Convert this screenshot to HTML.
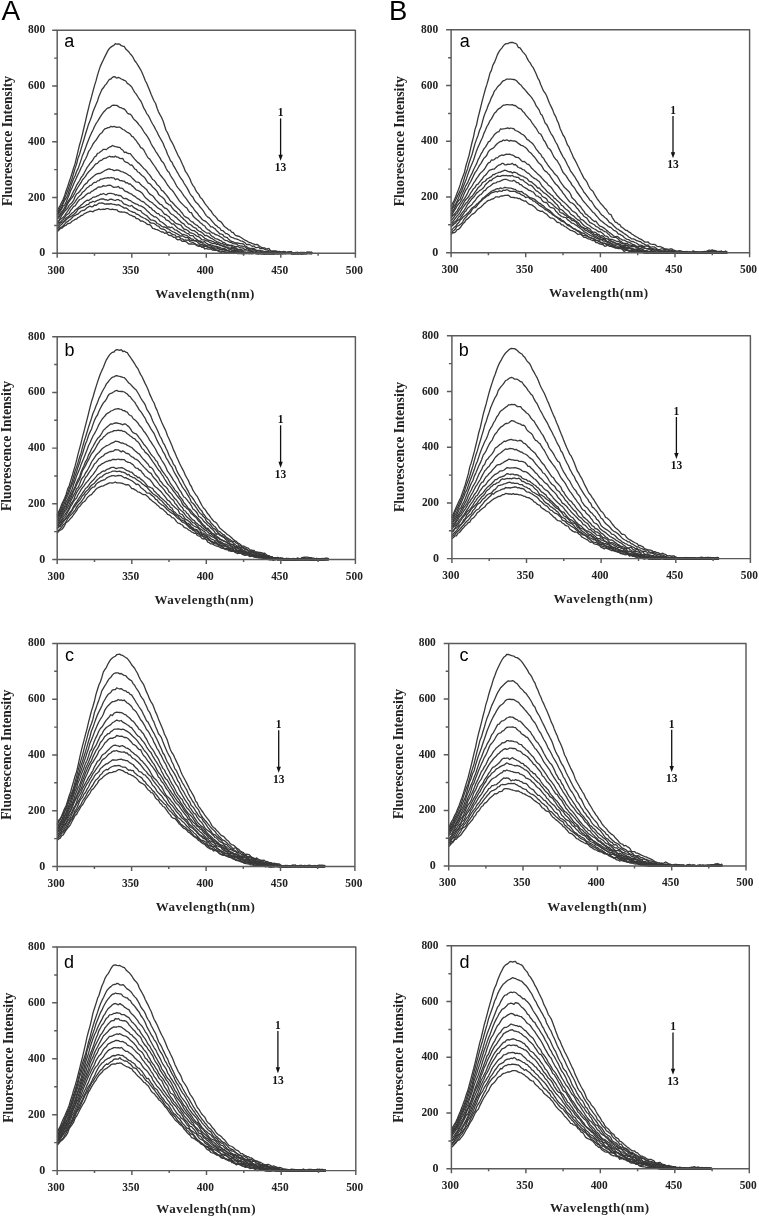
<!DOCTYPE html>
<html><head><meta charset="utf-8"><style>
html,body{margin:0;padding:0;background:#fff;}
body{width:759px;height:1217px;overflow:hidden;font-family:"Liberation Sans",sans-serif;}
svg{display:block;will-change:transform;}
</style></head><body>
<svg width="759" height="1217" viewBox="0 0 759 1217">
<g fill="none" stroke="#383838" stroke-width="1.3" stroke-linejoin="round">
<path d="M57.2,211.3 58.7,208.1 60.2,205.3 61.7,202.2 63.2,199.2 64.7,195.4 66.1,190.8 67.6,186.7 69.1,182 70.6,177.7 72.1,173 73.6,168 75.1,163.6 76.6,157.1 78.1,150.9 79.6,144.7 81.1,139.6 82.5,133.9 84,127.5 85.5,121.1 87,114.5 88.5,108.4 90,102.2 91.5,96.9 93,91.1 94.5,85.6 96,80.9 97.5,75.1 98.9,70.6 100.4,66.1 101.9,62.9 103.4,59.8 104.9,56.6 106.4,53.6 107.9,50.6 109.4,48.5 110.9,47.1 112.4,46.1 113.9,45.2 115.3,43.7 116.8,44.1 118.3,44 119.8,44.2 121.3,45.7 122.8,46.2 124.3,46.5 125.8,49.1 127.3,50.4 128.8,51.8 130.3,54 131.8,55.5 133.2,57.7 134.7,60.8 136.2,62.5 137.7,64.8 139.2,67.3 140.7,69.8 142.2,73.1 143.7,76.5 145.2,80.5 146.7,83.2 148.2,86.9 149.6,90.3 151.1,94.2 152.6,97.7 154.1,101 155.6,103.5 157.1,108.2 158.6,112.1 160.1,114.9 161.6,117.5 163.1,121 164.6,125.8 166,130.2 167.5,132.8 169,136.3 170.5,139.9 172,142.4 173.5,145.2 175,148.8 176.5,152.1 178,155.3 179.5,157.8 181,161.1 182.4,164.3 183.9,167.4 185.4,171.4 186.9,173.4 188.4,176 189.9,178.8 191.4,182.8 192.9,185.4 194.4,187.3 195.9,190.7 197.4,192.8 198.8,194.4 200.3,197.5 201.8,198.7 203.3,200.9 204.8,203.4 206.3,205.4 207.8,207.2 209.3,209.3 210.8,210.7 212.3,213.2 213.8,215.2 215.2,216.3 216.7,218.1 218.2,220.3 219.7,221.1 221.2,222 222.7,224.1 224.2,226.3 225.7,227.4 227.2,228.6 228.7,229.9 230.2,230.2 231.6,232.1 233.1,232.5 234.6,234.4 236.1,235.7 237.6,236 239.1,236.4 240.6,237.2 242.1,238.2 243.6,239.3 245.1,240.2 246.6,240.8 248,241.8 249.5,242.4 251,242.9 252.5,243.7 254,244.1 255.5,244.6 257,244.4 258.5,245.4 260,246.6 261.5,247.4 263,247.8 264.4,247.8 265.9,248.6 267.4,248.8 268.9,248.4 270.4,250.6 271.9,251.1 273.4,250.9 274.9,250.8 276.4,251 277.9,251.6 279.4,251.5 280.8,251.8 282.3,252.4 283.8,251.4 285.3,252 286.8,252.9 288.3,253.2 289.8,253.4 291.3,253.4 292.8,253.7 294.3,253.7 295.8,253.3 297.3,253.7 298.7,253.6 300.2,253 301.7,252.7 303.2,252.3 304.7,253.6 306.2,253.6 307.7,253.6 309.2,253.2 310.7,252.7 312.2,253.7"/>
<path d="M57.2,212.4 58.7,210.7 60.2,207.4 61.7,205.2 63.2,201.7 64.7,197.7 66.1,194.5 67.6,190.8 69.1,186.6 70.6,182.7 72.1,178.6 73.6,173.3 75.1,168.4 76.6,164.1 78.1,157.9 79.6,154.2 81.1,148.8 82.5,144.1 84,139.2 85.5,134 87,129.2 88.5,124.4 90,120.8 91.5,116.8 93,111.7 94.5,108 96,104.4 97.5,101 98.9,96.4 100.4,92.9 101.9,89.5 103.4,87.8 104.9,85.4 106.4,83.9 107.9,81.5 109.4,79.3 110.9,79 112.4,77.4 113.9,76.7 115.3,77 116.8,78.2 118.3,77.3 119.8,78 121.3,79 122.8,79.6 124.3,80.4 125.8,81 127.3,83.4 128.8,84.3 130.3,85.5 131.8,87.1 133.2,89.7 134.7,92.4 136.2,94.1 137.7,96.5 139.2,99 140.7,100.9 142.2,104 143.7,107.9 145.2,110.3 146.7,113.6 148.2,115.4 149.6,118 151.1,121.2 152.6,124 154.1,126.4 155.6,129.5 157.1,132 158.6,135.4 160.1,138 161.6,140.6 163.1,143.3 164.6,147.3 166,150 167.5,154.2 169,157.3 170.5,160.7 172,162.3 173.5,165.7 175,168.1 176.5,170.8 178,173.3 179.5,176.2 181,178.5 182.4,180.1 183.9,183 185.4,185.4 186.9,187.6 188.4,190.4 189.9,193.5 191.4,195.7 192.9,197.1 194.4,200.2 195.9,202.3 197.4,203.5 198.8,205.1 200.3,207.3 201.8,208.9 203.3,210.8 204.8,213.4 206.3,215.6 207.8,217.1 209.3,217.9 210.8,219.7 212.3,221.5 213.8,223.1 215.2,224.9 216.7,225.8 218.2,227.4 219.7,228 221.2,230.3 222.7,230.6 224.2,231.9 225.7,233.6 227.2,233.7 228.7,234.7 230.2,236.7 231.6,237.4 233.1,237.7 234.6,238.6 236.1,238.8 237.6,239.3 239.1,240 240.6,240.9 242.1,241.1 243.6,241.9 245.1,242.8 246.6,244.7 248,244.5 249.5,244.5 251,245.5 252.5,246.4 254,245.9 255.5,247.7 257,247.7 258.5,247 260,248.5 261.5,248.6 263,248.3 264.4,249.3 265.9,249.6 267.4,249.8 268.9,250.9 270.4,251.2 271.9,251.3 273.4,251.3 274.9,251.8 276.4,252.2 277.9,253 279.4,253.2 280.8,252.7 282.3,253 283.8,253.6 285.3,253.7 286.8,252.3 288.3,252.2 289.8,252.4 291.3,253.7 292.8,253.4 294.3,253.1 295.8,252.4 297.3,252.6 298.7,253 300.2,252.9 301.7,253.7 303.2,253.2 304.7,253.1 306.2,253.5 307.7,252.8 309.2,252.1 310.7,253.4 312.2,253.7"/>
<path d="M57.2,214.5 58.7,212.1 60.2,209.8 61.7,207.6 63.2,203.4 64.7,200.3 66.1,198.2 67.6,195.5 69.1,190.8 70.6,186.9 72.1,182.6 73.6,178.8 75.1,175.7 76.6,171.5 78.1,168.6 79.6,164.4 81.1,159.9 82.5,155.4 84,151.9 85.5,147.9 87,143.8 88.5,139.9 90,136.2 91.5,132.9 93,130 94.5,126.5 96,123.7 97.5,121.5 98.9,119.1 100.4,116.6 101.9,114.4 103.4,112.3 104.9,110.7 106.4,109.1 107.9,108 109.4,107.7 110.9,106.4 112.4,105.3 113.9,105.1 115.3,105.4 116.8,105.4 118.3,106.4 119.8,107.6 121.3,107.7 122.8,108.7 124.3,109 125.8,110.6 127.3,112.9 128.8,114 130.3,114.1 131.8,115.9 133.2,118.3 134.7,120.1 136.2,121.3 137.7,123 139.2,125.1 140.7,126.6 142.2,128.8 143.7,131.5 145.2,133.7 146.7,135.5 148.2,137.9 149.6,140.3 151.1,143.8 152.6,146.4 154.1,148.5 155.6,151.3 157.1,153.3 158.6,155.8 160.1,158.1 161.6,161.1 163.1,162.4 164.6,165 166,168.3 167.5,170.9 169,172.2 170.5,175.5 172,177.8 173.5,180 175,182.7 176.5,185.8 178,187.8 179.5,189.7 181,191.4 182.4,193.5 183.9,195.9 185.4,197.7 186.9,199.7 188.4,201.8 189.9,203.9 191.4,206 192.9,207.5 194.4,209.9 195.9,211.8 197.4,213.2 198.8,215.5 200.3,216.9 201.8,219.1 203.3,220.3 204.8,220.9 206.3,221.9 207.8,223.4 209.3,224.9 210.8,226.8 212.3,226.8 213.8,228 215.2,228.9 216.7,230.8 218.2,232 219.7,233.9 221.2,234 222.7,234.5 224.2,236.6 225.7,237.2 227.2,237.5 228.7,239.3 230.2,240.6 231.6,241.3 233.1,241.7 234.6,242.7 236.1,242.8 237.6,243 239.1,243.3 240.6,243.7 242.1,243.7 243.6,244.2 245.1,246 246.6,246.7 248,247.5 249.5,248.2 251,248.3 252.5,248.5 254,248.5 255.5,249.8 257,250.4 258.5,250.3 260,250.5 261.5,250.8 263,251 264.4,251.6 265.9,251.3 267.4,251.5 268.9,251.9 270.4,252.5 271.9,252.7 273.4,253.7 274.9,253.7 276.4,253.7 277.9,253.7 279.4,253.7 280.8,253.4 282.3,253.7 283.8,253.7 285.3,253.7 286.8,253.3 288.3,253 289.8,253.2 291.3,253.7 292.8,253.6 294.3,253.5 295.8,253 297.3,253 298.7,253.5 300.2,253.7 301.7,253.7 303.2,253.7 304.7,253.7 306.2,253.7 307.7,253.7 309.2,253.5 310.7,253.1 312.2,253.4"/>
<path d="M57.2,215.2 58.7,213.7 60.2,211.1 61.7,208.9 63.2,206 64.7,204.9 66.1,202 67.6,198.5 69.1,195 70.6,190.6 72.1,187.7 73.6,184.1 75.1,180.8 76.6,177.4 78.1,174.2 79.6,171.3 81.1,167.8 82.5,165.3 84,161.4 85.5,159 87,155.7 88.5,151.7 90,149.5 91.5,147 93,144 94.5,141.9 96,140.2 97.5,137.9 98.9,135.7 100.4,133.7 101.9,132.8 103.4,130.4 104.9,128.8 106.4,128.4 107.9,127.7 109.4,127.5 110.9,126.3 112.4,126.8 113.9,126.4 115.3,126.8 116.8,127.4 118.3,127.2 119.8,127.2 121.3,128.2 122.8,129.5 124.3,130 125.8,131.2 127.3,132.3 128.8,132.9 130.3,134.1 131.8,136.3 133.2,136.8 134.7,139 136.2,140.6 137.7,143 139.2,144.9 140.7,147.6 142.2,148.2 143.7,149.7 145.2,152.8 146.7,155.5 148.2,158 149.6,158.9 151.1,161.2 152.6,163.3 154.1,165.5 155.6,167.6 157.1,170.2 158.6,172.1 160.1,174.8 161.6,176.5 163.1,178.3 164.6,180.2 166,182.5 167.5,185 169,186.8 170.5,189 172,190.1 173.5,192 175,194.4 176.5,196.7 178,198.9 179.5,201.1 181,202.7 182.4,204.1 183.9,205.6 185.4,207.1 186.9,208 188.4,210.6 189.9,212.4 191.4,212.6 192.9,215.8 194.4,217.5 195.9,218.7 197.4,219.9 198.8,221.1 200.3,222.7 201.8,223.8 203.3,225.2 204.8,226 206.3,228.4 207.8,229.6 209.3,230.4 210.8,231.8 212.3,233 213.8,233.2 215.2,234.5 216.7,234.9 218.2,235.5 219.7,236.4 221.2,237.2 222.7,238.3 224.2,239.9 225.7,240.4 227.2,240.7 228.7,241.7 230.2,242.3 231.6,242.5 233.1,243.7 234.6,243.9 236.1,243.6 237.6,245 239.1,245.5 240.6,246.2 242.1,246 243.6,246.7 245.1,246.9 246.6,248.1 248,248.5 249.5,248.9 251,250.2 252.5,249.4 254,249.4 255.5,251 257,250.6 258.5,251 260,251.1 261.5,251.3 263,252.5 264.4,252.5 265.9,251.8 267.4,252.6 268.9,253.4 270.4,253.7 271.9,253.7 273.4,253.7 274.9,252.6 276.4,252.8 277.9,252.9 279.4,251.9 280.8,252.8 282.3,253.2 283.8,252.7 285.3,252.1 286.8,252.4 288.3,252.5 289.8,251.9 291.3,251.7 292.8,252.7 294.3,252.9 295.8,253.3 297.3,253.1 298.7,253.3 300.2,253.3 301.7,253.5 303.2,252.9 304.7,252.4 306.2,253 307.7,252.7 309.2,253.4 310.7,253.3 312.2,252.9"/>
<path d="M57.2,217.3 58.7,215.9 60.2,213.9 61.7,211.7 63.2,210.2 64.7,207.4 66.1,205 67.6,201.9 69.1,199.8 70.6,197.7 72.1,194.3 73.6,191.1 75.1,188.6 76.6,185.2 78.1,182.8 79.6,180.5 81.1,177.5 82.5,175.8 84,173.3 85.5,170.5 87,167.6 88.5,165.6 90,163.4 91.5,161.8 93,159.6 94.5,157 96,156.1 97.5,153.4 98.9,153 100.4,151.8 101.9,150.7 103.4,149.3 104.9,149.4 106.4,149.6 107.9,148.1 109.4,147.2 110.9,146.7 112.4,145.5 113.9,146.2 115.3,146.7 116.8,146.8 118.3,147.4 119.8,147.3 121.3,149.2 122.8,150 124.3,152.5 125.8,152.1 127.3,153.1 128.8,153.5 130.3,153.7 131.8,155.6 133.2,157.3 134.7,159.1 136.2,160.8 137.7,162.4 139.2,163.4 140.7,165 142.2,166.6 143.7,168.4 145.2,169.6 146.7,171.3 148.2,173.4 149.6,174.9 151.1,177 152.6,179.5 154.1,180.3 155.6,182.1 157.1,184.7 158.6,185.8 160.1,187.7 161.6,190.4 163.1,191.1 164.6,193 166,194.6 167.5,196.5 169,198.6 170.5,201.1 172,202 173.5,203.7 175,205.5 176.5,206.9 178,208.5 179.5,209.8 181,211.7 182.4,213.2 183.9,215.8 185.4,216.9 186.9,217.6 188.4,218.3 189.9,220.1 191.4,221.6 192.9,222 194.4,223.8 195.9,224.8 197.4,225.4 198.8,227.1 200.3,227.8 201.8,229.7 203.3,230.7 204.8,231.8 206.3,232.8 207.8,233.2 209.3,233.2 210.8,235.2 212.3,236.6 213.8,237.1 215.2,238.6 216.7,238.9 218.2,239.4 219.7,240.4 221.2,240.8 222.7,242.4 224.2,242.4 225.7,243.8 227.2,244.4 228.7,244.9 230.2,245.3 231.6,245.2 233.1,245.8 234.6,246.5 236.1,246.7 237.6,246.4 239.1,247.3 240.6,247.8 242.1,247.8 243.6,248.4 245.1,249.7 246.6,248.7 248,248.4 249.5,250.6 251,250.8 252.5,250.9 254,250.8 255.5,251 257,251.7 258.5,252.6 260,252.5 261.5,252.2 263,253.2 264.4,253.7 265.9,253.6 267.4,253.7 268.9,253.7 270.4,253.7 271.9,253.4 273.4,253.7 274.9,253.7 276.4,253.7 277.9,253.6 279.4,253.7 280.8,253.5 282.3,253 283.8,252.6 285.3,252.1 286.8,253.1 288.3,253.4 289.8,253.7 291.3,253 292.8,253.5 294.3,253.4 295.8,253.1 297.3,253.7 298.7,253.4 300.2,253.3 301.7,253.7 303.2,253.6 304.7,252.9 306.2,253.7 307.7,253.3 309.2,253.2 310.7,253 312.2,252.9"/>
<path d="M57.2,219.1 58.7,217.7 60.2,215.4 61.7,213.8 63.2,211.3 64.7,209.6 66.1,207.2 67.6,203.8 69.1,201.5 70.6,199.4 72.1,197.6 73.6,195.3 75.1,192.5 76.6,189.4 78.1,187 79.6,184.6 81.1,182.5 82.5,179.7 84,178.1 85.5,176.4 87,173.8 88.5,172 90,170.4 91.5,169 93,167.3 94.5,165.3 96,163.8 97.5,163.3 98.9,161.6 100.4,160.5 101.9,160.1 103.4,158.7 104.9,158.3 106.4,157.9 107.9,157 109.4,156.2 110.9,156.8 112.4,156.6 113.9,157.2 115.3,156.1 116.8,157.2 118.3,157.2 119.8,158.4 121.3,158.7 122.8,158.5 124.3,161.3 125.8,162.1 127.3,162.5 128.8,163.6 130.3,165.1 131.8,165 133.2,166.7 134.7,169 136.2,169.7 137.7,172 139.2,172.5 140.7,174.3 142.2,175.7 143.7,176.6 145.2,178.4 146.7,180.9 148.2,183.1 149.6,183.6 151.1,184.9 152.6,187.1 154.1,188.2 155.6,189.8 157.1,191.4 158.6,194.4 160.1,195.8 161.6,196.7 163.1,198 164.6,199.4 166,202.6 167.5,203.6 169,204.8 170.5,205.1 172,207.7 173.5,209.5 175,210.9 176.5,211.9 178,213.8 179.5,214.6 181,216.7 182.4,217.8 183.9,219.5 185.4,220.6 186.9,222.2 188.4,224 189.9,224.2 191.4,225.2 192.9,226.7 194.4,227.7 195.9,228.2 197.4,230 198.8,231 200.3,231.6 201.8,232.4 203.3,233.7 204.8,235.7 206.3,235.4 207.8,236.1 209.3,237.1 210.8,238.1 212.3,238.7 213.8,239.7 215.2,240.8 216.7,241.6 218.2,242.2 219.7,242.9 221.2,243.8 222.7,243.6 224.2,244.8 225.7,244.7 227.2,245.7 228.7,245.8 230.2,245.5 231.6,246.2 233.1,247.3 234.6,247.6 236.1,248 237.6,249.3 239.1,249.5 240.6,249.5 242.1,249.9 243.6,250.1 245.1,250 246.6,250 248,250.2 249.5,250.5 251,251.3 252.5,251.6 254,252.1 255.5,252.4 257,252.7 258.5,253.7 260,253.6 261.5,253.5 263,253.7 264.4,253.6 265.9,253.2 267.4,253.3 268.9,252.3 270.4,253.7 271.9,253.7 273.4,253.7 274.9,253.4 276.4,252 277.9,253.7 279.4,253.5 280.8,253.2 282.3,253.4 283.8,253.1 285.3,253.7 286.8,253.4 288.3,253.2 289.8,253.2 291.3,253.6 292.8,253.1 294.3,253.4 295.8,253.3 297.3,253.5 298.7,253.7 300.2,253.7 301.7,253.5 303.2,253 304.7,253.6 306.2,253.5 307.7,253.1 309.2,253.1 310.7,252.6 312.2,251.9"/>
<path d="M57.2,222 58.7,221 60.2,218.1 61.7,215.4 63.2,213.3 64.7,211.2 66.1,209.8 67.6,208.1 69.1,205.4 70.6,203.9 72.1,202.5 73.6,200.4 75.1,196.6 76.6,194 78.1,193 79.6,191.5 81.1,189.4 82.5,188 84,185.3 85.5,183.9 87,182.9 88.5,180.4 90,179.5 91.5,177.9 93,176.7 94.5,175.6 96,174.3 97.5,173.7 98.9,173.5 100.4,173.3 101.9,172.4 103.4,171.5 104.9,170.5 106.4,169.8 107.9,169.1 109.4,169 110.9,169.4 112.4,169.7 113.9,170.6 115.3,170.3 116.8,170 118.3,170.2 119.8,170.9 121.3,171.6 122.8,171.8 124.3,172.7 125.8,173.3 127.3,174.2 128.8,175.3 130.3,175.8 131.8,177.6 133.2,179 134.7,180.5 136.2,181.9 137.7,182.1 139.2,182.7 140.7,184.6 142.2,185.9 143.7,187 145.2,188.4 146.7,189.6 148.2,192.2 149.6,193.9 151.1,194.9 152.6,195.7 154.1,197.5 155.6,199.6 157.1,201.1 158.6,202.7 160.1,204.3 161.6,204.7 163.1,206.6 164.6,208 166,208.3 167.5,209.6 169,211.3 170.5,213.4 172,214.5 173.5,215.1 175,216.6 176.5,217.6 178,219.3 179.5,220.5 181,222.1 182.4,223.1 183.9,223.8 185.4,226 186.9,227 188.4,227.8 189.9,229.1 191.4,230.2 192.9,230.6 194.4,230.7 195.9,231.9 197.4,233.1 198.8,235 200.3,234.7 201.8,235.8 203.3,236.9 204.8,238.3 206.3,238.9 207.8,240 209.3,240.3 210.8,240.6 212.3,241.3 213.8,241.9 215.2,243 216.7,242.7 218.2,243.9 219.7,245.3 221.2,245.5 222.7,246.1 224.2,246.8 225.7,247 227.2,247.1 228.7,248 230.2,248.2 231.6,247.7 233.1,248 234.6,248.7 236.1,249.2 237.6,249.7 239.1,250 240.6,250 242.1,250.5 243.6,252.1 245.1,251.8 246.6,252.3 248,251.8 249.5,252.4 251,252.4 252.5,251.5 254,252.8 255.5,253.5 257,253.7 258.5,253.7 260,253.7 261.5,253.7 263,253.7 264.4,253.7 265.9,253.7 267.4,253.7 268.9,253.7 270.4,253.7 271.9,253.4 273.4,252.7 274.9,252 276.4,252.1 277.9,252.6 279.4,252.9 280.8,252.2 282.3,252 283.8,252.8 285.3,252.8 286.8,252.9 288.3,253.1 289.8,253.4 291.3,253.7 292.8,253.7 294.3,253.7 295.8,253.2 297.3,253 298.7,253.7 300.2,252.8 301.7,252.6 303.2,253.7 304.7,252.7 306.2,252.6 307.7,251.9 309.2,253.2 310.7,253 312.2,252.9"/>
<path d="M57.2,223.1 58.7,221.5 60.2,219.3 61.7,218.6 63.2,217.2 64.7,215.6 66.1,213.4 67.6,211.4 69.1,209 70.6,206.9 72.1,205.1 73.6,203.6 75.1,201.8 76.6,199.4 78.1,197.4 79.6,195.9 81.1,194.6 82.5,192.2 84,191.3 85.5,189.6 87,187.8 88.5,187 90,185.4 91.5,185.1 93,183.3 94.5,182.4 96,182.4 97.5,180.9 98.9,180.7 100.4,179.2 101.9,179.2 103.4,178.7 104.9,178.2 106.4,178.1 107.9,177.7 109.4,178 110.9,177.5 112.4,177.8 113.9,177.9 115.3,179.7 116.8,178.8 118.3,179.2 119.8,180.6 121.3,180.7 122.8,181 124.3,181.2 125.8,182.8 127.3,182.7 128.8,184 130.3,183.9 131.8,185.6 133.2,186.6 134.7,188.2 136.2,189.9 137.7,190.3 139.2,191.2 140.7,191.9 142.2,193.2 143.7,195.3 145.2,197.5 146.7,198.7 148.2,200 149.6,201.4 151.1,202 152.6,203.1 154.1,204.6 155.6,205.8 157.1,207.2 158.6,208.4 160.1,209.3 161.6,210.3 163.1,212.3 164.6,214.3 166,214.5 167.5,215.8 169,216.6 170.5,218.9 172,220 173.5,221 175,222.8 176.5,223.7 178,224.1 179.5,224.7 181,225.2 182.4,227.3 183.9,229 185.4,229.4 186.9,229.9 188.4,231 189.9,232.7 191.4,233 192.9,233.5 194.4,234.3 195.9,235.6 197.4,236.3 198.8,236.8 200.3,238 201.8,239.7 203.3,239.8 204.8,240 206.3,240.8 207.8,241 209.3,242.1 210.8,242.8 212.3,243.5 213.8,243.7 215.2,243.5 216.7,244.6 218.2,244.2 219.7,244.6 221.2,245.3 222.7,246 224.2,246 225.7,247.2 227.2,247.9 228.7,249 230.2,248.9 231.6,248.6 233.1,249 234.6,249.5 236.1,250.1 237.6,250.4 239.1,251.5 240.6,251 242.1,251.6 243.6,252.3 245.1,252.7 246.6,253 248,252.4 249.5,252.1 251,253.3 252.5,252.8 254,252.7 255.5,253.3 257,253.7 258.5,253.7 260,253.7 261.5,253.5 263,253.6 264.4,253.7 265.9,253.7 267.4,253.7 268.9,253.3 270.4,253.7 271.9,253.7 273.4,253.7 274.9,253.7 276.4,253 277.9,252.7 279.4,252.7 280.8,252.8 282.3,253.6 283.8,253.4 285.3,253 286.8,252.9 288.3,251.9 289.8,252.1 291.3,252.3 292.8,252.9 294.3,253.7 295.8,253.3 297.3,252.6 298.7,252.9 300.2,253.6 301.7,253.7 303.2,253.7 304.7,253 306.2,253 307.7,252.7 309.2,252.3 310.7,252.2 312.2,253"/>
<path d="M57.2,224.4 58.7,222.8 60.2,222.3 61.7,220.7 63.2,219.6 64.7,217.5 66.1,215.3 67.6,214.2 69.1,213.3 70.6,210.4 72.1,208.6 73.6,206.4 75.1,205.9 76.6,203.7 78.1,201.4 79.6,199.5 81.1,199 82.5,197.9 84,196.9 85.5,195.3 87,193.9 88.5,193.1 90,193 91.5,191.4 93,190.8 94.5,189.6 96,188.9 97.5,187.5 98.9,186.8 100.4,187.1 101.9,186.6 103.4,185.6 104.9,186.1 106.4,185.9 107.9,185.3 109.4,185.1 110.9,185.4 112.4,186.6 113.9,187.3 115.3,187.1 116.8,187.2 118.3,186.4 119.8,188 121.3,188.1 122.8,188.7 124.3,190.6 125.8,191.5 127.3,191.9 128.8,192.9 130.3,193.6 131.8,194.2 133.2,195.6 134.7,196.2 136.2,197.5 137.7,198.7 139.2,199.3 140.7,200.7 142.2,201.5 143.7,201.9 145.2,203.4 146.7,204.8 148.2,205.7 149.6,207.3 151.1,207.9 152.6,210 154.1,210.7 155.6,212.2 157.1,213.6 158.6,213.7 160.1,215.6 161.6,215.8 163.1,217 164.6,217.7 166,219.9 167.5,220.4 169,221.1 170.5,222.7 172,224.1 173.5,223.9 175,225.5 176.5,227.1 178,228.5 179.5,229.1 181,229.9 182.4,230.8 183.9,231 185.4,232.5 186.9,233.3 188.4,233.6 189.9,235.4 191.4,235.6 192.9,235.7 194.4,237.7 195.9,238.9 197.4,239.9 198.8,241.1 200.3,240.8 201.8,242.2 203.3,242 204.8,241.7 206.3,243.4 207.8,243.9 209.3,245.2 210.8,244.7 212.3,245.5 213.8,245.9 215.2,246.2 216.7,246.3 218.2,247 219.7,247.4 221.2,248.1 222.7,248.3 224.2,249.2 225.7,249.2 227.2,250.4 228.7,250.5 230.2,249.4 231.6,250 233.1,251.1 234.6,251 236.1,251.7 237.6,252.6 239.1,252.6 240.6,252.1 242.1,252.1 243.6,252.4 245.1,253.1 246.6,253.7 248,252.8 249.5,253 251,253.6 252.5,253.7 254,253.7 255.5,252.7 257,253.6 258.5,253.5 260,253.3 261.5,253.4 263,253.5 264.4,253.7 265.9,253.7 267.4,252.9 268.9,253.5 270.4,253 271.9,253.7 273.4,253.7 274.9,253.4 276.4,252.8 277.9,253.6 279.4,253.2 280.8,253 282.3,253.5 283.8,253.2 285.3,253.7 286.8,253.7 288.3,253.6 289.8,253.7 291.3,253.7 292.8,253.7 294.3,253.7 295.8,253.7 297.3,253.3 298.7,253.5 300.2,252.8 301.7,253.6 303.2,253.7 304.7,252.9 306.2,252.9 307.7,252.6 309.2,253.4 310.7,252.9 312.2,253"/>
<path d="M57.2,226.3 58.7,225.1 60.2,223.2 61.7,222.4 63.2,221.5 64.7,220.5 66.1,218 67.6,217 69.1,215.9 70.6,214.6 72.1,213 73.6,212 75.1,210.3 76.6,209 78.1,207.7 79.6,206.6 81.1,205 82.5,203.9 84,202.6 85.5,201.3 87,200.2 88.5,200.5 90,199.4 91.5,198.6 93,197.1 94.5,197.2 96,196.6 97.5,195.8 98.9,195.3 100.4,194.2 101.9,194.3 103.4,193.5 104.9,194.3 106.4,194.8 107.9,193.6 109.4,193.4 110.9,193.4 112.4,193.7 113.9,193.9 115.3,195 116.8,194.7 118.3,195.5 119.8,195.4 121.3,196.1 122.8,197.9 124.3,198.7 125.8,198.3 127.3,199.1 128.8,200.1 130.3,200.6 131.8,201.7 133.2,202.7 134.7,203.4 136.2,204.2 137.7,204.4 139.2,205.7 140.7,205.9 142.2,206.6 143.7,207.5 145.2,208.8 146.7,210.4 148.2,211.8 149.6,213.1 151.1,214.6 152.6,215.5 154.1,216.8 155.6,216.8 157.1,217.9 158.6,219.4 160.1,221.4 161.6,222 163.1,223 164.6,224.3 166,225.5 167.5,227.1 169,226.9 170.5,227.7 172,227.1 173.5,228.6 175,229.9 176.5,230.1 178,231.4 179.5,232.4 181,233.5 182.4,234.6 183.9,234.5 185.4,235.1 186.9,235.4 188.4,236.9 189.9,237.8 191.4,239.1 192.9,239.1 194.4,240.6 195.9,240.7 197.4,240.8 198.8,241 200.3,242.5 201.8,242.5 203.3,243.7 204.8,244.6 206.3,245.6 207.8,245.1 209.3,244.8 210.8,246 212.3,246.9 213.8,247.4 215.2,246.4 216.7,246.8 218.2,248 219.7,249.4 221.2,249.7 222.7,249.1 224.2,248.6 225.7,249.6 227.2,250.5 228.7,251 230.2,252 231.6,251.3 233.1,252.1 234.6,251.5 236.1,252.7 237.6,253.2 239.1,252.8 240.6,253.2 242.1,252.8 243.6,253 245.1,253.7 246.6,253.3 248,252.9 249.5,253.7 251,252.8 252.5,252.8 254,252.7 255.5,253.7 257,253.7 258.5,253.7 260,253 261.5,253.7 263,253.7 264.4,253.7 265.9,253.7 267.4,253.5 268.9,253.7 270.4,253.7 271.9,253.4 273.4,252.6 274.9,252.6 276.4,253.1 277.9,253.7 279.4,253.7 280.8,253.7 282.3,253.6 283.8,253.5 285.3,252.5 286.8,252.8 288.3,253.6 289.8,252.7 291.3,252.5 292.8,252.9 294.3,253.4 295.8,253.7 297.3,253.7 298.7,253.4 300.2,253.7 301.7,253.7 303.2,253.6 304.7,253.3 306.2,253 307.7,252.8 309.2,252.4 310.7,253.3 312.2,252.8"/>
<path d="M57.2,228.9 58.7,227 60.2,225.6 61.7,224.3 63.2,222.6 64.7,221.5 66.1,219.8 67.6,218.4 69.1,217.4 70.6,216.6 72.1,215.7 73.6,214.5 75.1,213.2 76.6,211.8 78.1,209.1 79.6,208.4 81.1,207.5 82.5,207.3 84,206.7 85.5,205.8 87,204.6 88.5,204.3 90,202.5 91.5,202.3 93,201.2 94.5,202 96,201.1 97.5,200.3 98.9,199.8 100.4,199.2 101.9,199 103.4,198.9 104.9,199.8 106.4,199.7 107.9,200.5 109.4,199.5 110.9,199.2 112.4,199.5 113.9,200.1 115.3,200.5 116.8,199.7 118.3,199.6 119.8,200.7 121.3,200.9 122.8,202.7 124.3,204.2 125.8,204.5 127.3,205.2 128.8,205.8 130.3,206.1 131.8,205.3 133.2,207.1 134.7,208.1 136.2,208.9 137.7,209.9 139.2,210.4 140.7,210.7 142.2,212.8 143.7,213.7 145.2,214.8 146.7,215.5 148.2,217.3 149.6,218.7 151.1,220.2 152.6,220.1 154.1,220.6 155.6,221.4 157.1,223.5 158.6,224 160.1,224.9 161.6,226.2 163.1,227 164.6,227 166,227.6 167.5,228.6 169,229.2 170.5,230.5 172,231.3 173.5,232 175,232.6 176.5,233.5 178,234.4 179.5,235.3 181,236.3 182.4,235.7 183.9,236.6 185.4,237.5 186.9,237.3 188.4,238 189.9,240.1 191.4,240.3 192.9,240.7 194.4,240.6 195.9,241.2 197.4,242 198.8,243.6 200.3,244.5 201.8,244.7 203.3,244.9 204.8,246 206.3,246.4 207.8,246.9 209.3,247.1 210.8,247.2 212.3,247.8 213.8,248.8 215.2,248.2 216.7,247.9 218.2,248.8 219.7,248.8 221.2,249.3 222.7,249.6 224.2,249.9 225.7,250.9 227.2,250.8 228.7,250.7 230.2,251.7 231.6,250.9 233.1,250.6 234.6,250.6 236.1,250.7 237.6,251.5 239.1,252.5 240.6,253.2 242.1,253.7 243.6,253.5 245.1,253.4 246.6,253 248,253.7 249.5,252.6 251,251.8 252.5,252.6 254,252.6 255.5,252.7 257,252.9 258.5,253.2 260,253.3 261.5,253.7 263,253.4 264.4,253.4 265.9,253.2 267.4,253.7 268.9,253.5 270.4,253.4 271.9,253 273.4,253.7 274.9,253.3 276.4,252.8 277.9,252.8 279.4,253.2 280.8,253.5 282.3,253.5 283.8,253 285.3,252.4 286.8,252.9 288.3,253.4 289.8,253.2 291.3,253.1 292.8,253.7 294.3,253.7 295.8,253.6 297.3,253.1 298.7,253.7 300.2,253.7 301.7,253.4 303.2,253.7 304.7,253.6 306.2,253.3 307.7,253.3 309.2,253.7 310.7,253.6 312.2,253.6"/>
<path d="M57.2,229.9 58.7,229.2 60.2,227.3 61.7,227.1 63.2,225.7 64.7,224.2 66.1,222.4 67.6,221.7 69.1,220.2 70.6,219.4 72.1,217.8 73.6,215.9 75.1,215.5 76.6,214.4 78.1,214 79.6,212.4 81.1,211 82.5,210.5 84,210.4 85.5,209.2 87,207.8 88.5,206.9 90,206.2 91.5,206.9 93,206.5 94.5,205 96,205.4 97.5,204.2 98.9,203.2 100.4,203.1 101.9,202.8 103.4,203.4 104.9,204.1 106.4,203.9 107.9,204 109.4,204 110.9,203.7 112.4,204.2 113.9,204.4 115.3,204.6 116.8,205.1 118.3,204.7 119.8,205.4 121.3,206.3 122.8,207.1 124.3,208.1 125.8,207.9 127.3,208.8 128.8,210.2 130.3,211 131.8,211.6 133.2,212.4 134.7,212.4 136.2,214 137.7,214.4 139.2,215.2 140.7,216.6 142.2,217.2 143.7,218 145.2,218.5 146.7,219.7 148.2,220.3 149.6,222.1 151.1,223.1 152.6,223.1 154.1,223.4 155.6,224.6 157.1,225.8 158.6,226.1 160.1,228.2 161.6,229 163.1,229.1 164.6,229.6 166,231 167.5,232.6 169,232.1 170.5,232.9 172,234.2 173.5,234.7 175,234.9 176.5,237.1 178,236.7 179.5,237 181,238.9 182.4,238.8 183.9,240.3 185.4,239.9 186.9,240.3 188.4,239.9 189.9,241.5 191.4,242.2 192.9,242.3 194.4,243.4 195.9,244.3 197.4,244.8 198.8,245.2 200.3,246.1 201.8,246 203.3,246.1 204.8,246.6 206.3,246.2 207.8,247.3 209.3,247.2 210.8,248.2 212.3,248.3 213.8,249.8 215.2,249.7 216.7,249.9 218.2,250.4 219.7,250.8 221.2,251.1 222.7,251.5 224.2,252.6 225.7,252.5 227.2,252.5 228.7,252.6 230.2,253 231.6,252.9 233.1,252.5 234.6,252.9 236.1,253.3 237.6,252.7 239.1,252.5 240.6,252.5 242.1,252.3 243.6,253 245.1,253.2 246.6,252.7 248,253.3 249.5,253.3 251,253.1 252.5,253 254,253.3 255.5,252.8 257,253.1 258.5,252.9 260,252.5 261.5,252.6 263,252.6 264.4,253.5 265.9,253.7 267.4,253.7 268.9,253.4 270.4,252.6 271.9,253.6 273.4,253.3 274.9,253.7 276.4,253.7 277.9,253.7 279.4,253.2 280.8,253.1 282.3,252.6 283.8,253.5 285.3,252.9 286.8,252.6 288.3,252.9 289.8,252.9 291.3,253.4 292.8,253.7 294.3,253.7 295.8,253.7 297.3,252.1 298.7,253 300.2,252.3 301.7,252.7 303.2,252.8 304.7,252.7 306.2,253.4 307.7,252.9 309.2,252.9 310.7,253.7 312.2,253.3"/>
<path d="M57.2,231.5 58.7,230.4 60.2,228.6 61.7,228.2 63.2,227 64.7,225.7 66.1,225.3 67.6,223.6 69.1,223.5 70.6,222.8 72.1,221.1 73.6,220.5 75.1,219.3 76.6,219 78.1,217.5 79.6,216.9 81.1,215.5 82.5,215.4 84,213.9 85.5,213.2 87,212.4 88.5,211.8 90,211.1 91.5,211.3 93,211.8 94.5,210.5 96,210.2 97.5,209.7 98.9,208.9 100.4,209.7 101.9,209.4 103.4,209.2 104.9,209.3 106.4,208.7 107.9,208.7 109.4,209.2 110.9,209.6 112.4,209.1 113.9,209.7 115.3,209.6 116.8,209.8 118.3,211.3 119.8,211.9 121.3,212 122.8,212.1 124.3,212.2 125.8,212.6 127.3,213 128.8,214.2 130.3,215.1 131.8,215.4 133.2,216.5 134.7,216.7 136.2,218.5 137.7,218.6 139.2,219.5 140.7,221.2 142.2,221 143.7,221.7 145.2,222.5 146.7,223.9 148.2,224.7 149.6,224.5 151.1,225.9 152.6,228.4 154.1,228.7 155.6,229.4 157.1,229.6 158.6,230.3 160.1,231.2 161.6,232 163.1,231.9 164.6,233.4 166,232.8 167.5,234.1 169,235.4 170.5,235.5 172,235.9 173.5,237.3 175,237.4 176.5,239.1 178,239.8 179.5,239.4 181,240.2 182.4,241.4 183.9,241.4 185.4,241.4 186.9,242.2 188.4,243.8 189.9,244 191.4,244 192.9,244.1 194.4,243.8 195.9,245 197.4,245.9 198.8,246.3 200.3,246.1 201.8,247.3 203.3,247 204.8,249 206.3,248.4 207.8,249.1 209.3,249 210.8,249 212.3,250.1 213.8,250.2 215.2,250.3 216.7,250.3 218.2,251.2 219.7,251.8 221.2,252.7 222.7,251 224.2,251.7 225.7,252.1 227.2,253.1 228.7,252.5 230.2,253 231.6,252.4 233.1,252.4 234.6,252.9 236.1,252.7 237.6,253.6 239.1,253.6 240.6,253.7 242.1,253.7 243.6,253.7 245.1,253.6 246.6,252.7 248,253.7 249.5,253.7 251,253.7 252.5,253.7 254,253.4 255.5,253.2 257,253.2 258.5,253.5 260,253.2 261.5,253 263,253.7 264.4,253.7 265.9,253.7 267.4,253.7 268.9,253.7 270.4,253.5 271.9,253.3 273.4,253.7 274.9,253.6 276.4,253.7 277.9,253.4 279.4,253 280.8,252.3 282.3,252.2 283.8,253.1 285.3,253.4 286.8,253.7 288.3,253.4 289.8,252.4 291.3,252.5 292.8,253.7 294.3,253.7 295.8,253.7 297.3,253.6 298.7,253.5 300.2,253.2 301.7,252.4 303.2,253.2 304.7,253.7 306.2,252.5 307.7,252.7 309.2,253.4 310.7,253.7 312.2,253.7"/>
</g>
<g fill="none" stroke="#5a5a5a" stroke-width="1.45" stroke-linejoin="round">
<path d="M57.2,30.2H355.4V253.3H57.2Z"/>
<path d="M57.2,253.3h-5M57.2,225.4h-3M57.2,197.5h-5M57.2,169.6h-3M57.2,141.8h-5M57.2,113.9h-3M57.2,86h-5M57.2,58.1h-3M57.2,30.2h-5M57.2,253.3v4.5M94.5,253.3v2.5M131.8,253.3v4.5M169,253.3v2.5M206.3,253.3v4.5M243.6,253.3v2.5M280.8,253.3v4.5M318.1,253.3v2.5M355.4,253.3v4.5"/>
</g>
<g font-family="Liberation Serif" font-weight="bold" font-size="12" fill="#222">
<text x="45.2" y="256.3" text-anchor="end">0</text>
<text x="45.2" y="200.5" text-anchor="end" textLength="17.1" lengthAdjust="spacingAndGlyphs">200</text>
<text x="45.2" y="144.8" text-anchor="end" textLength="17.1" lengthAdjust="spacingAndGlyphs">400</text>
<text x="45.2" y="89" text-anchor="end" textLength="17.1" lengthAdjust="spacingAndGlyphs">600</text>
<text x="45.2" y="33.2" text-anchor="end" textLength="17.1" lengthAdjust="spacingAndGlyphs">800</text>
<text x="56.1" y="273.6" text-anchor="middle" textLength="17.1" lengthAdjust="spacingAndGlyphs">300</text>
<text x="130.7" y="273.6" text-anchor="middle" textLength="17.1" lengthAdjust="spacingAndGlyphs">350</text>
<text x="205.2" y="273.6" text-anchor="middle" textLength="17.1" lengthAdjust="spacingAndGlyphs">400</text>
<text x="279.7" y="273.6" text-anchor="middle" textLength="17.1" lengthAdjust="spacingAndGlyphs">450</text>
<text x="354.3" y="273.6" text-anchor="middle" textLength="17.1" lengthAdjust="spacingAndGlyphs">500</text>
<text x="205.1" y="297.9" text-anchor="middle" font-size="13" letter-spacing="0.52">Wavelength(nm)</text>
<text transform="translate(11.9,141) rotate(-90)" text-anchor="middle" font-size="13.6">Fluorescence Intensity</text>
</g>
<text x="64.2" y="47.4" font-family="Liberation Sans" font-size="18" fill="#000">a</text>
<g font-family="Liberation Serif" font-weight="bold" font-size="11.5" fill="#111" text-anchor="middle">
<text x="280.6" y="116.4">1</text>
<text x="280.6" y="171.3">13</text>
</g>
<path d="M280.6,118.4V156.8" stroke="#111" stroke-width="1.3"/>
<path d="M278.4,154.8h4.4l-2.2,6z" fill="#111"/>
<g fill="none" stroke="#383838" stroke-width="1.3" stroke-linejoin="round">
<path d="M57.2,515.3 58.7,511.8 60.2,508.3 61.7,504.4 63.2,501.2 64.7,498 66.1,494.4 67.6,489.1 69.1,486 70.6,481.1 72.1,476.3 73.6,470.9 75.1,465.9 76.6,460.1 78.1,453.9 79.6,448.4 81.1,442.8 82.5,436.9 84,431.4 85.5,425.4 87,419.6 88.5,413.6 90,407.3 91.5,401.6 93,397 94.5,391.7 96,386.9 97.5,382.1 98.9,378 100.4,373.8 101.9,370.4 103.4,367.2 104.9,363.3 106.4,359.8 107.9,357.3 109.4,355.2 110.9,353.4 112.4,352.3 113.9,352 115.3,350.3 116.8,349.6 118.3,349.8 119.8,350.3 121.3,349.7 122.8,351.5 124.3,351.1 125.8,352.2 127.3,352.6 128.8,355.2 130.3,357.2 131.8,359.5 133.2,361.4 134.7,363.8 136.2,366.5 137.7,368.3 139.2,371.6 140.7,374.6 142.2,377 143.7,380.4 145.2,383.6 146.7,386.5 148.2,390 149.6,393.9 151.1,397.1 152.6,400.5 154.1,403 155.6,407.4 157.1,410.4 158.6,414.6 160.1,418.3 161.6,421.9 163.1,425.2 164.6,428.4 166,431.3 167.5,435.8 169,438.8 170.5,442.2 172,445.7 173.5,449.9 175,452.9 176.5,456.6 178,459.8 179.5,463.3 181,466.2 182.4,468.9 183.9,471.8 185.4,475.4 186.9,478 188.4,480.6 189.9,484.4 191.4,486.5 192.9,490.2 194.4,492.5 195.9,494.8 197.4,496.7 198.8,499.5 200.3,502.4 201.8,505.2 203.3,507.8 204.8,509.2 206.3,511.4 207.8,513.8 209.3,515.3 210.8,517.6 212.3,519.5 213.8,521.4 215.2,522 216.7,523.3 218.2,525.5 219.7,528.1 221.2,529.2 222.7,530.5 224.2,531.7 225.7,532.9 227.2,534.5 228.7,535.3 230.2,536.4 231.6,537.7 233.1,539.3 234.6,540.6 236.1,541.2 237.6,542.8 239.1,543.6 240.6,544.8 242.1,546.1 243.6,546.1 245.1,546.9 246.6,547.6 248,547.9 249.5,549.5 251,550 252.5,550.3 254,550.5 255.5,551.9 257,551.9 258.5,552.4 260,552.4 261.5,552.7 263,553.4 264.4,553.1 265.9,554.3 267.4,555.3 268.9,555.9 270.4,556.7 271.9,556.8 273.4,558 274.9,557.8 276.4,557.6 277.9,557.4 279.4,558.1 280.8,557.7 282.3,558.6 283.8,559 285.3,559.9 286.8,559.9 288.3,559.9 289.8,559.2 291.3,559.1 292.8,559.8 294.3,559.4 295.8,559.2 297.3,559.5 298.7,559.5 300.2,559.6 301.7,559.8 303.2,559.9 304.7,559.9 306.2,559.2 307.7,558.6 309.2,559.2 310.7,559.7 312.2,559.7 313.7,559.2 315.1,559.2 316.6,559.6 318.1,559.4 319.6,559.5 321.1,559.3 322.6,559.6 324.1,559.9 325.6,559.9 327.1,559.3 328.6,559.9"/>
<path d="M57.2,515.7 58.7,512.6 60.2,510.1 61.7,507.4 63.2,503.1 64.7,499.8 66.1,496.2 67.6,493.4 69.1,488.7 70.6,485.8 72.1,481.5 73.6,476.4 75.1,471 76.6,466.9 78.1,462.2 79.6,457 81.1,452.9 82.5,447.1 84,441.8 85.5,437.3 87,432.2 88.5,427.2 90,422.7 91.5,418.2 93,413.3 94.5,409.9 96,406 97.5,402.6 98.9,398.5 100.4,395.6 101.9,392.3 103.4,389.5 104.9,387 106.4,383.9 107.9,382.3 109.4,380.1 110.9,378.6 112.4,377.2 113.9,376.9 115.3,376 116.8,375.6 118.3,376.2 119.8,376.3 121.3,376.8 122.8,377.4 124.3,377.6 125.8,379.2 127.3,381.2 128.8,383 130.3,384.1 131.8,385.7 133.2,387.2 134.7,388.7 136.2,390 137.7,392.5 139.2,395 140.7,398 142.2,400.3 143.7,402.4 145.2,404.8 146.7,409.1 148.2,411.3 149.6,413.6 151.1,416.6 152.6,420.8 154.1,423.8 155.6,426.5 157.1,429.5 158.6,433.1 160.1,436.5 161.6,438.9 163.1,442.8 164.6,444.9 166,448.3 167.5,451.3 169,455.2 170.5,458.2 172,460.7 173.5,464.4 175,466 176.5,469.9 178,473.2 179.5,475.6 181,478 182.4,480.4 183.9,483.5 185.4,486.2 186.9,488.9 188.4,491.6 189.9,495.1 191.4,496.4 192.9,498.5 194.4,500.7 195.9,503.3 197.4,505.2 198.8,507.4 200.3,509.5 201.8,510.9 203.3,514 204.8,515.5 206.3,517.8 207.8,519.4 209.3,520.2 210.8,522.7 212.3,524.2 213.8,526 215.2,526.9 216.7,528.9 218.2,531 219.7,531.6 221.2,533 222.7,534.3 224.2,534.9 225.7,536.7 227.2,537.9 228.7,538.8 230.2,539.6 231.6,541 233.1,541.4 234.6,541.4 236.1,543.2 237.6,543.4 239.1,545.8 240.6,545.7 242.1,546.9 243.6,547.6 245.1,548.5 246.6,549.5 248,550.6 249.5,551 251,550.7 252.5,550.9 254,551.9 255.5,552.8 257,553.6 258.5,554.4 260,553.7 261.5,554 263,554.7 264.4,555.5 265.9,556.3 267.4,555.8 268.9,556 270.4,557 271.9,556.8 273.4,557.8 274.9,557.7 276.4,558.5 277.9,558.7 279.4,558.6 280.8,558.6 282.3,558.5 283.8,559.4 285.3,558.8 286.8,558.5 288.3,559 289.8,559 291.3,559.6 292.8,559.6 294.3,559.9 295.8,559.8 297.3,559.6 298.7,558.9 300.2,558.7 301.7,558.7 303.2,559.3 304.7,559.5 306.2,559.7 307.7,559.5 309.2,559.9 310.7,559.6 312.2,559.9 313.7,559.9 315.1,559.8 316.6,559.9 318.1,558.9 319.6,559.2 321.1,558.6 322.6,558.5 324.1,559.2 325.6,559.2 327.1,558.7 328.6,559.3"/>
<path d="M57.2,517.2 58.7,514.9 60.2,512.1 61.7,509.4 63.2,506.2 64.7,502.6 66.1,498.8 67.6,495.7 69.1,492.2 70.6,488.1 72.1,484.5 73.6,480.9 75.1,475.7 76.6,471.8 78.1,466.7 79.6,462.8 81.1,457.3 82.5,453.7 84,448.7 85.5,443.8 87,440.4 88.5,435.5 90,432.1 91.5,429 93,424.4 94.5,420.3 96,417.1 97.5,415 98.9,411.3 100.4,408.2 101.9,405.4 103.4,402.9 104.9,401.3 106.4,399.1 107.9,396 109.4,394 110.9,393.4 112.4,392.8 113.9,391.8 115.3,390.8 116.8,390.4 118.3,391.3 119.8,391.3 121.3,391.5 122.8,391.5 124.3,392 125.8,393.1 127.3,394 128.8,395.9 130.3,396.8 131.8,399 133.2,400.6 134.7,402.1 136.2,404.8 137.7,407.1 139.2,409.9 140.7,411.5 142.2,413.7 143.7,416.1 145.2,418.3 146.7,421.9 148.2,424 149.6,426.4 151.1,429.2 152.6,431.4 154.1,433.5 155.6,437 157.1,440.4 158.6,443.4 160.1,446 161.6,448.5 163.1,451.9 164.6,454.1 166,457.6 167.5,459.8 169,462.6 170.5,465.3 172,467.2 173.5,470.7 175,473.7 176.5,476.2 178,478.6 179.5,482.1 181,484.4 182.4,487.2 183.9,489.2 185.4,491 186.9,493.7 188.4,496.2 189.9,498.5 191.4,502.2 192.9,503.3 194.4,505 195.9,507.1 197.4,509.3 198.8,511.6 200.3,513.4 201.8,514.5 203.3,516.6 204.8,517.8 206.3,521.1 207.8,522.5 209.3,523.7 210.8,525.1 212.3,527.4 213.8,528.7 215.2,529.2 216.7,531.3 218.2,532.8 219.7,534.2 221.2,535.3 222.7,535.8 224.2,536.7 225.7,538.9 227.2,538.8 228.7,540.3 230.2,541.5 231.6,541.5 233.1,542.7 234.6,544.3 236.1,545.3 237.6,546.2 239.1,547.1 240.6,547.7 242.1,547.7 243.6,548.3 245.1,549.7 246.6,548.8 248,550.4 249.5,551 251,551.5 252.5,551.8 254,552.6 255.5,552.9 257,552.5 258.5,553.5 260,554.8 261.5,554.9 263,555.7 264.4,556.1 265.9,556.2 267.4,556.4 268.9,556.9 270.4,556.8 271.9,557.3 273.4,558.3 274.9,557.9 276.4,558.4 277.9,558 279.4,558.8 280.8,558.8 282.3,559 283.8,559.9 285.3,559.9 286.8,559.9 288.3,559.4 289.8,559.9 291.3,559.5 292.8,559 294.3,559 295.8,558.9 297.3,559.5 298.7,559.5 300.2,559.4 301.7,559.2 303.2,559 304.7,559.4 306.2,559.8 307.7,559.9 309.2,559.5 310.7,559.9 312.2,559.9 313.7,559.9 315.1,559.9 316.6,559.9 318.1,559.9 319.6,559.9 321.1,559.9 322.6,559.4 324.1,559.9 325.6,559.9 327.1,559.6 328.6,559.3"/>
<path d="M57.2,518.3 58.7,515.7 60.2,514 61.7,511 63.2,508.5 64.7,506 66.1,502 67.6,499.4 69.1,496.4 70.6,492.8 72.1,489.3 73.6,484.6 75.1,480.6 76.6,476.1 78.1,472.4 79.6,469 81.1,464.6 82.5,461.3 84,457.6 85.5,453.8 87,450 88.5,445.7 90,442.8 91.5,439.2 93,436 94.5,433.6 96,430.8 97.5,427.7 98.9,424.6 100.4,422 101.9,419.5 103.4,417.6 104.9,416 106.4,414 107.9,413.1 109.4,412.3 110.9,411 112.4,410.5 113.9,409.7 115.3,409.2 116.8,408.9 118.3,408.6 119.8,409.1 121.3,409.3 122.8,410.5 124.3,410.6 125.8,411.6 127.3,412.1 128.8,414.5 130.3,415.5 131.8,416.2 133.2,418.7 134.7,419.8 136.2,421.1 137.7,422.7 139.2,425.2 140.7,426.7 142.2,428.6 143.7,431.2 145.2,432.8 146.7,435.2 148.2,437.5 149.6,440.1 151.1,442.2 152.6,444.7 154.1,446.7 155.6,449.3 157.1,452.4 158.6,455 160.1,457.1 161.6,460 163.1,462.3 164.6,464.7 166,467.5 167.5,471.2 169,473.1 170.5,475.3 172,477.6 173.5,480.4 175,482.1 176.5,484.7 178,487.4 179.5,490 181,491.9 182.4,494.6 183.9,497 185.4,497.8 186.9,499.6 188.4,501.6 189.9,503.5 191.4,505.8 192.9,508.9 194.4,510.1 195.9,511.5 197.4,513.5 198.8,516.5 200.3,517.3 201.8,518.5 203.3,520.7 204.8,522.3 206.3,523.5 207.8,525.3 209.3,526.3 210.8,528 212.3,529.2 213.8,530.7 215.2,532.9 216.7,534.3 218.2,533.6 219.7,535.2 221.2,536 222.7,537 224.2,537.7 225.7,539.2 227.2,540.9 228.7,541.9 230.2,543.8 231.6,544.3 233.1,544.4 234.6,546.4 236.1,546.6 237.6,546.7 239.1,546.9 240.6,548.4 242.1,549.4 243.6,550.7 245.1,551.3 246.6,551.1 248,550.5 249.5,552.1 251,551.8 252.5,552.4 254,553.4 255.5,552.8 257,555 258.5,555.1 260,555.2 261.5,554.5 263,554.5 264.4,554.5 265.9,555.6 267.4,556 268.9,556.1 270.4,556.7 271.9,557.2 273.4,557.9 274.9,558.4 276.4,559.2 277.9,558.2 279.4,559 280.8,559.9 282.3,559.8 283.8,559.7 285.3,559.5 286.8,558.6 288.3,559.1 289.8,559.4 291.3,559.8 292.8,559.7 294.3,559.8 295.8,559.5 297.3,557.9 298.7,558.3 300.2,559 301.7,557.7 303.2,557.4 304.7,557.1 306.2,557.1 307.7,557.2 309.2,557.6 310.7,557.6 312.2,558 313.7,558.1 315.1,559.1 316.6,559.3 318.1,559.8 319.6,559.2 321.1,558.9 322.6,559.4 324.1,559.2 325.6,558.1 327.1,558.2 328.6,559.4"/>
<path d="M57.2,520.5 58.7,517.9 60.2,515.7 61.7,513.1 63.2,510.1 64.7,507.6 66.1,505.5 67.6,502 69.1,499.1 70.6,495.8 72.1,492.7 73.6,489.8 75.1,486.5 76.6,482.6 78.1,479.3 79.6,476.7 81.1,471.9 82.5,468.8 84,465.5 85.5,461.6 87,459.5 88.5,455.1 90,452.4 91.5,449 93,446.5 94.5,443.6 96,441 97.5,438.6 98.9,437.3 100.4,435.5 101.9,433 103.4,430.2 104.9,429.1 106.4,427.4 107.9,426.2 109.4,425 110.9,423.8 112.4,424.2 113.9,423.3 115.3,423 116.8,423 118.3,423.3 119.8,423.6 121.3,424.2 122.8,424.8 124.3,423.8 125.8,424.1 127.3,425.6 128.8,426.6 130.3,428.6 131.8,431.1 133.2,432.7 134.7,433.3 136.2,433.8 137.7,435.6 139.2,437.9 140.7,439.6 142.2,441.9 143.7,444.2 145.2,445.8 146.7,447.7 148.2,450 149.6,452.2 151.1,454.5 152.6,456.1 154.1,457.6 155.6,460.2 157.1,461.4 158.6,465.1 160.1,467.1 161.6,470 163.1,472.1 164.6,474.2 166,476.1 167.5,478 169,480.8 170.5,483.7 172,485.7 173.5,487.6 175,490.1 176.5,491.6 178,493 179.5,496.3 181,498 182.4,499.6 183.9,502.8 185.4,504.3 186.9,506.2 188.4,508.6 189.9,509.4 191.4,511.2 192.9,513.3 194.4,514.8 195.9,516.2 197.4,517.7 198.8,519.3 200.3,520.9 201.8,523.2 203.3,524.7 204.8,525.9 206.3,528.6 207.8,528.2 209.3,529.9 210.8,531.7 212.3,533.5 213.8,534 215.2,534.9 216.7,536.2 218.2,537.3 219.7,538.6 221.2,539.7 222.7,540.4 224.2,541.4 225.7,541.8 227.2,542.8 228.7,543.5 230.2,544.2 231.6,544.5 233.1,545.3 234.6,546.3 236.1,547.3 237.6,548.4 239.1,549.1 240.6,549.2 242.1,549.8 243.6,550.7 245.1,551.8 246.6,552.8 248,552.6 249.5,552.4 251,552.8 252.5,554.1 254,554.4 255.5,554.6 257,555.4 258.5,555.4 260,555.8 261.5,556.5 263,557.2 264.4,556.7 265.9,556.9 267.4,557.7 268.9,558.3 270.4,557.8 271.9,557.8 273.4,558.4 274.9,557.9 276.4,558.6 277.9,559.5 279.4,559 280.8,559.4 282.3,559.3 283.8,559.4 285.3,559.9 286.8,559.9 288.3,559.9 289.8,559.1 291.3,559.8 292.8,559 294.3,559.1 295.8,559.9 297.3,559.5 298.7,559.2 300.2,559.8 301.7,559.9 303.2,559.9 304.7,559.9 306.2,559.7 307.7,559.9 309.2,559.9 310.7,559.9 312.2,559.9 313.7,559.9 315.1,559.7 316.6,559.9 318.1,559.9 319.6,559.8 321.1,559.9 322.6,559.7 324.1,559.4 325.6,558.6 327.1,558.6 328.6,558.9"/>
<path d="M57.2,521.9 58.7,519.8 60.2,518.2 61.7,514.8 63.2,512.3 64.7,510.1 66.1,508 67.6,504.2 69.1,501.1 70.6,498.8 72.1,495.1 73.6,491 75.1,488.2 76.6,484.9 78.1,482 79.6,479.1 81.1,475.1 82.5,470.6 84,468.2 85.5,465.6 87,462.4 88.5,459.9 90,456.8 91.5,453.8 93,452 94.5,449.9 96,447.2 97.5,444.4 98.9,442.3 100.4,439.9 101.9,439.1 103.4,437.1 104.9,435.9 106.4,434.4 107.9,433.1 109.4,432.7 110.9,431.8 112.4,431.6 113.9,430.6 115.3,430.6 116.8,430.5 118.3,430.2 119.8,430.7 121.3,430.3 122.8,431.3 124.3,431.4 125.8,432.2 127.3,433.7 128.8,434.7 130.3,436 131.8,437.1 133.2,438.3 134.7,438.7 136.2,440.7 137.7,441.6 139.2,443.4 140.7,446.1 142.2,448.8 143.7,449.7 145.2,452.4 146.7,453.4 148.2,454.8 149.6,456.8 151.1,459.2 152.6,461.4 154.1,463.4 155.6,465.7 157.1,468 158.6,470.2 160.1,471.6 161.6,474.3 163.1,476.2 164.6,479 166,481.2 167.5,483.7 169,485.4 170.5,486.9 172,488.9 173.5,491.3 175,492.9 176.5,495.2 178,497 179.5,498.9 181,500.7 182.4,504 183.9,506 185.4,506.9 186.9,508.7 188.4,509.3 189.9,511.6 191.4,513.8 192.9,514.7 194.4,516.4 195.9,517.3 197.4,519.3 198.8,521.3 200.3,522.6 201.8,524.7 203.3,526.2 204.8,527.7 206.3,528.9 207.8,529.7 209.3,531.2 210.8,532.2 212.3,533.7 213.8,534.3 215.2,536.9 216.7,537.5 218.2,538.1 219.7,539.5 221.2,539.7 222.7,540.6 224.2,540.9 225.7,541.7 227.2,542.7 228.7,543.9 230.2,545.4 231.6,546 233.1,546.8 234.6,547.2 236.1,548.1 237.6,547.2 239.1,549.2 240.6,549.2 242.1,550.3 243.6,551 245.1,551 246.6,551.8 248,553 249.5,553 251,553.5 252.5,554.9 254,554.7 255.5,555.4 257,555.8 258.5,555.6 260,555.7 261.5,556.3 263,555.5 264.4,556.1 265.9,557.1 267.4,557.3 268.9,557.7 270.4,559 271.9,559.5 273.4,559.8 274.9,558.4 276.4,558.8 277.9,559.2 279.4,559.7 280.8,559.2 282.3,559.3 283.8,558.6 285.3,558.7 286.8,558.3 288.3,558.9 289.8,559 291.3,559.5 292.8,559.6 294.3,559.9 295.8,559.9 297.3,559.9 298.7,559.9 300.2,559.3 301.7,559.3 303.2,558.8 304.7,558.7 306.2,558.7 307.7,558.6 309.2,559.3 310.7,559 312.2,559.4 313.7,559.7 315.1,559 316.6,558.2 318.1,559.3 319.6,558.6 321.1,558.6 322.6,559.5 324.1,559.4 325.6,559.2 327.1,559.2 328.6,559.5"/>
<path d="M57.2,524.2 58.7,521.9 60.2,519.2 61.7,516.8 63.2,514.4 64.7,511.7 66.1,510.1 67.6,507.4 69.1,504.5 70.6,501.2 72.1,498.4 73.6,495.4 75.1,492.6 76.6,488.8 78.1,487.5 79.6,484.3 81.1,480.1 82.5,477.7 84,476.1 85.5,473 87,471 88.5,468.3 90,465.3 91.5,462 93,459.8 94.5,457.6 96,455.3 97.5,453.7 98.9,452.5 100.4,450.8 101.9,449 103.4,447.8 104.9,446.8 106.4,445.7 107.9,445.3 109.4,444.5 110.9,443.4 112.4,442.8 113.9,442.2 115.3,441.2 116.8,441.3 118.3,441.6 119.8,442.4 121.3,443.1 122.8,443 124.3,443.9 125.8,444.1 127.3,445.4 128.8,446 130.3,446.9 131.8,447.5 133.2,449.1 134.7,450.5 136.2,451.7 137.7,453.1 139.2,453.8 140.7,455.9 142.2,457.9 143.7,459.6 145.2,461 146.7,462.7 148.2,464.3 149.6,467 151.1,467.4 152.6,468.9 154.1,471.5 155.6,474.3 157.1,476 158.6,477.8 160.1,480.9 161.6,482.3 163.1,484.7 164.6,486 166,487.1 167.5,488.8 169,491.9 170.5,492.9 172,494.6 173.5,497 175,498.7 176.5,500 178,502.4 179.5,504.3 181,506.4 182.4,507.5 183.9,510.5 185.4,511 186.9,513.3 188.4,514.3 189.9,516.8 191.4,518.5 192.9,519.9 194.4,520.6 195.9,522.9 197.4,523.6 198.8,525.2 200.3,525.8 201.8,527.5 203.3,528.5 204.8,530 206.3,530.4 207.8,532.1 209.3,533.4 210.8,533.6 212.3,535.2 213.8,536.2 215.2,537.8 216.7,538.7 218.2,540.8 219.7,541.1 221.2,542.1 222.7,543.4 224.2,544.4 225.7,544 227.2,544.6 228.7,546.2 230.2,545.7 231.6,547 233.1,547.8 234.6,548.3 236.1,549.4 237.6,550.6 239.1,551 240.6,550.5 242.1,550.7 243.6,552.2 245.1,551.9 246.6,552.5 248,552.8 249.5,553.4 251,553.7 252.5,554.8 254,555.4 255.5,555.9 257,556.1 258.5,555.9 260,556.8 261.5,556.1 263,557 264.4,557.5 265.9,557.3 267.4,557.4 268.9,558 270.4,558.8 271.9,559.2 273.4,559.9 274.9,559 276.4,558.6 277.9,558.2 279.4,558.7 280.8,558.9 282.3,558.8 283.8,558.7 285.3,559.2 286.8,559.2 288.3,558.3 289.8,559.7 291.3,559.9 292.8,559.9 294.3,559.6 295.8,559 297.3,559.4 298.7,559.1 300.2,559.3 301.7,559.3 303.2,559.6 304.7,559.6 306.2,559.5 307.7,559 309.2,558.2 310.7,559.7 312.2,559.3 313.7,559.4 315.1,559 316.6,558.7 318.1,558.7 319.6,558.7 321.1,559.6 322.6,559.9 324.1,559.1 325.6,558.7 327.1,559.6 328.6,558.9"/>
<path d="M57.2,524.8 58.7,524.3 60.2,521.4 61.7,519.7 63.2,516.7 64.7,514.9 66.1,512.8 67.6,510.8 69.1,507.9 70.6,504.4 72.1,502.1 73.6,500.2 75.1,495.9 76.6,492.6 78.1,490.1 79.6,488.1 81.1,486.2 82.5,484.1 84,480.8 85.5,477.5 87,475.9 88.5,473.4 90,471.2 91.5,469 93,466.6 94.5,463.7 96,462.7 97.5,460.6 98.9,458.7 100.4,457.7 101.9,456.5 103.4,455.9 104.9,454 106.4,453.3 107.9,452.7 109.4,451.8 110.9,451.5 112.4,451.3 113.9,450.8 115.3,449.6 116.8,449.9 118.3,449.8 119.8,450.9 121.3,451.9 122.8,450.9 124.3,451.8 125.8,453.1 127.3,453.5 128.8,453.9 130.3,455.7 131.8,456.8 133.2,457.3 134.7,458.8 136.2,459.4 137.7,460.3 139.2,461.7 140.7,463.6 142.2,465.1 143.7,466.9 145.2,468.4 146.7,469.8 148.2,471.6 149.6,472.7 151.1,473.4 152.6,476.1 154.1,478 155.6,479.5 157.1,481.3 158.6,483.5 160.1,485.6 161.6,486.9 163.1,488.6 164.6,490.4 166,492.8 167.5,494.2 169,495.8 170.5,497.9 172,499.4 173.5,500.3 175,503.5 176.5,504.8 178,507.1 179.5,509.1 181,510.4 182.4,511.5 183.9,513 185.4,515.1 186.9,517.1 188.4,518.3 189.9,519.4 191.4,521.1 192.9,522.9 194.4,522.9 195.9,524.8 197.4,526.1 198.8,527.5 200.3,528.9 201.8,529.8 203.3,531 204.8,531.8 206.3,533.6 207.8,535.1 209.3,534.8 210.8,536.1 212.3,536.8 213.8,537.4 215.2,538.5 216.7,539.7 218.2,541.5 219.7,542.9 221.2,542.7 222.7,543.2 224.2,543.8 225.7,545.6 227.2,547 228.7,547.6 230.2,548.3 231.6,548.3 233.1,549.1 234.6,548.6 236.1,549.7 237.6,550.5 239.1,550.4 240.6,550.9 242.1,552 243.6,552 245.1,551.6 246.6,553.2 248,553.7 249.5,554.6 251,555.7 252.5,555.1 254,555 255.5,555 257,555.4 258.5,557 260,556.9 261.5,557.4 263,558 264.4,558.4 265.9,557.8 267.4,558.1 268.9,557.3 270.4,557.8 271.9,559.3 273.4,558.7 274.9,558.4 276.4,558.9 277.9,559.9 279.4,558.8 280.8,559.8 282.3,559.7 283.8,559.9 285.3,559.9 286.8,559.9 288.3,559.7 289.8,559 291.3,559.5 292.8,559.9 294.3,559.8 295.8,559.5 297.3,559.9 298.7,559.9 300.2,559.6 301.7,558.6 303.2,558.2 304.7,557.7 306.2,558.3 307.7,559.4 309.2,558.9 310.7,559.4 312.2,559.5 313.7,559.7 315.1,559.4 316.6,559.8 318.1,559 319.6,559.2 321.1,559.1 322.6,559 324.1,558.7 325.6,558.9 327.1,559.9 328.6,559.9"/>
<path d="M57.2,525.8 58.7,524.3 60.2,522.5 61.7,520.6 63.2,519.2 64.7,517.3 66.1,515.3 67.6,512.1 69.1,509.7 70.6,506.5 72.1,504.3 73.6,501.3 75.1,499.3 76.6,497.9 78.1,494.5 79.6,492.3 81.1,489.6 82.5,487.6 84,485.8 85.5,483.5 87,481.9 88.5,480.2 90,478.2 91.5,476.1 93,474.6 94.5,472.4 96,470.3 97.5,467.7 98.9,465.8 100.4,465.1 101.9,463.8 103.4,463.2 104.9,462.2 106.4,461.5 107.9,461.1 109.4,460.3 110.9,460.5 112.4,459.5 113.9,459.3 115.3,459.6 116.8,459.5 118.3,459 119.8,459.6 121.3,459.5 122.8,459.7 124.3,459.6 125.8,461.2 127.3,462 128.8,462.4 130.3,462.7 131.8,463.9 133.2,464.8 134.7,467 136.2,468.2 137.7,468.3 139.2,470 140.7,470.4 142.2,472.7 143.7,474.3 145.2,476.5 146.7,477.3 148.2,478.6 149.6,479.2 151.1,481.2 152.6,483.2 154.1,485.6 155.6,487 157.1,488 158.6,489.4 160.1,490.7 161.6,492.3 163.1,494.4 164.6,496 166,497.8 167.5,500.2 169,500.8 170.5,502.5 172,504.8 173.5,506.1 175,507.5 176.5,508.7 178,509.8 179.5,513.3 181,514 182.4,514.6 183.9,516.8 185.4,519.1 186.9,519.9 188.4,520.9 189.9,522 191.4,524 192.9,525.3 194.4,526.2 195.9,527 197.4,527.3 198.8,528.9 200.3,530.7 201.8,533.1 203.3,533.1 204.8,534.2 206.3,535.2 207.8,536.7 209.3,537 210.8,538.9 212.3,539.3 213.8,540 215.2,540.6 216.7,540.9 218.2,542.1 219.7,543 221.2,543.4 222.7,545.2 224.2,545.8 225.7,546.3 227.2,546.4 228.7,547.6 230.2,547.8 231.6,548.3 233.1,549.8 234.6,550.9 236.1,551.6 237.6,551.5 239.1,551.6 240.6,551.6 242.1,551.8 243.6,552.9 245.1,552.8 246.6,553 248,553.6 249.5,554 251,555.3 252.5,555.3 254,556.1 255.5,556.8 257,556.9 258.5,556.8 260,557 261.5,557.4 263,558.1 264.4,557.9 265.9,558.4 267.4,559.1 268.9,558.9 270.4,558.2 271.9,558.8 273.4,559.6 274.9,558.8 276.4,558.4 277.9,559.1 279.4,559.4 280.8,559.3 282.3,558 283.8,558.7 285.3,558.6 286.8,558.8 288.3,559.9 289.8,559.9 291.3,559.9 292.8,559.8 294.3,559.6 295.8,558.7 297.3,559.2 298.7,559.2 300.2,559.3 301.7,559.3 303.2,558.3 304.7,558.7 306.2,558.4 307.7,558.3 309.2,559.2 310.7,559 312.2,559.4 313.7,559.4 315.1,559.4 316.6,559.4 318.1,559.7 319.6,558.8 321.1,559.3 322.6,559 324.1,558.4 325.6,558.7 327.1,558.6 328.6,558.3"/>
<path d="M57.2,527.8 58.7,525.5 60.2,525.1 61.7,522.2 63.2,520.7 64.7,519.8 66.1,517.8 67.6,516 69.1,513.2 70.6,511.5 72.1,509.3 73.6,506.4 75.1,503.9 76.6,502 78.1,499.7 79.6,497.4 81.1,495.1 82.5,493 84,491 85.5,488.5 87,487.5 88.5,485.6 90,483.4 91.5,481.8 93,480.3 94.5,478.7 96,476.9 97.5,474.9 98.9,474 100.4,473 101.9,471.7 103.4,471 104.9,471.1 106.4,469.7 107.9,469 109.4,468.6 110.9,467.6 112.4,467.3 113.9,467.4 115.3,468.3 116.8,468.5 118.3,467.9 119.8,467.8 121.3,467.7 122.8,468 124.3,468.8 125.8,469.9 127.3,470.7 128.8,471.1 130.3,472.2 131.8,472.2 133.2,473.8 134.7,475.4 136.2,475.9 137.7,477.5 139.2,477.3 140.7,479.1 142.2,480.1 143.7,481.4 145.2,483.1 146.7,485 148.2,486.8 149.6,487 151.1,487.8 152.6,488.3 154.1,491.1 155.6,492.3 157.1,493.9 158.6,495 160.1,497 161.6,498.2 163.1,499.4 164.6,500.9 166,502 167.5,504.1 169,505 170.5,507.3 172,508 173.5,511.3 175,512.3 176.5,513.9 178,515 179.5,515.7 181,516.8 182.4,518.4 183.9,519 185.4,521.6 186.9,523.2 188.4,523.4 189.9,524.7 191.4,527.2 192.9,527.7 194.4,529.4 195.9,529.4 197.4,530.1 198.8,531.9 200.3,532.3 201.8,534.1 203.3,534.6 204.8,535.5 206.3,536.8 207.8,538.5 209.3,539.3 210.8,541.1 212.3,541.5 213.8,542.8 215.2,542.3 216.7,543.5 218.2,545.2 219.7,544.9 221.2,545.2 222.7,546.1 224.2,545.6 225.7,546.3 227.2,547.3 228.7,548.5 230.2,550.5 231.6,550.1 233.1,549.9 234.6,550.8 236.1,551.9 237.6,552 239.1,553.2 240.6,553.1 242.1,552.9 243.6,552.6 245.1,553.3 246.6,553.9 248,554.1 249.5,554 251,555 252.5,556.1 254,556.6 255.5,557.3 257,557.5 258.5,557.4 260,557.3 261.5,557.4 263,557.7 264.4,558.1 265.9,558.1 267.4,557.9 268.9,558 270.4,557.8 271.9,558.7 273.4,559.2 274.9,558.6 276.4,559 277.9,559 279.4,559.4 280.8,559 282.3,559.4 283.8,559.9 285.3,559.8 286.8,559.9 288.3,559.3 289.8,559.6 291.3,559.5 292.8,559.6 294.3,559.4 295.8,559.8 297.3,559.1 298.7,559.9 300.2,559.9 301.7,559.9 303.2,559.5 304.7,559.5 306.2,559.2 307.7,559.5 309.2,559.9 310.7,559.9 312.2,559.9 313.7,559.9 315.1,559.6 316.6,559.4 318.1,559 319.6,559.3 321.1,559.8 322.6,559.9 324.1,559.8 325.6,559.5 327.1,558.5 328.6,558.9"/>
<path d="M57.2,529 58.7,526.9 60.2,526.5 61.7,524.2 63.2,522.2 64.7,520.1 66.1,518.6 67.6,516.4 69.1,514.9 70.6,512.8 72.1,510.7 73.6,507.7 75.1,506.1 76.6,503.6 78.1,501.8 79.6,500.3 81.1,498 82.5,495.7 84,494.3 85.5,491.9 87,490.6 88.5,489.1 90,487 91.5,485.3 93,484.2 94.5,483.2 96,481.2 97.5,479.5 98.9,478.5 100.4,477.1 101.9,476.8 103.4,475.3 104.9,474.2 106.4,473.4 107.9,473.2 109.4,472.5 110.9,472 112.4,471.2 113.9,471.2 115.3,471.2 116.8,471.7 118.3,471.3 119.8,471.1 121.3,472 122.8,472.2 124.3,472.7 125.8,473.4 127.3,474.8 128.8,474.3 130.3,476.3 131.8,476.7 133.2,477.7 134.7,477.9 136.2,479.3 137.7,480.4 139.2,481.2 140.7,482.2 142.2,483.9 143.7,484.7 145.2,485.9 146.7,486.9 148.2,488.8 149.6,490.2 151.1,491.8 152.6,493.5 154.1,494.5 155.6,495.6 157.1,496.4 158.6,498.3 160.1,499.7 161.6,500.7 163.1,502.5 164.6,504.1 166,505.5 167.5,507.4 169,509.1 170.5,509.6 172,511.1 173.5,512.6 175,514.6 176.5,515.6 178,516.2 179.5,518.3 181,519.9 182.4,520.3 183.9,521 185.4,521.8 186.9,523.9 188.4,525 189.9,526.8 191.4,527.6 192.9,529 194.4,529.9 195.9,530.4 197.4,531.6 198.8,533 200.3,534 201.8,534.9 203.3,536.2 204.8,537 206.3,537.6 207.8,537.9 209.3,540.2 210.8,541.4 212.3,542.4 213.8,542.2 215.2,541.7 216.7,542.9 218.2,543.9 219.7,544.3 221.2,546.5 222.7,546.9 224.2,548.8 225.7,548.5 227.2,548.9 228.7,549.4 230.2,549.5 231.6,550.3 233.1,550.1 234.6,550.8 236.1,551.2 237.6,550.5 239.1,551.9 240.6,552.1 242.1,553.3 243.6,553.1 245.1,553.3 246.6,554 248,554.1 249.5,554 251,554.2 252.5,555.2 254,555.9 255.5,555.8 257,557.1 258.5,557.5 260,557.3 261.5,557.3 263,556.8 264.4,556.7 265.9,557.4 267.4,557.9 268.9,559.1 270.4,559.2 271.9,559.1 273.4,559.4 274.9,559.5 276.4,559.2 277.9,559.8 279.4,559.9 280.8,559.9 282.3,559.5 283.8,559.9 285.3,559.9 286.8,559.7 288.3,559.7 289.8,559.1 291.3,559.5 292.8,558.4 294.3,558.6 295.8,559 297.3,559.2 298.7,559.4 300.2,559.1 301.7,558.3 303.2,559.1 304.7,559.8 306.2,559.4 307.7,558.9 309.2,559.9 310.7,559.9 312.2,559.9 313.7,559.6 315.1,559.3 316.6,559.8 318.1,559.9 319.6,559.5 321.1,559.9 322.6,559.7 324.1,559.7 325.6,558.6 327.1,558.6 328.6,559.3"/>
<path d="M57.2,531.6 58.7,530.2 60.2,528.8 61.7,526.9 63.2,524.6 64.7,523.7 66.1,521.7 67.6,518.8 69.1,516.6 70.6,515.3 72.1,513.6 73.6,511.8 75.1,510.2 76.6,507.1 78.1,505 79.6,503.4 81.1,502 82.5,499.8 84,497.9 85.5,494.9 87,493.7 88.5,491.9 90,489.8 91.5,488.2 93,487.1 94.5,486.9 96,484.4 97.5,482.9 98.9,482.2 100.4,481.2 101.9,480.6 103.4,480 104.9,479.6 106.4,478.1 107.9,477.2 109.4,476.7 110.9,476 112.4,475.7 113.9,475.7 115.3,476.2 116.8,475.8 118.3,475.5 119.8,475.7 121.3,475.7 122.8,476.8 124.3,477.8 125.8,477.6 127.3,478.7 128.8,479.2 130.3,480 131.8,480.8 133.2,481.8 134.7,482.9 136.2,484.5 137.7,484.1 139.2,485.2 140.7,487.4 142.2,488.6 143.7,489.8 145.2,490.9 146.7,492.9 148.2,493.1 149.6,493.2 151.1,494.9 152.6,495.9 154.1,497.1 155.6,499.3 157.1,499.9 158.6,502.3 160.1,503.6 161.6,504.8 163.1,505.3 164.6,506.8 166,508.3 167.5,510 169,511.1 170.5,512.4 172,513.3 173.5,514.1 175,515.4 176.5,517.1 178,518.6 179.5,519.1 181,520.7 182.4,522.2 183.9,522.6 185.4,523.5 186.9,525 188.4,526.6 189.9,528.2 191.4,528.8 192.9,530.3 194.4,530.9 195.9,532.5 197.4,533.4 198.8,534.1 200.3,535.1 201.8,536 203.3,536.8 204.8,538.4 206.3,539.6 207.8,540.1 209.3,539.9 210.8,541 212.3,542.4 213.8,543.3 215.2,543.8 216.7,543.8 218.2,545 219.7,545.4 221.2,546.1 222.7,547 224.2,548 225.7,548.5 227.2,549.2 228.7,549.3 230.2,550.7 231.6,550.2 233.1,550.4 234.6,550.8 236.1,550.8 237.6,551.5 239.1,553.1 240.6,553.3 242.1,553.4 243.6,554.2 245.1,555 246.6,554.8 248,554.8 249.5,555.5 251,555.9 252.5,556.3 254,556.8 255.5,556.9 257,556.5 258.5,557.8 260,557.9 261.5,557.1 263,557.5 264.4,557.9 265.9,557.8 267.4,558.8 268.9,559.5 270.4,559.9 271.9,559.9 273.4,559.9 274.9,559.3 276.4,559.6 277.9,559.9 279.4,559.5 280.8,559.2 282.3,559.2 283.8,559.9 285.3,559.9 286.8,559.9 288.3,559.9 289.8,559.9 291.3,559.9 292.8,559.1 294.3,558.7 295.8,558.8 297.3,559 298.7,559.2 300.2,559.6 301.7,559.6 303.2,558.6 304.7,559.5 306.2,559.8 307.7,559.6 309.2,559.1 310.7,558.9 312.2,559.7 313.7,559.6 315.1,559.7 316.6,559.9 318.1,559.8 319.6,559.9 321.1,559.2 322.6,559.2 324.1,559.7 325.6,559.6 327.1,559.7 328.6,559.9"/>
<path d="M57.2,533.3 58.7,531.2 60.2,530.2 61.7,529.5 63.2,527.8 64.7,525.3 66.1,522.5 67.6,521.7 69.1,520.1 70.6,518.3 72.1,517 73.6,514.5 75.1,512.6 76.6,510.6 78.1,507.7 79.6,506.6 81.1,504.6 82.5,502.8 84,501.8 85.5,500.5 87,498 88.5,496.4 90,495.2 91.5,494.6 93,492.6 94.5,491.2 96,489.2 97.5,488 98.9,487.3 100.4,486.7 101.9,486.2 103.4,485.9 104.9,485 106.4,484.3 107.9,483.6 109.4,482.9 110.9,482.8 112.4,483.1 113.9,482.6 115.3,482 116.8,482.9 118.3,482.8 119.8,482.9 121.3,483.1 122.8,483.5 124.3,484.2 125.8,484.8 127.3,484.6 128.8,484.8 130.3,486.7 131.8,488.7 133.2,488.6 134.7,489.6 136.2,490.4 137.7,491.9 139.2,492.1 140.7,493 142.2,494.1 143.7,494.6 145.2,494.6 146.7,495.7 148.2,496.9 149.6,498.9 151.1,499.9 152.6,501.4 154.1,502.2 155.6,503.4 157.1,505 158.6,506.1 160.1,507.9 161.6,508.6 163.1,509.3 164.6,511.1 166,512.2 167.5,514.4 169,514.9 170.5,515.8 172,517.7 173.5,517.9 175,519.4 176.5,521.6 178,523.1 179.5,523.3 181,524.5 182.4,525 183.9,527.1 185.4,527.9 186.9,528.4 188.4,529.9 189.9,530.5 191.4,531.8 192.9,532.5 194.4,533.4 195.9,533.4 197.4,535.5 198.8,536 200.3,536.4 201.8,538.3 203.3,539 204.8,538.7 206.3,539.5 207.8,542.2 209.3,542.7 210.8,543.9 212.3,543.9 213.8,544.8 215.2,545.5 216.7,546.2 218.2,546.4 219.7,547.1 221.2,548 222.7,548.4 224.2,548.6 225.7,549.5 227.2,549.3 228.7,550.8 230.2,550.8 231.6,551.4 233.1,551 234.6,552.1 236.1,552.8 237.6,553.7 239.1,552.8 240.6,553.1 242.1,554.3 243.6,554.8 245.1,555.4 246.6,554.7 248,555.1 249.5,556.6 251,556.4 252.5,556.1 254,556.6 255.5,556.7 257,557.2 258.5,557.4 260,557.6 261.5,558.2 263,558.2 264.4,558.3 265.9,558.6 267.4,559.2 268.9,559.7 270.4,559.4 271.9,559.1 273.4,559.9 274.9,559.9 276.4,559.2 277.9,558.9 279.4,559.6 280.8,558.9 282.3,559.7 283.8,559.9 285.3,558.8 286.8,559.4 288.3,559.5 289.8,559.9 291.3,559.9 292.8,559.9 294.3,559.9 295.8,559.9 297.3,559.6 298.7,559.7 300.2,559.9 301.7,559.9 303.2,559.4 304.7,558.7 306.2,559.3 307.7,558.6 309.2,558.3 310.7,558.2 312.2,558.7 313.7,559.8 315.1,559.3 316.6,559.6 318.1,559.5 319.6,559.9 321.1,559.9 322.6,559.7 324.1,559.9 325.6,559.6 327.1,558.7 328.6,559"/>
</g>
<g fill="none" stroke="#5a5a5a" stroke-width="1.45" stroke-linejoin="round">
<path d="M57.2,336.7H355.4V559.5H57.2Z"/>
<path d="M57.2,559.5h-5M57.2,531.6h-3M57.2,503.8h-5M57.2,475.9h-3M57.2,448.1h-5M57.2,420.2h-3M57.2,392.4h-5M57.2,364.5h-3M57.2,336.7h-5M57.2,559.5v4.5M94.5,559.5v2.5M131.8,559.5v4.5M169,559.5v2.5M206.3,559.5v4.5M243.6,559.5v2.5M280.8,559.5v4.5M318.1,559.5v2.5M355.4,559.5v4.5"/>
</g>
<g font-family="Liberation Serif" font-weight="bold" font-size="12" fill="#222">
<text x="45.2" y="562.5" text-anchor="end">0</text>
<text x="45.2" y="506.8" text-anchor="end" textLength="17.1" lengthAdjust="spacingAndGlyphs">200</text>
<text x="45.2" y="451.1" text-anchor="end" textLength="17.1" lengthAdjust="spacingAndGlyphs">400</text>
<text x="45.2" y="395.4" text-anchor="end" textLength="17.1" lengthAdjust="spacingAndGlyphs">600</text>
<text x="45.2" y="339.7" text-anchor="end" textLength="17.1" lengthAdjust="spacingAndGlyphs">800</text>
<text x="56.1" y="579.8" text-anchor="middle" textLength="17.1" lengthAdjust="spacingAndGlyphs">300</text>
<text x="130.7" y="579.8" text-anchor="middle" textLength="17.1" lengthAdjust="spacingAndGlyphs">350</text>
<text x="205.2" y="579.8" text-anchor="middle" textLength="17.1" lengthAdjust="spacingAndGlyphs">400</text>
<text x="279.7" y="579.8" text-anchor="middle" textLength="17.1" lengthAdjust="spacingAndGlyphs">450</text>
<text x="354.3" y="579.8" text-anchor="middle" textLength="17.1" lengthAdjust="spacingAndGlyphs">500</text>
<text x="204.3" y="603.7" text-anchor="middle" font-size="13" letter-spacing="0.52">Wavelength(nm)</text>
<text transform="translate(11.2,446) rotate(-90)" text-anchor="middle" font-size="13.6">Fluorescence Intensity</text>
</g>
<text x="64.5" y="356.1" font-family="Liberation Sans" font-size="18" fill="#000">b</text>
<g font-family="Liberation Serif" font-weight="bold" font-size="11.5" fill="#111" text-anchor="middle">
<text x="280.6" y="423.4">1</text>
<text x="280.6" y="478.3">13</text>
</g>
<path d="M280.6,425.3V463.8" stroke="#111" stroke-width="1.3"/>
<path d="M278.4,461.8h4.4l-2.2,6z" fill="#111"/>
<g fill="none" stroke="#383838" stroke-width="1.3" stroke-linejoin="round">
<path d="M57.2,824.4 58.7,820.3 60.2,818.8 61.7,815.8 63.2,811.9 64.6,808.5 66.1,805.7 67.6,800.9 69.1,796 70.6,792 72.1,786.5 73.6,781.5 75.1,776 76.6,771.6 78,765.6 79.5,758.7 81,751.9 82.5,745.8 84,740.3 85.5,734.4 87,728.8 88.5,722.3 89.9,717 91.4,711.1 92.9,706.5 94.4,701.3 95.9,694.6 97.4,689.8 98.9,685 100.4,681.8 101.9,677.2 103.3,672.1 104.8,669.7 106.3,667.6 107.8,664.2 109.3,661.6 110.8,659.4 112.3,658.1 113.8,657 115.3,656.2 116.7,654.7 118.2,654.4 119.7,654.1 121.2,655.2 122.7,655.4 124.2,656.5 125.7,657.5 127.2,658.4 128.6,660.1 130.1,662.1 131.6,664.8 133.1,666.5 134.6,668.2 136.1,671 137.6,673.5 139.1,677 140.6,680 142,682.1 143.5,684.3 145,687.9 146.5,691.9 148,695 149.5,698.9 151,701.9 152.5,704.1 154,707.8 155.4,711.6 156.9,714.8 158.4,718.9 159.9,722.4 161.4,726 162.9,729.5 164.4,734 165.9,737 167.3,740.1 168.8,745 170.3,749.5 171.8,752.5 173.3,754.6 174.8,758 176.3,761.1 177.8,764.3 179.3,767.4 180.7,771.2 182.2,774.7 183.7,777.5 185.2,780.3 186.7,783.1 188.2,786.1 189.7,789.4 191.2,791.7 192.7,794.4 194.1,796.8 195.6,801.1 197.1,802.7 198.6,806.4 200.1,808.1 201.6,810.5 203.1,812.5 204.6,814.8 206.1,816.9 207.5,818.7 209,820.5 210.5,823 212,825.9 213.5,827.5 215,828.4 216.5,830.4 218,831.6 219.4,833.3 220.9,835.2 222.4,835.9 223.9,836.6 225.4,838.5 226.9,840.1 228.4,841 229.9,843.2 231.4,844.6 232.8,844.9 234.3,845.7 235.8,847.3 237.3,848.7 238.8,849.4 240.3,851 241.8,851.8 243.3,852.5 244.8,854.3 246.2,854.1 247.7,854.3 249.2,854.6 250.7,856.3 252.2,857.4 253.7,858 255.2,858.9 256.7,857.9 258.1,859.2 259.6,859.8 261.1,860.1 262.6,860.4 264.1,860.2 265.6,861.6 267.1,861.5 268.6,862.1 270.1,863.2 271.5,863.3 273,864.2 274.5,863.4 276,864.3 277.5,864 279,863.9 280.5,864.9 282,865.7 283.5,865.7 284.9,866.4 286.4,865.9 287.9,866.1 289.4,866.8 290.9,866.9 292.4,866.4 293.9,866.9 295.4,866 296.8,866.6 298.3,866.7 299.8,866.9 301.3,866 302.8,865.8 304.3,865.5 305.8,865.7 307.3,866 308.8,865.4 310.2,865.6 311.7,865.8 313.2,865.9 314.7,865.8 316.2,866 317.7,866.3 319.2,866.9 320.7,865.8 322.2,866.8 323.6,866.9 325.1,866.9"/>
<path d="M57.2,824.5 58.7,821.7 60.2,819.7 61.7,816.7 63.2,813.7 64.6,811.4 66.1,807.6 67.6,803.4 69.1,798.8 70.6,795.5 72.1,792.1 73.6,787.6 75.1,781.9 76.6,776.4 78,770.9 79.5,765.3 81,760.1 82.5,755.2 84,749.1 85.5,743.4 87,737.8 88.5,732 89.9,727.8 91.4,723.8 92.9,719.2 94.4,712.6 95.9,708.6 97.4,703.9 98.9,699.9 100.4,695.6 101.9,690.6 103.3,688.4 104.8,685.8 106.3,683.5 107.8,680.9 109.3,678.5 110.8,677.4 112.3,675.1 113.8,673.6 115.3,673 116.7,672.9 118.2,672.9 119.7,673.9 121.2,673.5 122.7,674.6 124.2,675.4 125.7,675.7 127.2,677.5 128.6,678.9 130.1,679.9 131.6,680.8 133.1,683.6 134.6,685.2 136.1,688 137.6,690.2 139.1,692.5 140.6,695.8 142,697.8 143.5,699.8 145,703.2 146.5,706.3 148,710.1 149.5,712.1 151,715.5 152.5,719.5 154,722.1 155.4,726.2 156.9,729.5 158.4,733.5 159.9,735.4 161.4,737.6 162.9,741.8 164.4,745.5 165.9,749 167.3,752.3 168.8,755.1 170.3,757.6 171.8,761.7 173.3,764.5 174.8,768.6 176.3,770.5 177.8,773.8 179.3,777.2 180.7,779.2 182.2,782.5 183.7,784.8 185.2,787.5 186.7,789.8 188.2,793.6 189.7,796.3 191.2,798.7 192.7,801.5 194.1,803.2 195.6,806.3 197.1,808.1 198.6,809.9 200.1,813.6 201.6,816 203.1,818.1 204.6,820 206.1,821.4 207.5,823.3 209,825.1 210.5,827.1 212,828.7 213.5,830.1 215,831.4 216.5,833.6 218,835.1 219.4,836.8 220.9,838.1 222.4,840 223.9,840.4 225.4,841.4 226.9,842.8 228.4,844.4 229.9,845.6 231.4,846.9 232.8,848.4 234.3,848.1 235.8,847.6 237.3,850 238.8,851.7 240.3,852 241.8,852.6 243.3,854.3 244.8,855.7 246.2,855.5 247.7,857.1 249.2,856.4 250.7,857.4 252.2,857.9 253.7,858.4 255.2,859.3 256.7,859.7 258.1,860.3 259.6,860 261.1,860.8 262.6,861.4 264.1,862.1 265.6,862.7 267.1,863.3 268.6,863.4 270.1,862.7 271.5,862.8 273,863.5 274.5,863.3 276,863.6 277.5,864.4 279,865 280.5,866 282,865.9 283.5,866.2 284.9,866.9 286.4,866.9 287.9,866.1 289.4,866.2 290.9,866.1 292.4,866.2 293.9,866.6 295.4,866.3 296.8,865.9 298.3,866.3 299.8,866.2 301.3,865.8 302.8,866.4 304.3,866.4 305.8,866.8 307.3,866.3 308.8,866.6 310.2,866 311.7,866.6 313.2,865.7 314.7,866.3 316.2,866.8 317.7,866.9 319.2,866.5 320.7,866.9 322.2,865.8 323.6,865.5 325.1,865.7"/>
<path d="M57.2,827.5 58.7,824.6 60.2,822.2 61.7,820 63.2,816.2 64.6,811.8 66.1,809.2 67.6,805.4 69.1,801.3 70.6,798.3 72.1,794.4 73.6,789.9 75.1,785.1 76.6,781.1 78,775.8 79.5,770.9 81,765.4 82.5,761.5 84,756.5 85.5,751.6 87,746.6 88.5,741.3 89.9,737 91.4,731 92.9,727.6 94.4,723.1 95.9,718.8 97.4,714.9 98.9,711.8 100.4,708.9 101.9,705.7 103.3,702.3 104.8,699.7 106.3,697.1 107.8,694.8 109.3,693.6 110.8,692.4 112.3,690.1 113.8,689.6 115.3,689.7 116.7,687.9 118.2,688.5 119.7,689 121.2,688.6 122.7,689.8 124.2,690.7 125.7,690.8 127.2,692.4 128.6,692.3 130.1,694.3 131.6,694.9 133.1,697.4 134.6,699.7 136.1,702.3 137.6,704.5 139.1,707 140.6,709.2 142,711.2 143.5,714.5 145,717.4 146.5,720.8 148,722.1 149.5,725 151,727.9 152.5,730.9 154,733.3 155.4,736.4 156.9,739.2 158.4,742.6 159.9,745.9 161.4,749 162.9,753 164.4,755 165.9,758.8 167.3,762 168.8,764.2 170.3,767.1 171.8,769.6 173.3,771.9 174.8,774.4 176.3,777.2 177.8,780.9 179.3,782.9 180.7,786.7 182.2,789.6 183.7,791.7 185.2,794.7 186.7,797.3 188.2,800 189.7,801.6 191.2,805.5 192.7,806.7 194.1,808.5 195.6,811.1 197.1,813.1 198.6,815.8 200.1,817.2 201.6,817.8 203.1,821.1 204.6,822.4 206.1,824.7 207.5,826.9 209,828.8 210.5,830.5 212,832.6 213.5,834.4 215,834.6 216.5,836.2 218,837.4 219.4,838.7 220.9,840 222.4,842.2 223.9,843.6 225.4,844.1 226.9,844.7 228.4,846.6 229.9,847.7 231.4,849 232.8,849.3 234.3,850 235.8,851 237.3,852.2 238.8,852.7 240.3,853.5 241.8,854.7 243.3,855 244.8,856.1 246.2,856.1 247.7,856.6 249.2,857.8 250.7,858 252.2,858.7 253.7,859.6 255.2,860.5 256.7,861.5 258.1,862 259.6,861.7 261.1,861.4 262.6,862.3 264.1,862.6 265.6,862.8 267.1,862.8 268.6,863.2 270.1,863.2 271.5,863.5 273,864.6 274.5,864.7 276,866.3 277.5,866.1 279,866 280.5,865.8 282,866.3 283.5,866 284.9,865.6 286.4,866.5 287.9,866.8 289.4,866.5 290.9,866.3 292.4,866.3 293.9,866 295.4,866.8 296.8,866.3 298.3,865.8 299.8,865.6 301.3,865.8 302.8,866.3 304.3,866.2 305.8,866.4 307.3,866.9 308.8,866.9 310.2,866.9 311.7,866.9 313.2,866.9 314.7,866.9 316.2,866.9 317.7,866.7 319.2,866.6 320.7,866.5 322.2,866 323.6,866.2 325.1,866.1"/>
<path d="M57.2,828.8 58.7,827.5 60.2,824.3 61.7,820.7 63.2,818 64.6,815.2 66.1,812.4 67.6,808.3 69.1,805.1 70.6,801.1 72.1,796.7 73.6,792.7 75.1,787.5 76.6,783.8 78,779.1 79.5,774.6 81,770.7 82.5,766.1 84,761.9 85.5,757.8 87,752.8 88.5,748.8 89.9,743.4 91.4,739.9 92.9,736.2 94.4,732.1 95.9,728.6 97.4,724.9 98.9,721.8 100.4,719.2 101.9,717 103.3,714.2 104.8,710.2 106.3,707.8 107.8,705.9 109.3,704.5 110.8,703.1 112.3,701.7 113.8,701.6 115.3,701 116.7,700.7 118.2,699.5 119.7,700.3 121.2,699.8 122.7,700.7 124.2,700 125.7,701.6 127.2,703 128.6,703.7 130.1,705 131.6,706.5 133.1,709.2 134.6,710.3 136.1,711.7 137.6,714.3 139.1,716.9 140.6,719.7 142,721.2 143.5,723.6 145,726.2 146.5,729.5 148,731 149.5,733.5 151,736.5 152.5,738.7 154,742.4 155.4,744.8 156.9,748.3 158.4,750.3 159.9,753.6 161.4,755.9 162.9,759.3 164.4,762.1 165.9,764.5 167.3,768.1 168.8,770.8 170.3,774 171.8,776.1 173.3,779.3 174.8,782.1 176.3,784.7 177.8,786.6 179.3,790 180.7,792.4 182.2,795 183.7,797.6 185.2,800.2 186.7,802.3 188.2,804.4 189.7,807.4 191.2,809.1 192.7,811.7 194.1,813.4 195.6,814.1 197.1,817.1 198.6,819.1 200.1,821.1 201.6,822.4 203.1,824.6 204.6,827.3 206.1,829.3 207.5,830.2 209,831.4 210.5,832.4 212,834.3 213.5,835.4 215,837.5 216.5,838 218,839.6 219.4,841.3 220.9,842.3 222.4,842.6 223.9,844.6 225.4,846.3 226.9,847.6 228.4,848.8 229.9,849.3 231.4,849.8 232.8,850.7 234.3,851.4 235.8,851.7 237.3,853 238.8,854.4 240.3,856.1 241.8,855.9 243.3,856.7 244.8,857.1 246.2,857.3 247.7,857.7 249.2,859.2 250.7,859.9 252.2,860 253.7,860.4 255.2,860.1 256.7,861.1 258.1,862.5 259.6,861.9 261.1,863.1 262.6,863.6 264.1,863.3 265.6,864.1 267.1,862.9 268.6,863.5 270.1,863.9 271.5,864.7 273,863.9 274.5,864.4 276,865.5 277.5,865.1 279,866.5 280.5,866.8 282,866.6 283.5,866.5 284.9,866.9 286.4,865.9 287.9,865.5 289.4,866.5 290.9,866.3 292.4,866.7 293.9,866.8 295.4,866.2 296.8,866.3 298.3,866.4 299.8,866.4 301.3,866.9 302.8,866.2 304.3,866.7 305.8,865.9 307.3,866.5 308.8,866.7 310.2,865.9 311.7,866.1 313.2,866.6 314.7,866.8 316.2,866.4 317.7,865.5 319.2,865.7 320.7,866.3 322.2,866.9 323.6,866.9 325.1,866.8"/>
<path d="M57.2,829.4 58.7,827.5 60.2,824.3 61.7,822.5 63.2,820.1 64.6,816.8 66.1,813.7 67.6,810.9 69.1,807.1 70.6,804.6 72.1,799.9 73.6,795.3 75.1,791 76.6,787.7 78,783 79.5,779.6 81,775.1 82.5,771.6 84,767.6 85.5,763.4 87,760.5 88.5,756.3 89.9,751.4 91.4,749.5 92.9,745.1 94.4,741 95.9,737.6 97.4,734.6 98.9,731 100.4,728.5 101.9,727.1 103.3,724.9 104.8,722.4 106.3,720.1 107.8,718.5 109.3,716.9 110.8,714.7 112.3,715.5 113.8,713.6 115.3,712.5 116.7,712.1 118.2,712.3 119.7,712.5 121.2,712.7 122.7,713.2 124.2,714.3 125.7,714.6 127.2,716.2 128.6,717.2 130.1,718.5 131.6,720.4 133.1,721.3 134.6,722.9 136.1,725.2 137.6,726.8 139.1,729.3 140.6,730.2 142,732.3 143.5,733.7 145,736.9 146.5,739 148,742.2 149.5,745 151,747.3 152.5,749.4 154,751.6 155.4,754.6 156.9,756.7 158.4,759.1 159.9,762.6 161.4,765.3 162.9,768.4 164.4,769.9 165.9,773.1 167.3,775.3 168.8,777.6 170.3,780.7 171.8,783.6 173.3,785.9 174.8,788.8 176.3,791.8 177.8,794.3 179.3,796.1 180.7,798.2 182.2,799.6 183.7,803.2 185.2,805 186.7,807.7 188.2,809 189.7,810.9 191.2,813.1 192.7,814.5 194.1,817.1 195.6,819.4 197.1,821.7 198.6,823.6 200.1,825 201.6,826.2 203.1,827.3 204.6,829.5 206.1,831.5 207.5,833.1 209,834.6 210.5,836.1 212,837.5 213.5,839 215,840 216.5,841.4 218,842.5 219.4,844.2 220.9,844.8 222.4,845.4 223.9,846.2 225.4,847.7 226.9,849.2 228.4,850.5 229.9,851.5 231.4,852.1 232.8,852.7 234.3,854.1 235.8,854 237.3,855.3 238.8,856 240.3,856.6 241.8,856.5 243.3,856.2 244.8,857.5 246.2,858.3 247.7,859.1 249.2,859.6 250.7,860.1 252.2,859.3 253.7,860.9 255.2,861.4 256.7,862.2 258.1,862.2 259.6,862.9 261.1,862.8 262.6,863.8 264.1,862.9 265.6,863.5 267.1,864.9 268.6,864.6 270.1,865.1 271.5,865.9 273,865.6 274.5,866 276,865.7 277.5,866.3 279,866 280.5,866.2 282,866.2 283.5,866.3 284.9,866.6 286.4,866.7 287.9,866.4 289.4,866.1 290.9,866.5 292.4,865.4 293.9,865.1 295.4,866.4 296.8,865.9 298.3,866.2 299.8,866.3 301.3,866.8 302.8,865.8 304.3,866.6 305.8,866.6 307.3,866.9 308.8,865.7 310.2,865.5 311.7,866.7 313.2,866.8 314.7,866.5 316.2,866.7 317.7,866.8 319.2,866.9 320.7,866.7 322.2,866.9 323.6,866.4 325.1,865.3"/>
<path d="M57.2,831 58.7,827.9 60.2,825.8 61.7,824 63.2,821.7 64.6,819.4 66.1,816.2 67.6,812.8 69.1,809.4 70.6,806.5 72.1,803.8 73.6,799.9 75.1,795.2 76.6,791.5 78,787.9 79.5,785.2 81,781 82.5,776.5 84,773.1 85.5,768.4 87,765.2 88.5,761.9 89.9,758.4 91.4,754.7 92.9,750.7 94.4,747.9 95.9,745.7 97.4,742.3 98.9,739.1 100.4,735.7 101.9,734.3 103.3,731.2 104.8,729.2 106.3,727.5 107.8,726.5 109.3,725.5 110.8,724.6 112.3,722.8 113.8,722 115.3,721 116.7,720.1 118.2,720.6 119.7,721 121.2,720.5 122.7,722.1 124.2,722.9 125.7,723.7 127.2,724.7 128.6,725.5 130.1,727.1 131.6,727.6 133.1,729.9 134.6,731.6 136.1,733.8 137.6,735.7 139.1,736.6 140.6,738.1 142,740.3 143.5,741.9 145,744 146.5,746.8 148,749.1 149.5,751.2 151,752.6 152.5,755.8 154,758.2 155.4,760.6 156.9,762.7 158.4,765.4 159.9,767.6 161.4,771.1 162.9,773.7 164.4,777 165.9,779 167.3,780.1 168.8,782.8 170.3,785.5 171.8,788 173.3,790.4 174.8,793.6 176.3,796 177.8,798 179.3,800 180.7,802.6 182.2,804.6 183.7,807 185.2,809.5 186.7,811.4 188.2,813.5 189.7,814.6 191.2,815.9 192.7,817.9 194.1,820.1 195.6,822.3 197.1,824.7 198.6,826.3 200.1,826.8 201.6,828.1 203.1,829.9 204.6,831.8 206.1,833.4 207.5,834.6 209,836.2 210.5,837.3 212,839.2 213.5,840.3 215,841.6 216.5,842.2 218,844.1 219.4,844.4 220.9,845.7 222.4,847.1 223.9,848 225.4,848.9 226.9,849.9 228.4,850.5 229.9,851.8 231.4,853.3 232.8,853.3 234.3,854 235.8,853.9 237.3,854.8 238.8,856.7 240.3,856.4 241.8,857.5 243.3,857.7 244.8,857.3 246.2,857.9 247.7,859.5 249.2,860.1 250.7,861.3 252.2,861.1 253.7,861.2 255.2,862.3 256.7,862.2 258.1,862.2 259.6,862.4 261.1,863.4 262.6,864.1 264.1,864.8 265.6,865.4 267.1,865 268.6,865.1 270.1,864.7 271.5,865.1 273,865.7 274.5,866.7 276,865.8 277.5,866.1 279,866.4 280.5,866.9 282,866.9 283.5,866.5 284.9,866.9 286.4,866.5 287.9,866.2 289.4,866.5 290.9,866.9 292.4,866.7 293.9,865.9 295.4,866.6 296.8,866.9 298.3,866.3 299.8,866.3 301.3,866.7 302.8,866 304.3,866.4 305.8,866.2 307.3,866.6 308.8,866.9 310.2,866.6 311.7,866.9 313.2,866.9 314.7,866.9 316.2,866.3 317.7,865.9 319.2,865.1 320.7,865.3 322.2,865.1 323.6,865.7 325.1,866.3"/>
<path d="M57.2,832 58.7,830.5 60.2,827.8 61.7,825.8 63.2,823.2 64.6,821.1 66.1,818.3 67.6,814.9 69.1,812.2 70.6,809.5 72.1,805.9 73.6,802.1 75.1,798.8 76.6,795.8 78,792.6 79.5,789.1 81,784.4 82.5,780.7 84,776.9 85.5,772.9 87,769.5 88.5,766.1 89.9,763.2 91.4,760.8 92.9,756.9 94.4,753.9 95.9,750.7 97.4,748.7 98.9,745.9 100.4,742.4 101.9,741 103.3,738.9 104.8,736.4 106.3,735.2 107.8,733.7 109.3,733.6 110.8,731.6 112.3,730.9 113.8,729.4 115.3,729.2 116.7,729.2 118.2,728.8 119.7,729.1 121.2,729.6 122.7,729.2 124.2,729.6 125.7,730.7 127.2,731.4 128.6,732.3 130.1,733.5 131.6,735 133.1,736.6 134.6,737.9 136.1,739.4 137.6,741.1 139.1,743.4 140.6,745.2 142,746.9 143.5,749.4 145,751.3 146.5,752.9 148,755.2 149.5,757.6 151,759.9 152.5,762.4 154,764.1 155.4,766.8 156.9,769.9 158.4,772.5 159.9,774.2 161.4,776.3 162.9,778.9 164.4,781.7 165.9,783.8 167.3,786.3 168.8,788.6 170.3,790.6 171.8,793.1 173.3,795 174.8,797.5 176.3,799.7 177.8,801.8 179.3,803.1 180.7,804.7 182.2,806.8 183.7,809.7 185.2,811.8 186.7,813.3 188.2,815.1 189.7,818.1 191.2,819.7 192.7,821.7 194.1,822.9 195.6,824.3 197.1,826.4 198.6,827 200.1,829.2 201.6,829.7 203.1,831.9 204.6,833.7 206.1,834.4 207.5,836.5 209,838.2 210.5,838.7 212,840.3 213.5,841.4 215,843.4 216.5,843.4 218,844.3 219.4,845.6 220.9,846.6 222.4,848.1 223.9,849.3 225.4,850.9 226.9,851.2 228.4,851.3 229.9,851.9 231.4,852.6 232.8,853.4 234.3,854.9 235.8,856.2 237.3,856.2 238.8,856.7 240.3,856.9 241.8,857.9 243.3,858.9 244.8,859.1 246.2,859.9 247.7,861.1 249.2,861.4 250.7,861.9 252.2,862.5 253.7,862.7 255.2,862.2 256.7,861.5 258.1,861.7 259.6,862.9 261.1,863 262.6,863.7 264.1,864 265.6,864.8 267.1,865.1 268.6,866.1 270.1,865.1 271.5,865.9 273,865.8 274.5,866.4 276,866.4 277.5,866.9 279,866.9 280.5,866.3 282,866.1 283.5,866.9 284.9,866.4 286.4,866.9 287.9,866.7 289.4,866.3 290.9,866.7 292.4,866.8 293.9,866.7 295.4,866.4 296.8,866 298.3,865.6 299.8,865.9 301.3,865.2 302.8,866.3 304.3,865.6 305.8,866.2 307.3,866 308.8,866.3 310.2,866.3 311.7,866.9 313.2,866.5 314.7,865.5 316.2,865.9 317.7,866.2 319.2,866.4 320.7,866.1 322.2,866.4 323.6,866.4 325.1,866.4"/>
<path d="M57.2,832.9 58.7,830.8 60.2,829.6 61.7,827.6 63.2,825.2 64.6,822.2 66.1,819.4 67.6,817.1 69.1,813.4 70.6,811 72.1,807.5 73.6,804 75.1,800.4 76.6,797.6 78,794.2 79.5,791.8 81,789 82.5,785.3 84,781.1 85.5,777.2 87,774.2 88.5,770.6 89.9,767.4 91.4,763.9 92.9,762.2 94.4,759.7 95.9,757.2 97.4,754.7 98.9,751 100.4,749.4 101.9,747.6 103.3,745.5 104.8,743.1 106.3,741.8 107.8,740 109.3,738.7 110.8,738.1 112.3,738.4 113.8,737.6 115.3,737.2 116.7,735.5 118.2,735.9 119.7,736.4 121.2,736.2 122.7,736.5 124.2,737.5 125.7,737.4 127.2,738 128.6,739.1 130.1,740.7 131.6,742.3 133.1,744.3 134.6,744.9 136.1,746 137.6,748.1 139.1,749.5 140.6,749.6 142,752.7 143.5,755.5 145,756.8 146.5,759 148,761.2 149.5,762.8 151,765.1 152.5,766.8 154,769 155.4,770.9 156.9,773.5 158.4,777 159.9,778.2 161.4,781.4 162.9,782.8 164.4,785 165.9,788 167.3,789.9 168.8,791.6 170.3,794.5 171.8,796.4 173.3,798.9 174.8,801.3 176.3,803.4 177.8,804.5 179.3,806.3 180.7,808.6 182.2,810.7 183.7,812.7 185.2,814.5 186.7,816.3 188.2,819.1 189.7,820.1 191.2,822.3 192.7,825 194.1,825.6 195.6,827.6 197.1,828.9 198.6,830.3 200.1,831.9 201.6,832.9 203.1,834.5 204.6,835.9 206.1,837.7 207.5,838.8 209,840.4 210.5,841.2 212,841.6 213.5,842.5 215,843.7 216.5,845.7 218,846.1 219.4,846.8 220.9,847 222.4,849.7 223.9,850.4 225.4,851.3 226.9,851.5 228.4,853 229.9,853.8 231.4,853.2 232.8,853.9 234.3,856 235.8,856.5 237.3,856.3 238.8,857.5 240.3,857.8 241.8,858.4 243.3,859.8 244.8,860.3 246.2,859.9 247.7,860 249.2,861 250.7,861 252.2,862 253.7,862.3 255.2,862.7 256.7,863.7 258.1,863.6 259.6,864.1 261.1,865.6 262.6,865.6 264.1,865.7 265.6,865.9 267.1,866.2 268.6,866.3 270.1,866.9 271.5,866.4 273,866.4 274.5,866.4 276,866.6 277.5,866.5 279,866.6 280.5,866.9 282,866.9 283.5,866.9 284.9,866.2 286.4,866.3 287.9,865.6 289.4,866.7 290.9,866.7 292.4,866.9 293.9,866.1 295.4,865.5 296.8,866.2 298.3,866 299.8,866.4 301.3,866.9 302.8,866.8 304.3,866.9 305.8,866.1 307.3,866 308.8,865.7 310.2,865.9 311.7,866.9 313.2,866.5 314.7,866.5 316.2,866.9 317.7,866.9 319.2,866.3 320.7,865.6 322.2,866.5 323.6,866.1 325.1,866.2"/>
<path d="M57.2,835 58.7,833.2 60.2,830.9 61.7,828.6 63.2,826.3 64.6,824.5 66.1,822.8 67.6,819.3 69.1,816.2 70.6,814.2 72.1,811.3 73.6,807.9 75.1,805.9 76.6,802.2 78,797.8 79.5,795.1 81,792.6 82.5,788.5 84,785.9 85.5,783 87,780.4 88.5,777.4 89.9,775.5 91.4,772.9 92.9,770.5 94.4,766.8 95.9,764.4 97.4,761.4 98.9,760.5 100.4,758.4 101.9,755.5 103.3,754.3 104.8,753.5 106.3,752 107.8,750.4 109.3,749.1 110.8,747.4 112.3,746.2 113.8,745.3 115.3,745.2 116.7,745.6 118.2,745.9 119.7,746.6 121.2,745.8 122.7,745.7 124.2,746.6 125.7,747.8 127.2,748.2 128.6,748.9 130.1,750 131.6,751.8 133.1,752.7 134.6,754.2 136.1,755.1 137.6,756.4 139.1,757.9 140.6,760 142,760.9 143.5,762.7 145,764.3 146.5,766.2 148,768.2 149.5,770.4 151,773.2 152.5,776 154,778 155.4,779.3 156.9,780.8 158.4,783 159.9,785.1 161.4,786.4 162.9,789.2 164.4,792.3 165.9,794.8 167.3,796.5 168.8,797.8 170.3,799.5 171.8,801.8 173.3,803.4 174.8,805.6 176.3,808 177.8,810 179.3,811.4 180.7,812.9 182.2,815.5 183.7,817.7 185.2,819.1 186.7,819.7 188.2,822.4 189.7,824.6 191.2,825.7 192.7,826.9 194.1,828.9 195.6,830.3 197.1,831.5 198.6,833.8 200.1,834.8 201.6,835.7 203.1,836.6 204.6,837.6 206.1,839.2 207.5,841.3 209,841.6 210.5,842.5 212,844.2 213.5,844.8 215,845.5 216.5,847 218,849.2 219.4,849.9 220.9,850.8 222.4,851.7 223.9,852.1 225.4,853.3 226.9,853.5 228.4,853.2 229.9,854.9 231.4,855 232.8,856.1 234.3,856.5 235.8,857.3 237.3,857.3 238.8,858.5 240.3,858.7 241.8,859.7 243.3,860 244.8,860.5 246.2,860.4 247.7,861.9 249.2,862.7 250.7,862 252.2,862.3 253.7,862 255.2,863.4 256.7,863.6 258.1,863.7 259.6,863.3 261.1,864.1 262.6,864.9 264.1,864.8 265.6,865.3 267.1,866 268.6,865.7 270.1,866.9 271.5,866.9 273,866.3 274.5,866.6 276,866.7 277.5,866.4 279,865.9 280.5,866 282,866.7 283.5,866.9 284.9,866.2 286.4,866.4 287.9,866.8 289.4,866.2 290.9,865.8 292.4,865.1 293.9,866.3 295.4,866.8 296.8,866.9 298.3,866.6 299.8,866.8 301.3,866.1 302.8,866.9 304.3,866.6 305.8,866.9 307.3,866.8 308.8,866.4 310.2,866.3 311.7,866.9 313.2,866 314.7,866 316.2,866.5 317.7,866.4 319.2,866.9 320.7,866.9 322.2,866.9 323.6,866.6 325.1,866.5"/>
<path d="M57.2,836.6 58.7,835.3 60.2,833.8 61.7,830.5 63.2,828.3 64.6,826.6 66.1,823.6 67.6,821.2 69.1,819.2 70.6,816.8 72.1,813.4 73.6,810.5 75.1,806.9 76.6,804.3 78,801.9 79.5,799.2 81,796.4 82.5,793.1 84,789.9 85.5,786.8 87,783.9 88.5,781.8 89.9,779 91.4,776.8 92.9,773.7 94.4,771.9 95.9,769.5 97.4,767.4 98.9,765.3 100.4,763.2 101.9,760.4 103.3,759.1 104.8,758.4 106.3,756.9 107.8,755.1 109.3,753.8 110.8,753 112.3,751.5 113.8,750.9 115.3,751 116.7,750.5 118.2,751.5 119.7,751.6 121.2,752.1 122.7,752.2 124.2,751.8 125.7,753 127.2,753 128.6,754.8 130.1,755 131.6,757.2 133.1,758.5 134.6,759 136.1,760.4 137.6,761.8 139.1,763.3 140.6,764.8 142,766.6 143.5,768.7 145,770.4 146.5,771.9 148,774.1 149.5,775.5 151,776.5 152.5,779.6 154,781.7 155.4,783.5 156.9,785.3 158.4,787.2 159.9,789.5 161.4,791.3 162.9,793.2 164.4,795.2 165.9,796.4 167.3,798.7 168.8,801.6 170.3,804 171.8,805.2 173.3,807.1 174.8,809.2 176.3,811.5 177.8,813 179.3,814.6 180.7,816.5 182.2,818.2 183.7,819.3 185.2,820.7 186.7,822.3 188.2,824.3 189.7,826.6 191.2,827.5 192.7,828.3 194.1,829.6 195.6,830.9 197.1,832.7 198.6,834.2 200.1,835.8 201.6,836.6 203.1,838.4 204.6,838.7 206.1,840.1 207.5,841.9 209,843.1 210.5,845.1 212,846.1 213.5,846.9 215,846.4 216.5,848.3 218,848.8 219.4,849.8 220.9,851 222.4,851.5 223.9,853.4 225.4,853.3 226.9,853.1 228.4,854.2 229.9,855.2 231.4,855.9 232.8,856.3 234.3,857.4 235.8,857.9 237.3,858.2 238.8,859.1 240.3,859.4 241.8,859.8 243.3,860.1 244.8,861.2 246.2,861.8 247.7,862.2 249.2,861.9 250.7,862.3 252.2,863.6 253.7,864.3 255.2,863.2 256.7,863.6 258.1,864.7 259.6,865.3 261.1,865.2 262.6,864.6 264.1,864.4 265.6,865.3 267.1,865.9 268.6,865.2 270.1,866.4 271.5,865.7 273,866 274.5,866.2 276,865.7 277.5,865.9 279,866.6 280.5,866.9 282,866.9 283.5,866.4 284.9,865.8 286.4,866.9 287.9,866.3 289.4,866.1 290.9,865.6 292.4,865.6 293.9,866 295.4,866 296.8,866.1 298.3,866.6 299.8,866.6 301.3,866.5 302.8,866.7 304.3,866.9 305.8,866.9 307.3,866.8 308.8,866.4 310.2,866.4 311.7,866.9 313.2,866.3 314.7,866.6 316.2,866.9 317.7,866.3 319.2,866.9 320.7,865.7 322.2,865.9 323.6,866.4 325.1,866.9"/>
<path d="M57.2,837.9 58.7,835.4 60.2,833.2 61.7,831.7 63.2,830.9 64.6,828.7 66.1,826.5 67.6,823.9 69.1,821.6 70.6,818.9 72.1,817.2 73.6,814.4 75.1,810.6 76.6,808.8 78,805.3 79.5,801.5 81,799 82.5,797.4 84,794 85.5,792.5 87,789.4 88.5,787 89.9,783.8 91.4,781 92.9,779 94.4,776.2 95.9,774.1 97.4,772.9 98.9,771.6 100.4,768.5 101.9,767.5 103.3,766 104.8,764.9 106.3,763.9 107.8,763.5 109.3,762.2 110.8,761.2 112.3,760 113.8,759.9 115.3,760.2 116.7,760.1 118.2,759.6 119.7,759.3 121.2,759.1 122.7,759.8 124.2,760 125.7,760.6 127.2,760.6 128.6,761.8 130.1,762.9 131.6,763.8 133.1,764.5 134.6,766.5 136.1,767.9 137.6,769.3 139.1,771.6 140.6,771.8 142,772.8 143.5,774.7 145,774.8 146.5,776.7 148,778.2 149.5,780.1 151,782.2 152.5,785.3 154,786.4 155.4,788.3 156.9,791.1 158.4,792.7 159.9,794.2 161.4,795.7 162.9,797.8 164.4,800.1 165.9,801.6 167.3,804 168.8,805.8 170.3,807.2 171.8,809.8 173.3,811.1 174.8,813.8 176.3,815.5 177.8,817.4 179.3,818.5 180.7,819.6 182.2,821.3 183.7,822.4 185.2,824.2 186.7,826 188.2,827.2 189.7,829 191.2,830.3 192.7,831.3 194.1,833.2 195.6,834 197.1,836.1 198.6,837.4 200.1,839.3 201.6,840.3 203.1,840.3 204.6,841.5 206.1,842.2 207.5,844.4 209,845.7 210.5,846.2 212,846.7 213.5,847.4 215,849.4 216.5,849.8 218,850.7 219.4,851.4 220.9,852 222.4,853.1 223.9,854.6 225.4,855.4 226.9,856.3 228.4,857.1 229.9,857.2 231.4,856.8 232.8,857.9 234.3,858.7 235.8,859.6 237.3,860.6 238.8,860.4 240.3,860.8 241.8,861.1 243.3,861.9 244.8,861.7 246.2,862.7 247.7,862.5 249.2,863.2 250.7,863 252.2,863.8 253.7,863.8 255.2,863.9 256.7,864.4 258.1,863.9 259.6,864.5 261.1,865.5 262.6,865.3 264.1,866.1 265.6,866.4 267.1,866.4 268.6,866.5 270.1,865.7 271.5,866.9 273,866.8 274.5,866.1 276,866.4 277.5,866.3 279,865.6 280.5,866.7 282,866.6 283.5,866.1 284.9,866.6 286.4,866.9 287.9,866.9 289.4,866.9 290.9,866.6 292.4,865.7 293.9,865.4 295.4,866.7 296.8,866.1 298.3,865.9 299.8,865.4 301.3,866 302.8,866.5 304.3,866.4 305.8,865.7 307.3,865.8 308.8,865.3 310.2,865.5 311.7,866.3 313.2,866.9 314.7,865.8 316.2,866.9 317.7,866.9 319.2,866.8 320.7,866.9 322.2,866.9 323.6,866.8 325.1,865.5"/>
<path d="M57.2,839 58.7,837.6 60.2,835.8 61.7,833.5 63.2,832.3 64.6,830.5 66.1,829.1 67.6,826.2 69.1,823.5 70.6,820.6 72.1,819.2 73.6,815.5 75.1,813 76.6,811 78,808.8 79.5,806.3 81,804.3 82.5,801 84,798.8 85.5,796.6 87,793.7 88.5,791.2 89.9,789.3 91.4,787 92.9,785 94.4,782.1 95.9,779.9 97.4,778.8 98.9,777.1 100.4,774.7 101.9,773.7 103.3,771.5 104.8,770.5 106.3,769.4 107.8,769.8 109.3,768.2 110.8,767.3 112.3,766.5 113.8,766 115.3,765.6 116.7,765.9 118.2,765.4 119.7,765.6 121.2,766.5 122.7,767.1 124.2,767.1 125.7,767.4 127.2,769.1 128.6,770.3 130.1,769.9 131.6,770.7 133.1,770.3 134.6,772.8 136.1,774 137.6,775.5 139.1,776.3 140.6,777.1 142,778.1 143.5,780.6 145,781.6 146.5,784.1 148,785.4 149.5,786.9 151,788.4 152.5,790.6 154,791.6 155.4,793.6 156.9,795.5 158.4,797.4 159.9,799.6 161.4,800.8 162.9,802.4 164.4,804 165.9,805 167.3,807.7 168.8,809.6 170.3,811.3 171.8,812.6 173.3,814.5 174.8,815.8 176.3,817.5 177.8,820.2 179.3,821.8 180.7,824 182.2,825 183.7,826.4 185.2,827.2 186.7,828.6 188.2,830.1 189.7,830.9 191.2,832.3 192.7,834.5 194.1,836 195.6,836.8 197.1,837.2 198.6,838.9 200.1,840.3 201.6,841.3 203.1,842.1 204.6,843.4 206.1,844.4 207.5,845.8 209,847 210.5,848.1 212,848.5 213.5,849.6 215,850.1 216.5,850.8 218,851.3 219.4,853.7 220.9,854.4 222.4,855.2 223.9,855.4 225.4,855.4 226.9,854.8 228.4,855.4 229.9,856 231.4,857.1 232.8,858.2 234.3,858.6 235.8,860.4 237.3,860 238.8,860.5 240.3,860.6 241.8,861.7 243.3,862.5 244.8,862.9 246.2,862.9 247.7,862.9 249.2,863.5 250.7,863.5 252.2,863.6 253.7,864.6 255.2,864.8 256.7,865.7 258.1,865.8 259.6,865.3 261.1,865.9 262.6,865.1 264.1,865.5 265.6,865.6 267.1,866.1 268.6,865.9 270.1,865.6 271.5,866 273,866.5 274.5,866.8 276,865.7 277.5,866.2 279,866.6 280.5,866.9 282,866.9 283.5,866.9 284.9,866.7 286.4,866.8 287.9,866.9 289.4,866.6 290.9,866.3 292.4,866.6 293.9,866.4 295.4,866.9 296.8,866.3 298.3,866.9 299.8,866.9 301.3,866.6 302.8,866.8 304.3,866.9 305.8,865.8 307.3,865.4 308.8,866.8 310.2,866.6 311.7,866.9 313.2,866.7 314.7,866.9 316.2,866.6 317.7,866.3 319.2,865.6 320.7,865.4 322.2,866.2 323.6,865.9 325.1,866.4"/>
<path d="M57.2,840.3 58.7,839 60.2,838.2 61.7,835.7 63.2,834.9 64.6,832.6 66.1,830.1 67.6,828 69.1,826.6 70.6,824.3 72.1,821.3 73.6,818.4 75.1,815.4 76.6,814.4 78,811.5 79.5,809.3 81,806.4 82.5,804.9 84,802.2 85.5,799.3 87,797.4 88.5,795.2 89.9,793.3 91.4,790.3 92.9,789.1 94.4,787.3 95.9,785.2 97.4,783.4 98.9,780.4 100.4,779.2 101.9,778.4 103.3,776.7 104.8,775.5 106.3,774.4 107.8,773.6 109.3,772.6 110.8,772.6 112.3,772.4 113.8,771.7 115.3,771.7 116.7,770.7 118.2,769.7 119.7,769.6 121.2,770.1 122.7,770.6 124.2,771.6 125.7,772.7 127.2,772.7 128.6,774.2 130.1,774.4 131.6,775.3 133.1,775.8 134.6,777 136.1,778.1 137.6,779.6 139.1,781.6 140.6,782.6 142,783.3 143.5,784.2 145,785.3 146.5,787.7 148,789.7 149.5,790.7 151,792.6 152.5,792.9 154,794.9 155.4,797.7 156.9,799.4 158.4,800.1 159.9,803 161.4,804.2 162.9,806.5 164.4,807 165.9,809.1 167.3,811.2 168.8,813.4 170.3,814.9 171.8,817.3 173.3,818.3 174.8,818.3 176.3,820 177.8,821.9 179.3,824 180.7,825 182.2,826.7 183.7,828.4 185.2,828.8 186.7,830.2 188.2,832.2 189.7,832.7 191.2,834.3 192.7,835.5 194.1,836.8 195.6,837.6 197.1,838.8 198.6,840.5 200.1,841.3 201.6,842.8 203.1,843.8 204.6,844 206.1,846 207.5,847.4 209,848.2 210.5,849.1 212,849.1 213.5,851 215,850.4 216.5,850.8 218,852.4 219.4,853.2 220.9,854.2 222.4,854.6 223.9,855.1 225.4,855.6 226.9,856.1 228.4,856.1 229.9,857.4 231.4,857.9 232.8,858.8 234.3,859.4 235.8,859.9 237.3,860.4 238.8,860.8 240.3,861.7 241.8,862 243.3,862.6 244.8,863.4 246.2,863.7 247.7,863.9 249.2,864 250.7,864.9 252.2,864.9 253.7,865.4 255.2,865.7 256.7,865.4 258.1,865 259.6,865.3 261.1,865.9 262.6,866.3 264.1,865.8 265.6,866.9 267.1,866.2 268.6,866.9 270.1,866.9 271.5,866.8 273,866.7 274.5,865.8 276,865.9 277.5,866.2 279,865.9 280.5,866.2 282,866.7 283.5,866.1 284.9,865.5 286.4,865.4 287.9,866.5 289.4,865.6 290.9,866.2 292.4,866 293.9,865.7 295.4,864.9 296.8,866.5 298.3,866.9 299.8,866.2 301.3,866.1 302.8,866.4 304.3,866.9 305.8,866.9 307.3,866.8 308.8,866.9 310.2,865.9 311.7,866.9 313.2,866.9 314.7,866.9 316.2,866.6 317.7,866.2 319.2,866.5 320.7,866.9 322.2,866.9 323.6,866.9 325.1,866.9"/>
</g>
<g fill="none" stroke="#5a5a5a" stroke-width="1.45" stroke-linejoin="round">
<path d="M57.2,643.4H354.9V866.5H57.2Z"/>
<path d="M57.2,866.5h-5M57.2,838.6h-3M57.2,810.7h-5M57.2,782.8h-3M57.2,755h-5M57.2,727.1h-3M57.2,699.2h-5M57.2,671.3h-3M57.2,643.4h-5M57.2,866.5v4.5M94.4,866.5v2.5M131.6,866.5v4.5M168.8,866.5v2.5M206.1,866.5v4.5M243.3,866.5v2.5M280.5,866.5v4.5M317.7,866.5v2.5M354.9,866.5v4.5"/>
</g>
<g font-family="Liberation Serif" font-weight="bold" font-size="12" fill="#222">
<text x="45.2" y="869.5" text-anchor="end">0</text>
<text x="45.2" y="813.7" text-anchor="end" textLength="17.1" lengthAdjust="spacingAndGlyphs">200</text>
<text x="45.2" y="758" text-anchor="end" textLength="17.1" lengthAdjust="spacingAndGlyphs">400</text>
<text x="45.2" y="702.2" text-anchor="end" textLength="17.1" lengthAdjust="spacingAndGlyphs">600</text>
<text x="45.2" y="646.4" text-anchor="end" textLength="17.1" lengthAdjust="spacingAndGlyphs">800</text>
<text x="56.1" y="886.8" text-anchor="middle" textLength="17.1" lengthAdjust="spacingAndGlyphs">300</text>
<text x="130.5" y="886.8" text-anchor="middle" textLength="17.1" lengthAdjust="spacingAndGlyphs">350</text>
<text x="205" y="886.8" text-anchor="middle" textLength="17.1" lengthAdjust="spacingAndGlyphs">400</text>
<text x="279.4" y="886.8" text-anchor="middle" textLength="17.1" lengthAdjust="spacingAndGlyphs">450</text>
<text x="353.8" y="886.8" text-anchor="middle" textLength="17.1" lengthAdjust="spacingAndGlyphs">500</text>
<text x="205.6" y="911.3" text-anchor="middle" font-size="13" letter-spacing="0.52">Wavelength(nm)</text>
<text transform="translate(11.2,754.7) rotate(-90)" text-anchor="middle" font-size="13.6">Fluorescence Intensity</text>
</g>
<text x="65" y="661.4" font-family="Liberation Sans" font-size="18" fill="#000">c</text>
<g font-family="Liberation Serif" font-weight="bold" font-size="11.5" fill="#111" text-anchor="middle">
<text x="278.7" y="728.2">1</text>
<text x="278.7" y="783">13</text>
</g>
<path d="M278.7,730.3V768.8" stroke="#111" stroke-width="1.3"/>
<path d="M276.5,766.8h4.4l-2.2,6z" fill="#111"/>
<g fill="none" stroke="#383838" stroke-width="1.3" stroke-linejoin="round">
<path d="M57.2,1131 58.7,1129.2 60.2,1126.4 61.7,1122.4 63.2,1119.1 64.7,1116.1 66.2,1112.4 67.7,1108.9 69.1,1105.4 70.6,1100.3 72.1,1095.8 73.6,1090.2 75.1,1085.6 76.6,1080.5 78.1,1074.5 79.6,1068.6 81.1,1062.5 82.6,1056.7 84.1,1050.1 85.6,1043.6 87.1,1036.6 88.6,1031 90,1026.1 91.5,1019.8 93,1012.9 94.5,1008.2 96,1003.6 97.5,998.6 99,995.2 100.5,990.2 102,985.8 103.5,982.5 105,978.4 106.5,975.7 108,973.8 109.5,971.3 110.9,968.7 112.4,966.3 113.9,965.1 115.4,964.9 116.9,965.3 118.4,965.6 119.9,965.4 121.4,966.5 122.9,967.1 124.4,967.7 125.9,969.7 127.4,971.3 128.9,972.4 130.4,974.2 131.9,976.2 133.3,978.5 134.8,980.6 136.3,981.9 137.8,984.1 139.3,988 140.8,990.6 142.3,993.3 143.8,996.1 145.3,999.8 146.8,1002.6 148.3,1005.4 149.8,1008.8 151.3,1011.7 152.8,1016.1 154.2,1019.5 155.7,1022.1 157.2,1025 158.7,1028.4 160.2,1031.9 161.7,1035 163.2,1037.8 164.7,1041 166.2,1044.7 167.7,1048.5 169.2,1051.2 170.7,1054.5 172.2,1057.6 173.7,1061.3 175.1,1065 176.6,1067.9 178.1,1071.3 179.6,1073.6 181.1,1076.4 182.6,1080.8 184.1,1083 185.6,1085.2 187.1,1087.8 188.6,1091.2 190.1,1094.4 191.6,1096.4 193.1,1098.7 194.6,1101.5 196,1104.7 197.5,1107.7 199,1109.4 200.5,1112 202,1114.3 203.5,1115.9 205,1117.5 206.5,1120.8 208,1122.7 209.5,1123.7 211,1125.7 212.5,1127.8 214,1129.2 215.5,1131.6 217,1133.6 218.4,1134.8 219.9,1135.4 221.4,1136.7 222.9,1138.6 224.4,1139.7 225.9,1141.6 227.4,1143.6 228.9,1145.4 230.4,1146 231.9,1146.5 233.4,1147.6 234.9,1148.9 236.4,1150.2 237.9,1150.6 239.3,1151.9 240.8,1153.6 242.3,1153.6 243.8,1154.9 245.3,1155.5 246.8,1156.4 248.3,1156.7 249.8,1157.6 251.3,1157.9 252.8,1158.9 254.3,1160.1 255.8,1161 257.3,1161.1 258.8,1162.2 260.2,1162.2 261.7,1163 263.2,1164 264.7,1164.7 266.2,1164.9 267.7,1164.3 269.2,1164.7 270.7,1165.5 272.2,1166.5 273.7,1165.8 275.2,1166.7 276.7,1167.2 278.2,1167.8 279.7,1167.4 281.2,1167.9 282.6,1168.6 284.1,1168.8 285.6,1169.6 287.1,1170.2 288.6,1170.1 290.1,1171 291.6,1170.4 293.1,1169.5 294.6,1170.7 296.1,1170.7 297.6,1171 299.1,1170.9 300.6,1170.7 302.1,1170.3 303.5,1171 305,1171 306.5,1171 308,1171 309.5,1169.7 311,1170.2 312.5,1170.4 314,1170.8 315.5,1170.3 317,1169.2 318.5,1169.3 320,1169.2 321.5,1170.4 323,1170 324.4,1170.3 325.9,1169.8"/>
<path d="M57.2,1132.6 58.7,1130 60.2,1128.4 61.7,1125.1 63.2,1122.2 64.7,1118.6 66.2,1115.2 67.7,1111 69.1,1108.3 70.6,1104.3 72.1,1099.7 73.6,1094.8 75.1,1090.2 76.6,1085 78.1,1079.6 79.6,1073.6 81.1,1068.3 82.6,1062.7 84.1,1058.2 85.6,1053.6 87.1,1048 88.6,1041.6 90,1037.2 91.5,1031.2 93,1026 94.5,1021 96,1016.7 97.5,1012.4 99,1007.7 100.5,1003.8 102,1000.4 103.5,997.5 105,994.3 106.5,991.2 108,989.2 109.5,987.6 110.9,986.6 112.4,985.1 113.9,984.5 115.4,984.4 116.9,983.3 118.4,983.7 119.9,984.9 121.4,985.2 122.9,984.6 124.4,985.8 125.9,987.6 127.4,989.2 128.9,989.9 130.4,991.2 131.9,993 133.3,995.1 134.8,996.9 136.3,998.4 137.8,1000.8 139.3,1003.6 140.8,1006.9 142.3,1009 143.8,1010.8 145.3,1013.6 146.8,1017.4 148.3,1020 149.8,1022.2 151.3,1025.8 152.8,1028.5 154.2,1031.1 155.7,1033.7 157.2,1038.1 158.7,1042 160.2,1044.4 161.7,1047 163.2,1050.4 164.7,1053.4 166.2,1056.7 167.7,1059.1 169.2,1063.4 170.7,1065.9 172.2,1069.4 173.7,1072.3 175.1,1075.6 176.6,1078.4 178.1,1080.7 179.6,1083.3 181.1,1085 182.6,1088.2 184.1,1090.9 185.6,1093.5 187.1,1096.1 188.6,1098.1 190.1,1100.9 191.6,1103.5 193.1,1106.1 194.6,1108.5 196,1110.8 197.5,1112.5 199,1114.9 200.5,1117.1 202,1119.2 203.5,1120.9 205,1123.2 206.5,1124.6 208,1127 209.5,1128.4 211,1129.3 212.5,1131.4 214,1133.4 215.5,1135.7 217,1136.6 218.4,1138.2 219.9,1139.2 221.4,1141.1 222.9,1142.1 224.4,1142.6 225.9,1144.2 227.4,1145.9 228.9,1147.8 230.4,1148.6 231.9,1149.3 233.4,1150.1 234.9,1151.8 236.4,1153.1 237.9,1154.2 239.3,1155.2 240.8,1155.7 242.3,1156.1 243.8,1155.9 245.3,1157 246.8,1157.3 248.3,1159.3 249.8,1159.1 251.3,1159.6 252.8,1160.4 254.3,1160.9 255.8,1161.5 257.3,1161.4 258.8,1162.2 260.2,1164.1 261.7,1165.2 263.2,1164.4 264.7,1165 266.2,1164.9 267.7,1165.8 269.2,1166.6 270.7,1167 272.2,1167.1 273.7,1167.4 275.2,1168 276.7,1168 278.2,1168 279.7,1169 281.2,1169.7 282.6,1170.6 284.1,1170.3 285.6,1170.1 287.1,1170.5 288.6,1170.8 290.1,1170.8 291.6,1170.8 293.1,1170.4 294.6,1170.1 296.1,1170.1 297.6,1169.8 299.1,1170.7 300.6,1170.3 302.1,1170.3 303.5,1171 305,1171 306.5,1170.6 308,1170.6 309.5,1171 311,1171 312.5,1170.1 314,1169.9 315.5,1170.2 317,1169.7 318.5,1170.6 320,1170.7 321.5,1170.2 323,1170.6 324.4,1171 325.9,1170.6"/>
<path d="M57.2,1133.4 58.7,1132.6 60.2,1129.5 61.7,1127.2 63.2,1124 64.7,1121.3 66.2,1116.3 67.7,1113.5 69.1,1109.9 70.6,1106.4 72.1,1102.6 73.6,1098.1 75.1,1093.2 76.6,1087.4 78.1,1082.6 79.6,1076.9 81.1,1072.7 82.6,1067.5 84.1,1062.5 85.6,1058 87.1,1050.6 88.6,1046.4 90,1041.7 91.5,1037.5 93,1033.1 94.5,1028.9 96,1023.8 97.5,1020.1 99,1016.3 100.5,1012.6 102,1009.9 103.5,1006.5 105,1003.8 106.5,1001.1 108,999.2 109.5,997.4 110.9,995.7 112.4,994.2 113.9,994 115.4,993 116.9,993.6 118.4,993.7 119.9,993.8 121.4,994.2 122.9,996.2 124.4,997 125.9,997.6 127.4,998 128.9,999.8 130.4,1000.5 131.9,1003.4 133.3,1004.8 134.8,1006.4 136.3,1008.5 137.8,1010.5 139.3,1012.4 140.8,1015.5 142.3,1017.5 143.8,1019.7 145.3,1022.7 146.8,1026.6 148.3,1029.4 149.8,1032 151.3,1034.9 152.8,1037 154.2,1040.1 155.7,1041.5 157.2,1044.6 158.7,1048.6 160.2,1051.5 161.7,1053.6 163.2,1056.5 164.7,1060.3 166.2,1062.6 167.7,1065.9 169.2,1067.7 170.7,1071.4 172.2,1074.1 173.7,1076.8 175.1,1080.1 176.6,1082.9 178.1,1085 179.6,1087.7 181.1,1090.6 182.6,1093.1 184.1,1094.9 185.6,1097.5 187.1,1100.2 188.6,1102.8 190.1,1106.2 191.6,1108.1 193.1,1110.5 194.6,1112.2 196,1114.7 197.5,1116.5 199,1119.1 200.5,1120.4 202,1122.8 203.5,1124.6 205,1126.1 206.5,1128.1 208,1129.8 209.5,1130.9 211,1131.9 212.5,1135 214,1136.8 215.5,1137.6 217,1138.6 218.4,1140.5 219.9,1141.8 221.4,1143.2 222.9,1143.3 224.4,1145.2 225.9,1147.1 227.4,1148.9 228.9,1150.1 230.4,1150 231.9,1151.2 233.4,1151.1 234.9,1152.2 236.4,1153.3 237.9,1154.2 239.3,1154.9 240.8,1155.6 242.3,1157.3 243.8,1158.3 245.3,1159.1 246.8,1159.5 248.3,1160.2 249.8,1161.4 251.3,1162 252.8,1161.3 254.3,1161.1 255.8,1162.7 257.3,1163.2 258.8,1163.9 260.2,1164.8 261.7,1164.8 263.2,1165.3 264.7,1164.9 266.2,1165.5 267.7,1166.4 269.2,1168.2 270.7,1168 272.2,1167.6 273.7,1168.3 275.2,1168 276.7,1168.1 278.2,1169.5 279.7,1169.6 281.2,1169.4 282.6,1169.3 284.1,1169.6 285.6,1170 287.1,1170.4 288.6,1170.7 290.1,1170.7 291.6,1171 293.1,1170.6 294.6,1170.7 296.1,1170.4 297.6,1170.8 299.1,1170.5 300.6,1170.5 302.1,1170.1 303.5,1170.1 305,1169.9 306.5,1170.3 308,1170.5 309.5,1170.7 311,1171 312.5,1171 314,1170.3 315.5,1170 317,1170.7 318.5,1170.5 320,1170.2 321.5,1171 323,1170.7 324.4,1170.5 325.9,1170.2"/>
<path d="M57.2,1135.2 58.7,1133.7 60.2,1131.9 61.7,1127.5 63.2,1125.1 64.7,1121.5 66.2,1118 67.7,1115.1 69.1,1112.4 70.6,1107.9 72.1,1104.3 73.6,1100 75.1,1095.6 76.6,1090.8 78.1,1085.9 79.6,1082.2 81.1,1077.9 82.6,1072.5 84.1,1067.5 85.6,1062.2 87.1,1057.7 88.6,1053.2 90,1047.6 91.5,1043 93,1038.7 94.5,1034.7 96,1031.7 97.5,1028.1 99,1024.7 100.5,1021.9 102,1019.1 103.5,1015.9 105,1013.9 106.5,1011 108,1008.8 109.5,1007.4 110.9,1006.2 112.4,1004.8 113.9,1003.9 115.4,1003.5 116.9,1004.1 118.4,1004.8 119.9,1003.6 121.4,1004.6 122.9,1005.5 124.4,1007.1 125.9,1008 127.4,1009.1 128.9,1009.6 130.4,1012.4 131.9,1014 133.3,1015.2 134.8,1016.9 136.3,1018.8 137.8,1020.7 139.3,1023.4 140.8,1024.9 142.3,1026.5 143.8,1029 145.3,1031.8 146.8,1033.7 148.3,1036.3 149.8,1039.7 151.3,1042.5 152.8,1045.3 154.2,1047.8 155.7,1049.8 157.2,1053.1 158.7,1055.9 160.2,1058.6 161.7,1062 163.2,1064.7 164.7,1066.9 166.2,1069.1 167.7,1073.1 169.2,1075.1 170.7,1078 172.2,1080 173.7,1082.6 175.1,1084.6 176.6,1087.7 178.1,1090.8 179.6,1093.8 181.1,1096.9 182.6,1098.6 184.1,1100.7 185.6,1102.7 187.1,1105.1 188.6,1108.3 190.1,1110.4 191.6,1112.5 193.1,1114.3 194.6,1116 196,1117.5 197.5,1119.7 199,1123 200.5,1125 202,1127.4 203.5,1128.8 205,1130.6 206.5,1131.5 208,1133 209.5,1133.9 211,1135.1 212.5,1137.1 214,1138.2 215.5,1139.8 217,1141.1 218.4,1141.9 219.9,1144.2 221.4,1145.4 222.9,1145.7 224.4,1147.6 225.9,1148.6 227.4,1149.6 228.9,1150.9 230.4,1152.5 231.9,1153.4 233.4,1154.4 234.9,1154.4 236.4,1155.2 237.9,1155.7 239.3,1157.3 240.8,1157.6 242.3,1158.3 243.8,1158.6 245.3,1159.9 246.8,1160.1 248.3,1160.2 249.8,1160.3 251.3,1162 252.8,1163.3 254.3,1164.3 255.8,1163.8 257.3,1164 258.8,1164.5 260.2,1165.5 261.7,1165.2 263.2,1165 264.7,1166 266.2,1166.6 267.7,1166.5 269.2,1166.9 270.7,1166.9 272.2,1167.9 273.7,1168.2 275.2,1168.8 276.7,1169.3 278.2,1169.6 279.7,1169.9 281.2,1169.7 282.6,1170.1 284.1,1170.3 285.6,1170.9 287.1,1171 288.6,1170.3 290.1,1170.9 291.6,1169.9 293.1,1169.8 294.6,1171 296.1,1171 297.6,1171 299.1,1170.9 300.6,1170.8 302.1,1171 303.5,1170.2 305,1170.5 306.5,1170 308,1170.7 309.5,1171 311,1170.1 312.5,1170.5 314,1171 315.5,1170.9 317,1170.2 318.5,1170.5 320,1170.9 321.5,1170.4 323,1170 324.4,1170.4 325.9,1170.7"/>
<path d="M57.2,1136.6 58.7,1132.9 60.2,1131.2 61.7,1128.1 63.2,1126.1 64.7,1123.3 66.2,1121.5 67.7,1117.9 69.1,1114.4 70.6,1110.9 72.1,1107.3 73.6,1103.9 75.1,1100.1 76.6,1095.1 78.1,1090.6 79.6,1085.9 81.1,1081.2 82.6,1076.8 84.1,1072.5 85.6,1066.8 87.1,1063.2 88.6,1059 90,1054.7 91.5,1051 93,1047.1 94.5,1042.5 96,1038.3 97.5,1035 99,1030.3 100.5,1027.8 102,1025 103.5,1023.5 105,1020.7 106.5,1018.2 108,1017.2 109.5,1014.9 110.9,1014.7 112.4,1014.3 113.9,1013.4 115.4,1013.3 116.9,1012.6 118.4,1013.2 119.9,1013.2 121.4,1014.6 122.9,1014.7 124.4,1014.7 125.9,1015.9 127.4,1016.9 128.9,1017.6 130.4,1019.9 131.9,1021.9 133.3,1023.1 134.8,1024.6 136.3,1026.5 137.8,1028.9 139.3,1030.1 140.8,1032.9 142.3,1035.1 143.8,1037.2 145.3,1039.1 146.8,1041.8 148.3,1044.6 149.8,1045.9 151.3,1049.2 152.8,1051.4 154.2,1054.2 155.7,1057.2 157.2,1059.7 158.7,1062.4 160.2,1064.8 161.7,1068.8 163.2,1070.8 164.7,1073.1 166.2,1076.1 167.7,1078.6 169.2,1079.8 170.7,1081.9 172.2,1084.8 173.7,1087.7 175.1,1090.7 176.6,1092.5 178.1,1095.6 179.6,1098.4 181.1,1100.3 182.6,1103.2 184.1,1105.6 185.6,1106.9 187.1,1110 188.6,1111.9 190.1,1113.8 191.6,1115.7 193.1,1118.4 194.6,1120.2 196,1122 197.5,1122.7 199,1124.4 200.5,1127 202,1128.4 203.5,1129.9 205,1131.9 206.5,1133.7 208,1135.4 209.5,1137.6 211,1138.9 212.5,1139.5 214,1140.2 215.5,1140.9 217,1143 218.4,1144.2 219.9,1146.8 221.4,1147.7 222.9,1149.1 224.4,1149.3 225.9,1151.1 227.4,1152.2 228.9,1153.3 230.4,1153.5 231.9,1153.8 233.4,1155.3 234.9,1155.1 236.4,1156.2 237.9,1157.6 239.3,1158 240.8,1158.8 242.3,1159.1 243.8,1159.8 245.3,1159.5 246.8,1160.2 248.3,1161.7 249.8,1162 251.3,1162.4 252.8,1163.8 254.3,1164.6 255.8,1165.2 257.3,1166.6 258.8,1165.9 260.2,1166.2 261.7,1165.8 263.2,1166.7 264.7,1167 266.2,1167 267.7,1167.1 269.2,1167.6 270.7,1168.6 272.2,1167.7 273.7,1168 275.2,1168.1 276.7,1168.1 278.2,1168.3 279.7,1169.1 281.2,1169.5 282.6,1169.7 284.1,1171 285.6,1170.4 287.1,1171 288.6,1170.6 290.1,1171 291.6,1170.5 293.1,1170.8 294.6,1169.5 296.1,1169.9 297.6,1170 299.1,1170.8 300.6,1170.8 302.1,1170.7 303.5,1170.8 305,1170.9 306.5,1171 308,1170.5 309.5,1170.7 311,1171 312.5,1170.7 314,1171 315.5,1170.9 317,1171 318.5,1171 320,1171 321.5,1171 323,1171 324.4,1170.9 325.9,1170.9"/>
<path d="M57.2,1138.2 58.7,1135.9 60.2,1133.2 61.7,1130.5 63.2,1127.8 64.7,1125 66.2,1122 67.7,1119.4 69.1,1116.6 70.6,1112.7 72.1,1109.4 73.6,1105.5 75.1,1101.2 76.6,1096.7 78.1,1092.1 79.6,1088.6 81.1,1084.4 82.6,1079.8 84.1,1076.3 85.6,1072.3 87.1,1067.3 88.6,1063.4 90,1059.6 91.5,1055 93,1051 94.5,1047 96,1044 97.5,1041 99,1038 100.5,1034.9 102,1033.2 103.5,1030.7 105,1027.7 106.5,1026.1 108,1024.2 109.5,1022.6 110.9,1021.2 112.4,1020.6 113.9,1020.5 115.4,1018.5 116.9,1019.2 118.4,1018.5 119.9,1020.1 121.4,1020.3 122.9,1020.9 124.4,1020.7 125.9,1021.1 127.4,1022.4 128.9,1024.7 130.4,1026.4 131.9,1028.1 133.3,1029.7 134.8,1031 136.3,1033.1 137.8,1034.8 139.3,1035.9 140.8,1037.5 142.3,1041.1 143.8,1043.5 145.3,1045.6 146.8,1047 148.3,1049.7 149.8,1051.2 151.3,1053.9 152.8,1056 154.2,1059.5 155.7,1062.2 157.2,1064.1 158.7,1066.6 160.2,1070.4 161.7,1072.7 163.2,1074.9 164.7,1077.1 166.2,1080 167.7,1081.6 169.2,1084.4 170.7,1086.4 172.2,1089.1 173.7,1091.8 175.1,1094.6 176.6,1097.5 178.1,1099.2 179.6,1101.2 181.1,1103.2 182.6,1105.9 184.1,1108.7 185.6,1110.8 187.1,1112.9 188.6,1114.8 190.1,1116.2 191.6,1118.8 193.1,1120.8 194.6,1122.2 196,1123.6 197.5,1124.6 199,1126.8 200.5,1129.3 202,1131.5 203.5,1133.3 205,1134.5 206.5,1135.7 208,1137.2 209.5,1138.9 211,1140.2 212.5,1141.5 214,1142.4 215.5,1143.7 217,1145.4 218.4,1147 219.9,1147 221.4,1148.4 222.9,1149.6 224.4,1150.6 225.9,1151 227.4,1152.4 228.9,1153.3 230.4,1154.4 231.9,1154.9 233.4,1156.4 234.9,1156.9 236.4,1157.1 237.9,1157.5 239.3,1158.3 240.8,1159.2 242.3,1159.3 243.8,1160.1 245.3,1160.5 246.8,1162.2 248.3,1163.3 249.8,1163.1 251.3,1163.8 252.8,1164.5 254.3,1165.3 255.8,1164.7 257.3,1165.9 258.8,1166.1 260.2,1167.1 261.7,1167.2 263.2,1166.3 264.7,1165.8 266.2,1167.2 267.7,1168.3 269.2,1167.8 270.7,1168.8 272.2,1169.9 273.7,1169.6 275.2,1170.2 276.7,1170.8 278.2,1170 279.7,1170.6 281.2,1171 282.6,1170.9 284.1,1170.8 285.6,1170.1 287.1,1170.3 288.6,1169.7 290.1,1169.6 291.6,1169.2 293.1,1169.4 294.6,1169.9 296.1,1170 297.6,1170.3 299.1,1171 300.6,1171 302.1,1170.7 303.5,1171 305,1171 306.5,1171 308,1171 309.5,1171 311,1170.9 312.5,1170.8 314,1170.9 315.5,1171 317,1171 318.5,1171 320,1171 321.5,1171 323,1170.7 324.4,1170.1 325.9,1170"/>
<path d="M57.2,1137.8 58.7,1136.8 60.2,1134.1 61.7,1131.1 63.2,1128.9 64.7,1127.1 66.2,1124.1 67.7,1121.5 69.1,1118.6 70.6,1114.7 72.1,1111.5 73.6,1108.5 75.1,1104.8 76.6,1099.5 78.1,1096.2 79.6,1091.8 81.1,1087.8 82.6,1083.2 84.1,1079.6 85.6,1076.2 87.1,1072.4 88.6,1068.7 90,1063.3 91.5,1060 93,1056.9 94.5,1052.9 96,1049.7 97.5,1047 99,1044 100.5,1041.4 102,1038.5 103.5,1035.8 105,1034.5 106.5,1032.9 108,1031.5 109.5,1029.6 110.9,1028.6 112.4,1027.6 113.9,1026.9 115.4,1027.2 116.9,1027 118.4,1026.5 119.9,1026.7 121.4,1027.1 122.9,1028.3 124.4,1029.3 125.9,1030.6 127.4,1031.5 128.9,1032.5 130.4,1034.4 131.9,1034.8 133.3,1036.8 134.8,1038.1 136.3,1039.5 137.8,1041.8 139.3,1044.5 140.8,1045.5 142.3,1047.3 143.8,1049.6 145.3,1051.2 146.8,1053.2 148.3,1056.3 149.8,1058.6 151.3,1061.7 152.8,1063.7 154.2,1065.2 155.7,1068.2 157.2,1070.1 158.7,1073.4 160.2,1075.7 161.7,1077.4 163.2,1079.1 164.7,1081.8 166.2,1084.2 167.7,1086.1 169.2,1090.3 170.7,1093.2 172.2,1094 173.7,1095.3 175.1,1098 176.6,1100.7 178.1,1103 179.6,1105.4 181.1,1108 182.6,1110 184.1,1112.1 185.6,1113.7 187.1,1115.5 188.6,1117.2 190.1,1119.2 191.6,1121.9 193.1,1122.9 194.6,1126.3 196,1127.5 197.5,1128.8 199,1130.7 200.5,1131.2 202,1133.7 203.5,1135.7 205,1137.1 206.5,1138.1 208,1139 209.5,1140.5 211,1141.6 212.5,1143.4 214,1144.9 215.5,1145.8 217,1147.6 218.4,1148.2 219.9,1149.4 221.4,1149.9 222.9,1151.5 224.4,1152.5 225.9,1153.5 227.4,1154.3 228.9,1155.5 230.4,1156.1 231.9,1157.3 233.4,1157.4 234.9,1157.7 236.4,1158.5 237.9,1159.4 239.3,1160.5 240.8,1161.3 242.3,1161.7 243.8,1162.5 245.3,1163.3 246.8,1163.3 248.3,1163.7 249.8,1164.3 251.3,1165 252.8,1165.2 254.3,1165.8 255.8,1166.2 257.3,1166.3 258.8,1166.3 260.2,1166.4 261.7,1167.4 263.2,1167.1 264.7,1168.3 266.2,1168.5 267.7,1168.1 269.2,1167.5 270.7,1168.4 272.2,1169.2 273.7,1169.7 275.2,1170.5 276.7,1170.5 278.2,1170.7 279.7,1171 281.2,1170.3 282.6,1170.8 284.1,1169.9 285.6,1169.8 287.1,1169.9 288.6,1170.5 290.1,1170.8 291.6,1171 293.1,1171 294.6,1170.9 296.1,1170.6 297.6,1170.9 299.1,1170.5 300.6,1171 302.1,1171 303.5,1171 305,1170.3 306.5,1171 308,1170.7 309.5,1170.8 311,1170.8 312.5,1171 314,1171 315.5,1170.7 317,1171 318.5,1170.8 320,1170.8 321.5,1169.7 323,1169.7 324.4,1170.8 325.9,1170.9"/>
<path d="M57.2,1140.2 58.7,1138.6 60.2,1136.4 61.7,1133.2 63.2,1130.9 64.7,1128.1 66.2,1125.7 67.7,1123.2 69.1,1120.2 70.6,1117.1 72.1,1112.9 73.6,1109 75.1,1105.9 76.6,1102.2 78.1,1099.7 79.6,1095.6 81.1,1090.4 82.6,1087.4 84.1,1083.2 85.6,1079 87.1,1075.9 88.6,1072.4 90,1069.1 91.5,1065.1 93,1061.9 94.5,1058 96,1054.8 97.5,1052.3 99,1048.6 100.5,1047 102,1045.2 103.5,1043.2 105,1041.6 106.5,1039.9 108,1038.2 109.5,1036.4 110.9,1036.3 112.4,1035.9 113.9,1035.2 115.4,1034.5 116.9,1033.9 118.4,1034.4 119.9,1033.7 121.4,1034.6 122.9,1035.3 124.4,1035.9 125.9,1036.2 127.4,1037.3 128.9,1038.6 130.4,1040.2 131.9,1041.4 133.3,1042.7 134.8,1044.5 136.3,1046.1 137.8,1048.7 139.3,1050.3 140.8,1051.2 142.3,1052.6 143.8,1055 145.3,1058.3 146.8,1059.1 148.3,1061.6 149.8,1062.6 151.3,1065.7 152.8,1067.7 154.2,1070.6 155.7,1072.3 157.2,1074.4 158.7,1077.7 160.2,1079.4 161.7,1080.6 163.2,1083.9 164.7,1087.2 166.2,1089.2 167.7,1091.7 169.2,1094.6 170.7,1097 172.2,1098.6 173.7,1101.4 175.1,1102.6 176.6,1104.6 178.1,1106.9 179.6,1108.4 181.1,1111.2 182.6,1112.8 184.1,1115.6 185.6,1117.5 187.1,1118.9 188.6,1121 190.1,1122.8 191.6,1124.2 193.1,1125.3 194.6,1126.8 196,1128.8 197.5,1130.9 199,1133.3 200.5,1133.7 202,1134.5 203.5,1137.6 205,1138.4 206.5,1139.9 208,1140.9 209.5,1142.2 211,1143.7 212.5,1145 214,1146.2 215.5,1146.7 217,1148.2 218.4,1149.7 219.9,1150.3 221.4,1151 222.9,1152 224.4,1153 225.9,1153.3 227.4,1154.1 228.9,1155.3 230.4,1156.5 231.9,1157 233.4,1158.9 234.9,1159.5 236.4,1160.2 237.9,1160.5 239.3,1161.2 240.8,1160.4 242.3,1161.2 243.8,1162 245.3,1161.7 246.8,1163 248.3,1164 249.8,1163.9 251.3,1164.3 252.8,1164.7 254.3,1164.9 255.8,1166 257.3,1166.9 258.8,1167.5 260.2,1167.6 261.7,1167.4 263.2,1168.4 264.7,1168.8 266.2,1169.6 267.7,1168.4 269.2,1168.6 270.7,1169.1 272.2,1170.1 273.7,1170.7 275.2,1170.9 276.7,1170.7 278.2,1171 279.7,1171 281.2,1170.2 282.6,1170.4 284.1,1170.5 285.6,1171 287.1,1171 288.6,1171 290.1,1171 291.6,1171 293.1,1171 294.6,1171 296.1,1171 297.6,1171 299.1,1171 300.6,1170.4 302.1,1170.9 303.5,1170.6 305,1171 306.5,1170.7 308,1170.4 309.5,1170.7 311,1170.2 312.5,1170.8 314,1170.7 315.5,1169.8 317,1170.2 318.5,1171 320,1170.2 321.5,1170.1 323,1170.5 324.4,1171 325.9,1171"/>
<path d="M57.2,1141.5 58.7,1138.5 60.2,1136.5 61.7,1135 63.2,1132 64.7,1129.1 66.2,1127.5 67.7,1124.6 69.1,1122.8 70.6,1119.3 72.1,1115.2 73.6,1113.1 75.1,1109.4 76.6,1106.1 78.1,1102.3 79.6,1098.5 81.1,1094.7 82.6,1090.7 84.1,1087 85.6,1083.2 87.1,1079.6 88.6,1076 90,1073.5 91.5,1070.1 93,1067.3 94.5,1064.6 96,1060.6 97.5,1058.1 99,1055.8 100.5,1054.6 102,1052 103.5,1049.4 105,1047.7 106.5,1046.4 108,1044.1 109.5,1043.4 110.9,1042.6 112.4,1041.9 113.9,1041.4 115.4,1040.5 116.9,1040.4 118.4,1040.7 119.9,1041.3 121.4,1041.7 122.9,1041.4 124.4,1042.6 125.9,1043.2 127.4,1045.1 128.9,1045.7 130.4,1046.5 131.9,1047.3 133.3,1048.9 134.8,1050.4 136.3,1052.1 137.8,1053.4 139.3,1054.5 140.8,1056.9 142.3,1059.5 143.8,1061.1 145.3,1063.3 146.8,1065.1 148.3,1066.9 149.8,1069.2 151.3,1071.8 152.8,1073.7 154.2,1076.6 155.7,1078.4 157.2,1081 158.7,1082.7 160.2,1084.8 161.7,1087.2 163.2,1090 164.7,1091.8 166.2,1094.2 167.7,1096.2 169.2,1097.9 170.7,1099.7 172.2,1102.7 173.7,1104.2 175.1,1105.7 176.6,1107.6 178.1,1110 179.6,1112.3 181.1,1113.6 182.6,1116.1 184.1,1118.9 185.6,1120.5 187.1,1122 188.6,1124.3 190.1,1126.4 191.6,1126.7 193.1,1128.6 194.6,1130 196,1132.1 197.5,1134.3 199,1135.6 200.5,1136.1 202,1138.1 203.5,1140.3 205,1141.2 206.5,1142.4 208,1143.4 209.5,1145 211,1146.1 212.5,1147.2 214,1147.7 215.5,1148.8 217,1149.5 218.4,1150.7 219.9,1152.9 221.4,1154.3 222.9,1154.2 224.4,1154.4 225.9,1154.9 227.4,1156 228.9,1157.8 230.4,1158.4 231.9,1158.6 233.4,1158.6 234.9,1159.8 236.4,1160.7 237.9,1161.6 239.3,1161.5 240.8,1161.8 242.3,1163.5 243.8,1163.1 245.3,1164.2 246.8,1165.3 248.3,1166 249.8,1166.3 251.3,1165.1 252.8,1164.6 254.3,1166.3 255.8,1167.1 257.3,1167.3 258.8,1167.4 260.2,1168.1 261.7,1169.1 263.2,1169.2 264.7,1169.5 266.2,1170.3 267.7,1169.9 269.2,1170.6 270.7,1171 272.2,1170 273.7,1169.8 275.2,1169.6 276.7,1170.1 278.2,1170.5 279.7,1170.6 281.2,1171 282.6,1170.6 284.1,1170.4 285.6,1170.7 287.1,1171 288.6,1171 290.1,1170.1 291.6,1169.6 293.1,1169.7 294.6,1170.3 296.1,1170.4 297.6,1170.2 299.1,1170.3 300.6,1169.9 302.1,1170.6 303.5,1171 305,1171 306.5,1171 308,1171 309.5,1170.9 311,1170.2 312.5,1170.4 314,1170.2 315.5,1170.4 317,1170.4 318.5,1170.7 320,1170.9 321.5,1170.1 323,1170.5 324.4,1170.6 325.9,1170"/>
<path d="M57.2,1141.4 58.7,1140 60.2,1138 61.7,1136.5 63.2,1134.1 64.7,1131.6 66.2,1129.2 67.7,1126.6 69.1,1123.8 70.6,1122.4 72.1,1119.3 73.6,1115.6 75.1,1112.4 76.6,1109.2 78.1,1105.6 79.6,1101.1 81.1,1098.1 82.6,1095.1 84.1,1091.8 85.6,1088.8 87.1,1084.9 88.6,1082.1 90,1078.2 91.5,1074.8 93,1071.9 94.5,1068.8 96,1066.6 97.5,1065.1 99,1062.4 100.5,1059.7 102,1058.4 103.5,1056.8 105,1054.1 106.5,1052.5 108,1050.6 109.5,1049.6 110.9,1049 112.4,1048.3 113.9,1047.6 115.4,1047.6 116.9,1047.8 118.4,1047.7 119.9,1048.2 121.4,1047.4 122.9,1048.9 124.4,1050.3 125.9,1051.4 127.4,1051.3 128.9,1052.6 130.4,1053.5 131.9,1054.8 133.3,1056 134.8,1058.1 136.3,1059.2 137.8,1060.9 139.3,1061.8 140.8,1063.4 142.3,1066 143.8,1068.1 145.3,1069.4 146.8,1070.7 148.3,1072.6 149.8,1075 151.3,1076.6 152.8,1080.1 154.2,1082 155.7,1084.3 157.2,1086.5 158.7,1087.8 160.2,1089.7 161.7,1091.7 163.2,1094 164.7,1095.8 166.2,1097.7 167.7,1100.3 169.2,1101.9 170.7,1104.6 172.2,1105.7 173.7,1108.7 175.1,1110.6 176.6,1113 178.1,1114.5 179.6,1115.6 181.1,1118.1 182.6,1119 184.1,1120.5 185.6,1122.6 187.1,1125 188.6,1126.3 190.1,1129.5 191.6,1130.9 193.1,1131.6 194.6,1133.1 196,1133.4 197.5,1135.8 199,1138 200.5,1139.2 202,1140 203.5,1140.6 205,1143.1 206.5,1144.1 208,1144.6 209.5,1146.3 211,1147.6 212.5,1149.2 214,1149.5 215.5,1150.1 217,1151 218.4,1152.1 219.9,1152.7 221.4,1154 222.9,1154.6 224.4,1155.3 225.9,1155.7 227.4,1156.7 228.9,1157.8 230.4,1158.3 231.9,1160 233.4,1161.3 234.9,1160.6 236.4,1161.3 237.9,1162.5 239.3,1163.1 240.8,1163.5 242.3,1163.8 243.8,1164.6 245.3,1164.3 246.8,1165.8 248.3,1164.5 249.8,1165.9 251.3,1165.5 252.8,1166 254.3,1167.5 255.8,1168.3 257.3,1168.2 258.8,1168.2 260.2,1168.6 261.7,1168.8 263.2,1169 264.7,1169.8 266.2,1169.8 267.7,1168.8 269.2,1169.8 270.7,1170.6 272.2,1170.3 273.7,1169.9 275.2,1169.7 276.7,1170.5 278.2,1170.6 279.7,1170.5 281.2,1170.6 282.6,1170.4 284.1,1170 285.6,1170 287.1,1170.3 288.6,1170.5 290.1,1169.7 291.6,1170.7 293.1,1169.7 294.6,1169.8 296.1,1170.1 297.6,1170.7 299.1,1169.8 300.6,1169.6 302.1,1169.6 303.5,1169.1 305,1170.7 306.5,1170.6 308,1170.8 309.5,1171 311,1170.8 312.5,1170.4 314,1170.2 315.5,1170.5 317,1171 318.5,1170.6 320,1170.3 321.5,1169.4 323,1169.5 324.4,1170.1 325.9,1170.9"/>
<path d="M57.2,1141.6 58.7,1140.9 60.2,1139.1 61.7,1136.9 63.2,1134.9 64.7,1132.3 66.2,1131 67.7,1128.9 69.1,1126.1 70.6,1124.1 72.1,1121.2 73.6,1117.3 75.1,1114.2 76.6,1111.3 78.1,1108.4 79.6,1105.1 81.1,1101.9 82.6,1099.2 84.1,1095.3 85.6,1092.9 87.1,1088.9 88.6,1086.3 90,1084.5 91.5,1081.9 93,1078.3 94.5,1075.9 96,1072.2 97.5,1069.4 99,1066.7 100.5,1064.9 102,1063 103.5,1062.2 105,1060.2 106.5,1059.4 108,1058.3 109.5,1058 110.9,1056.9 112.4,1055.9 113.9,1055.5 115.4,1055.8 116.9,1054.9 118.4,1054.6 119.9,1055.2 121.4,1055.3 122.9,1055.5 124.4,1057 125.9,1057.7 127.4,1059.4 128.9,1060.4 130.4,1060.8 131.9,1062.2 133.3,1063 134.8,1064.1 136.3,1066.6 137.8,1067.8 139.3,1068.3 140.8,1070.1 142.3,1071.8 143.8,1074 145.3,1076.4 146.8,1078.6 148.3,1078.4 149.8,1080.7 151.3,1083.3 152.8,1085 154.2,1087.9 155.7,1088.7 157.2,1089.9 158.7,1092.7 160.2,1094.6 161.7,1097.2 163.2,1098.6 164.7,1101.1 166.2,1103 167.7,1104.2 169.2,1106.2 170.7,1108.5 172.2,1111.3 173.7,1113.6 175.1,1114.3 176.6,1115.9 178.1,1117.8 179.6,1119 181.1,1121.1 182.6,1123.4 184.1,1125 185.6,1126.7 187.1,1128.2 188.6,1128.5 190.1,1130.4 191.6,1132.2 193.1,1134.1 194.6,1136 196,1137.8 197.5,1139.8 199,1140.7 200.5,1142.3 202,1143.9 203.5,1144.8 205,1146.4 206.5,1146.1 208,1146.5 209.5,1148.4 211,1148.3 212.5,1149.4 214,1152.1 215.5,1152.6 217,1153.8 218.4,1155.2 219.9,1155.5 221.4,1155.4 222.9,1156.1 224.4,1157.8 225.9,1158.6 227.4,1159.3 228.9,1159.1 230.4,1159.9 231.9,1161.1 233.4,1161.9 234.9,1163.2 236.4,1163.5 237.9,1163 239.3,1164.5 240.8,1164.4 242.3,1164.7 243.8,1164.6 245.3,1165.8 246.8,1165.5 248.3,1165.3 249.8,1165 251.3,1167 252.8,1167.3 254.3,1167.8 255.8,1168 257.3,1168.8 258.8,1168.4 260.2,1167.6 261.7,1167.8 263.2,1169.2 264.7,1169.9 266.2,1169.6 267.7,1169.9 269.2,1170.6 270.7,1170.1 272.2,1170.1 273.7,1169.8 275.2,1170.3 276.7,1169.8 278.2,1170.4 279.7,1171 281.2,1170.8 282.6,1171 284.1,1170.4 285.6,1170.1 287.1,1171 288.6,1170.8 290.1,1170.3 291.6,1170.6 293.1,1170.4 294.6,1170.8 296.1,1170.7 297.6,1170.7 299.1,1170.4 300.6,1171 302.1,1171 303.5,1170.8 305,1171 306.5,1170.5 308,1170.8 309.5,1171 311,1170.6 312.5,1170.5 314,1170.2 315.5,1170.6 317,1170.8 318.5,1170 320,1171 321.5,1170 323,1170 324.4,1170.3 325.9,1170.4"/>
<path d="M57.2,1143.8 58.7,1142.6 60.2,1140.6 61.7,1139.2 63.2,1138 64.7,1135.2 66.2,1132.7 67.7,1130 69.1,1127.4 70.6,1124.7 72.1,1121.9 73.6,1119.9 75.1,1116.2 76.6,1112.1 78.1,1110.1 79.6,1107.9 81.1,1104.3 82.6,1100.8 84.1,1097.5 85.6,1094.1 87.1,1092.4 88.6,1089.3 90,1086.3 91.5,1083.1 93,1081.3 94.5,1078.8 96,1076.5 97.5,1074.3 99,1072.1 100.5,1070.1 102,1069.1 103.5,1067 105,1065.2 106.5,1064 108,1064.4 109.5,1062.8 110.9,1061.7 112.4,1061 113.9,1059.3 115.4,1058.8 116.9,1059.1 118.4,1059 119.9,1057.7 121.4,1059.5 122.9,1060 124.4,1061.1 125.9,1061 127.4,1061.6 128.9,1063.1 130.4,1064 131.9,1065.8 133.3,1067.7 134.8,1068.2 136.3,1068.7 137.8,1070.7 139.3,1072.6 140.8,1075 142.3,1075.1 143.8,1077.7 145.3,1079.7 146.8,1081.3 148.3,1082.2 149.8,1084.3 151.3,1086.2 152.8,1088.2 154.2,1089.7 155.7,1091.8 157.2,1093.8 158.7,1095.9 160.2,1098.4 161.7,1099.4 163.2,1101.9 164.7,1104.4 166.2,1106.1 167.7,1107.7 169.2,1109.1 170.7,1111.8 172.2,1114 173.7,1115.3 175.1,1116.7 176.6,1119 178.1,1121.1 179.6,1122.3 181.1,1123.9 182.6,1126.2 184.1,1127.8 185.6,1128.2 187.1,1130.5 188.6,1131.3 190.1,1133.7 191.6,1134.1 193.1,1134.9 194.6,1137.2 196,1139 197.5,1139.8 199,1141.9 200.5,1142.6 202,1143.2 203.5,1144.5 205,1145.7 206.5,1147.1 208,1147.7 209.5,1149.5 211,1149.6 212.5,1150.9 214,1152.2 215.5,1154 217,1154.7 218.4,1155.1 219.9,1155.2 221.4,1157.1 222.9,1157.6 224.4,1158.5 225.9,1159.6 227.4,1159.8 228.9,1160.7 230.4,1160.6 231.9,1162.6 233.4,1162.2 234.9,1163.6 236.4,1164.5 237.9,1164 239.3,1164.4 240.8,1164.6 242.3,1165.5 243.8,1166.2 245.3,1166.6 246.8,1166.6 248.3,1167.3 249.8,1167.5 251.3,1168 252.8,1167.9 254.3,1168.7 255.8,1169.7 257.3,1170.7 258.8,1169.9 260.2,1169.7 261.7,1169.2 263.2,1170 264.7,1170.6 266.2,1171 267.7,1170.6 269.2,1171 270.7,1170.3 272.2,1170.5 273.7,1170.7 275.2,1171 276.7,1171 278.2,1170.6 279.7,1170.9 281.2,1170.4 282.6,1171 284.1,1170.5 285.6,1169.1 287.1,1169.3 288.6,1169.8 290.1,1170.8 291.6,1171 293.1,1171 294.6,1170.8 296.1,1171 297.6,1171 299.1,1170.7 300.6,1170.6 302.1,1170.2 303.5,1170 305,1170.9 306.5,1171 308,1170.8 309.5,1170.7 311,1170.6 312.5,1171 314,1170.3 315.5,1170.2 317,1169.8 318.5,1170.4 320,1170.1 321.5,1170.4 323,1171 324.4,1170.8 325.9,1171"/>
<path d="M57.2,1145.2 58.7,1143.5 60.2,1141.5 61.7,1140.4 63.2,1139 64.7,1137 66.2,1135.5 67.7,1132.9 69.1,1128.7 70.6,1126.6 72.1,1124.7 73.6,1122.2 75.1,1118.2 76.6,1116.2 78.1,1113.2 79.6,1110.2 81.1,1107.5 82.6,1104.7 84.1,1102.4 85.6,1099.3 87.1,1095.3 88.6,1091.9 90,1089.8 91.5,1086.9 93,1084.4 94.5,1082.2 96,1080.1 97.5,1077.3 99,1075.3 100.5,1073.8 102,1072.3 103.5,1070.2 105,1069.3 106.5,1068.4 108,1067.2 109.5,1066.3 110.9,1064.7 112.4,1064.1 113.9,1064 115.4,1064.1 116.9,1063.2 118.4,1063.3 119.9,1062.8 121.4,1063.3 122.9,1064.4 124.4,1065.5 125.9,1066.3 127.4,1066.9 128.9,1067.4 130.4,1068.4 131.9,1068.9 133.3,1071.3 134.8,1072.4 136.3,1074.4 137.8,1076 139.3,1077.3 140.8,1078.7 142.3,1080.4 143.8,1082.4 145.3,1082.9 146.8,1084.8 148.3,1085.9 149.8,1088.5 151.3,1091.3 152.8,1092.7 154.2,1093.6 155.7,1095.7 157.2,1097.2 158.7,1099.7 160.2,1100.6 161.7,1102.4 163.2,1104 164.7,1106.4 166.2,1107.7 167.7,1109.9 169.2,1112.1 170.7,1114.2 172.2,1115.8 173.7,1118 175.1,1120 176.6,1121.2 178.1,1122.4 179.6,1124.3 181.1,1125.5 182.6,1126.4 184.1,1129.2 185.6,1130.5 187.1,1132.5 188.6,1134.1 190.1,1135.1 191.6,1137.7 193.1,1138.1 194.6,1138.8 196,1140 197.5,1141.1 199,1141.7 200.5,1143.7 202,1144.5 203.5,1145.2 205,1146.6 206.5,1149 208,1149.9 209.5,1150.8 211,1152.5 212.5,1153 214,1153.2 215.5,1154.3 217,1155.2 218.4,1155.2 219.9,1156.6 221.4,1157.9 222.9,1158.4 224.4,1158.4 225.9,1159 227.4,1159.9 228.9,1160.9 230.4,1160.8 231.9,1161.3 233.4,1163.1 234.9,1163.2 236.4,1164.9 237.9,1164 239.3,1164.2 240.8,1165.2 242.3,1166.2 243.8,1166.4 245.3,1167.4 246.8,1167 248.3,1167.5 249.8,1168.5 251.3,1168.3 252.8,1167.8 254.3,1168.9 255.8,1169.1 257.3,1168.3 258.8,1168.8 260.2,1169.6 261.7,1169.7 263.2,1169.6 264.7,1170.5 266.2,1170.6 267.7,1171 269.2,1171 270.7,1171 272.2,1170.9 273.7,1170.6 275.2,1170.2 276.7,1169.8 278.2,1170.2 279.7,1170.3 281.2,1170.2 282.6,1170.2 284.1,1170.9 285.6,1170.9 287.1,1170.8 288.6,1170.7 290.1,1171 291.6,1170.9 293.1,1170.6 294.6,1170.5 296.1,1170.3 297.6,1170 299.1,1170 300.6,1169.8 302.1,1169.8 303.5,1169.5 305,1169.7 306.5,1170.5 308,1169.4 309.5,1169.4 311,1169.4 312.5,1169.6 314,1170.1 315.5,1170.9 317,1170.5 318.5,1170.7 320,1170.9 321.5,1171 323,1170.4 324.4,1171 325.9,1171"/>
</g>
<g fill="none" stroke="#5a5a5a" stroke-width="1.45" stroke-linejoin="round">
<path d="M57.2,946.9H355.8V1170.6H57.2Z"/>
<path d="M57.2,1170.6h-5M57.2,1142.6h-3M57.2,1114.7h-5M57.2,1086.7h-3M57.2,1058.8h-5M57.2,1030.8h-3M57.2,1002.8h-5M57.2,974.9h-3M57.2,946.9h-5M57.2,1170.6v4.5M94.5,1170.6v2.5M131.9,1170.6v4.5M169.2,1170.6v2.5M206.5,1170.6v4.5M243.8,1170.6v2.5M281.2,1170.6v4.5M318.5,1170.6v2.5M355.8,1170.6v4.5"/>
</g>
<g font-family="Liberation Serif" font-weight="bold" font-size="12" fill="#222">
<text x="45.2" y="1173.6" text-anchor="end">0</text>
<text x="45.2" y="1117.7" text-anchor="end" textLength="17.1" lengthAdjust="spacingAndGlyphs">200</text>
<text x="45.2" y="1061.8" text-anchor="end" textLength="17.1" lengthAdjust="spacingAndGlyphs">400</text>
<text x="45.2" y="1005.8" text-anchor="end" textLength="17.1" lengthAdjust="spacingAndGlyphs">600</text>
<text x="45.2" y="949.9" text-anchor="end" textLength="17.1" lengthAdjust="spacingAndGlyphs">800</text>
<text x="56.1" y="1190.9" text-anchor="middle" textLength="17.1" lengthAdjust="spacingAndGlyphs">300</text>
<text x="130.8" y="1190.9" text-anchor="middle" textLength="17.1" lengthAdjust="spacingAndGlyphs">350</text>
<text x="205.4" y="1190.9" text-anchor="middle" textLength="17.1" lengthAdjust="spacingAndGlyphs">400</text>
<text x="280.1" y="1190.9" text-anchor="middle" textLength="17.1" lengthAdjust="spacingAndGlyphs">450</text>
<text x="354.7" y="1190.9" text-anchor="middle" textLength="17.1" lengthAdjust="spacingAndGlyphs">500</text>
<text x="206.2" y="1212.9" text-anchor="middle" font-size="13" letter-spacing="0.52">Wavelength(nm)</text>
<text transform="translate(13.2,1057.7) rotate(-90)" text-anchor="middle" font-size="13.6">Fluorescence Intensity</text>
</g>
<text x="63.9" y="967.7" font-family="Liberation Sans" font-size="18" fill="#000">d</text>
<g font-family="Liberation Serif" font-weight="bold" font-size="11.5" fill="#111" text-anchor="middle">
<text x="277.9" y="1028.8">1</text>
<text x="277.9" y="1083.7">13</text>
</g>
<path d="M277.9,1031V1069.2" stroke="#111" stroke-width="1.3"/>
<path d="M275.7,1067.2h4.4l-2.2,6z" fill="#111"/>
<g fill="none" stroke="#383838" stroke-width="1.3" stroke-linejoin="round">
<path d="M451.1,206.5 452.6,203.2 454.1,200.6 455.6,197 457.1,193.1 458.6,189.2 460.1,184.9 461.5,180.3 463,176.2 464.5,172.1 466,165.5 467.5,160.6 469,155.5 470.5,148.9 472,142.5 473.5,136.8 475,129.4 476.5,125 478,117.9 479.5,112 481,105.9 482.4,100.1 483.9,94.6 485.4,89 486.9,84.4 488.4,79.3 489.9,73.3 491.4,70.4 492.9,65.1 494.4,62.4 495.9,58.7 497.4,54.6 498.9,51.9 500.4,49.6 501.8,48.1 503.3,45.9 504.8,44.4 506.3,43.6 507.8,43.6 509.3,42.8 510.8,42.5 512.3,42.3 513.8,42.9 515.3,43.3 516.8,44.2 518.3,47.5 519.8,47.6 521.2,49.5 522.7,51.9 524.2,53.4 525.7,55.1 527.2,58.4 528.7,61.1 530.2,62.9 531.7,65.8 533.2,67.6 534.7,70.7 536.2,74.1 537.7,77.8 539.2,80.3 540.6,84.3 542.1,87.8 543.6,91.2 545.1,93 546.6,95.7 548.1,99.7 549.6,103.5 551.1,106.6 552.6,109.6 554.1,113.9 555.6,116.3 557.1,120.4 558.6,123.5 560.1,128.5 561.5,131.5 563,135 564.5,137.1 566,140.9 567.5,144.9 569,146.9 570.5,150.8 572,154 573.5,157.7 575,160.1 576.5,163 578,166.2 579.5,169.2 580.9,172.2 582.4,175.1 583.9,178.3 585.4,179.8 586.9,182 588.4,185.5 589.9,188.3 591.4,190.1 592.9,191.2 594.4,194.1 595.9,196.7 597.4,199.1 598.9,201 600.4,203.2 601.8,204.6 603.3,206.3 604.8,208.2 606.3,209.6 607.8,212 609.3,214.2 610.8,214.3 612.3,217.6 613.8,219.9 615.3,222.1 616.8,222.5 618.3,224.1 619.8,224.5 621.2,226.9 622.7,227.7 624.2,228.9 625.7,230.3 627.2,230.5 628.7,231.9 630.2,232.6 631.7,234 633.2,234.8 634.7,235.9 636.2,236.7 637.7,237.5 639.2,238.7 640.6,239.1 642.1,239.9 643.6,241.1 645.1,242.1 646.6,242.1 648.1,242 649.6,243.6 651.1,244.2 652.6,244.4 654.1,244.4 655.6,244.9 657.1,246.3 658.6,246.6 660,246.5 661.5,247.1 663,247.8 664.5,248.8 666,248.8 667.5,249.1 669,249.4 670.5,248.9 672,249 673.5,250.2 675,250.5 676.5,251 678,251.2 679.5,250.6 680.9,250.8 682.4,251.5 683.9,252.3 685.4,252.5 686.9,252.5 688.4,252.9 689.9,252.2 691.4,252.5 692.9,253.1 694.4,251.9 695.9,253.1 697.4,253.1 698.9,253.1 700.3,252.4 701.8,252 703.3,251.6 704.8,251.4 706.3,251.9 707.8,252.2 709.3,252 710.8,252.3 712.3,253.1 713.8,253.1 715.3,252.6 716.8,252.3 718.3,253.1 719.8,252.3 721.2,252.3 722.7,253.1 724.2,252.8 725.7,252.2 727.2,252.2"/>
<path d="M451.1,209.2 452.6,206.8 454.1,203 455.6,200 457.1,196.9 458.6,193.7 460.1,190.6 461.5,187.4 463,182.9 464.5,177.7 466,173 467.5,168.9 469,163.2 470.5,158.8 472,154.6 473.5,149 475,143.6 476.5,139.4 478,135.4 479.5,130.5 481,127 482.4,121.9 483.9,116.5 485.4,112.4 486.9,109 488.4,104.8 489.9,101.6 491.4,97.6 492.9,94.9 494.4,91.1 495.9,89.3 497.4,87 498.9,85.6 500.4,84.3 501.8,82.2 503.3,80.7 504.8,80.3 506.3,79.2 507.8,79.1 509.3,79.2 510.8,79.2 512.3,79.3 513.8,79.5 515.3,79.9 516.8,81 518.3,82.8 519.8,84.3 521.2,85.3 522.7,87.5 524.2,88.9 525.7,90.7 527.2,92.5 528.7,94.3 530.2,95.9 531.7,97.6 533.2,100 534.7,102.4 536.2,105.9 537.7,107.9 539.2,110.1 540.6,113.9 542.1,115.3 543.6,118.9 545.1,123 546.6,124.4 548.1,127.4 549.6,130.8 551.1,133.8 552.6,135.9 554.1,138.8 555.6,142 557.1,144.3 558.6,147.9 560.1,151.1 561.5,153.9 563,156.8 564.5,158.9 566,161.8 567.5,165 569,167.6 570.5,171 572,172.9 573.5,175.1 575,177.2 576.5,179.9 578,182.1 579.5,185.1 580.9,187.2 582.4,189.3 583.9,192.2 585.4,193.8 586.9,195.8 588.4,197.9 589.9,200.2 591.4,201.1 592.9,203.5 594.4,206 595.9,208.1 597.4,209.4 598.9,211.2 600.4,213.3 601.8,215 603.3,215.9 604.8,217.5 606.3,218.5 607.8,220.2 609.3,222.4 610.8,223.1 612.3,224.3 613.8,226 615.3,227.3 616.8,228.9 618.3,229.3 619.8,230.7 621.2,231.4 622.7,232.4 624.2,233.6 625.7,234.4 627.2,235.5 628.7,237 630.2,237.7 631.7,238.9 633.2,238.9 634.7,239.3 636.2,240.5 637.7,240.8 639.2,241.5 640.6,241.7 642.1,243.1 643.6,243.6 645.1,244.7 646.6,245.3 648.1,244.9 649.6,246.6 651.1,247.1 652.6,246.9 654.1,246.9 655.6,247.8 657.1,249.1 658.6,249.8 660,249.3 661.5,248.9 663,248.9 664.5,249.9 666,249.5 667.5,250.2 669,250.3 670.5,250.9 672,250.4 673.5,251.4 675,252.8 676.5,252.7 678,252.5 679.5,252.4 680.9,253 682.4,253 683.9,253.1 685.4,253.1 686.9,252.9 688.4,252.7 689.9,251.9 691.4,253.1 692.9,252.7 694.4,252.5 695.9,253.1 697.4,252.9 698.9,252.8 700.3,253.1 701.8,252.6 703.3,251.7 704.8,251.9 706.3,251.9 707.8,251.8 709.3,252.3 710.8,252 712.3,252.8 713.8,252.6 715.3,252.3 716.8,251.9 718.3,252.4 719.8,252.7 721.2,252.5 722.7,252.6 724.2,252.6 725.7,252.2 727.2,252.9"/>
<path d="M451.1,210.9 452.6,208.5 454.1,206.2 455.6,204 457.1,201.1 458.6,197.8 460.1,193.9 461.5,191.7 463,187.3 464.5,183.4 466,180.1 467.5,175.4 469,171.3 470.5,167.2 472,163.8 473.5,160.2 475,155.5 476.5,150.9 478,147.3 479.5,143.9 481,140.5 482.4,137.8 483.9,133.4 485.4,130.2 486.9,126.5 488.4,124.2 489.9,120.8 491.4,118.9 492.9,116.1 494.4,113.3 495.9,112.1 497.4,109.9 498.9,108.6 500.4,107.9 501.8,106.5 503.3,105.2 504.8,105.1 506.3,104.7 507.8,104.6 509.3,104.8 510.8,104.8 512.3,104.6 513.8,105.5 515.3,105.4 516.8,106.7 518.3,108.1 519.8,108.5 521.2,109.2 522.7,111.4 524.2,112.6 525.7,114.9 527.2,116.6 528.7,118.4 530.2,119.7 531.7,122.3 533.2,124.3 534.7,126.5 536.2,128.3 537.7,131 539.2,133.5 540.6,133.9 542.1,136.6 543.6,140 545.1,141.7 546.6,144.9 548.1,148 549.6,149 551.1,151 552.6,154.2 554.1,157.2 555.6,159.2 557.1,160.6 558.6,163.2 560.1,165.7 561.5,169.1 563,172.3 564.5,174 566,175.6 567.5,178.1 569,180.5 570.5,182.1 572,185.1 573.5,186.7 575,188.7 576.5,191.5 578,193.5 579.5,195.5 580.9,197.3 582.4,199.9 583.9,201.8 585.4,203.4 586.9,205.2 588.4,206.9 589.9,208.6 591.4,210.4 592.9,212.3 594.4,213.2 595.9,215.3 597.4,216.9 598.9,218.7 600.4,220.4 601.8,221.2 603.3,222.4 604.8,223.8 606.3,224.7 607.8,226.1 609.3,227 610.8,227.4 612.3,228.9 613.8,230.4 615.3,230.8 616.8,231.9 618.3,234.1 619.8,234.1 621.2,235.2 622.7,235.8 624.2,237.5 625.7,238.6 627.2,239.4 628.7,239.6 630.2,240.8 631.7,241.6 633.2,241.5 634.7,242.5 636.2,243 637.7,244 639.2,245.2 640.6,245.2 642.1,245.5 643.6,246.5 645.1,246.1 646.6,246.2 648.1,246.4 649.6,247.4 651.1,248.4 652.6,248.6 654.1,248.8 655.6,249.2 657.1,249.8 658.6,250.4 660,250.8 661.5,250.7 663,251.1 664.5,250.3 666,251 667.5,251.2 669,251.8 670.5,252.1 672,252.7 673.5,252.9 675,253.1 676.5,253.1 678,252.8 679.5,253.1 680.9,252.8 682.4,252.8 683.9,253 685.4,252.5 686.9,252.9 688.4,252.6 689.9,252.8 691.4,252.3 692.9,252 694.4,252.3 695.9,252 697.4,252.1 698.9,251.6 700.3,252.2 701.8,253.1 703.3,252.9 704.8,252.7 706.3,252.9 707.8,252.9 709.3,252.9 710.8,253.1 712.3,252.2 713.8,252.8 715.3,253.1 716.8,253.1 718.3,253.1 719.8,253.1 721.2,252.2 722.7,252.2 724.2,252.8 725.7,253.1 727.2,253.1"/>
<path d="M451.1,213.7 452.6,211 454.1,209.1 455.6,205.9 457.1,202.7 458.6,200.6 460.1,199.2 461.5,195.3 463,192.3 464.5,188.8 466,185.3 467.5,182.9 469,179.5 470.5,176.2 472,173.4 473.5,169.7 475,166.7 476.5,163.9 478,159.9 479.5,157.3 481,153.9 482.4,151.8 483.9,148.9 485.4,147.1 486.9,144.7 488.4,141.9 489.9,141.2 491.4,138.6 492.9,136.9 494.4,134.6 495.9,133.2 497.4,132.1 498.9,131.7 500.4,129 501.8,129.1 503.3,128.8 504.8,128.7 506.3,128.3 507.8,127.9 509.3,128.6 510.8,128 512.3,128.5 513.8,128.7 515.3,130.5 516.8,131 518.3,131.7 519.8,132.6 521.2,133.8 522.7,134.5 524.2,135.5 525.7,137.4 527.2,139.6 528.7,140.2 530.2,141.8 531.7,142.8 533.2,144.3 534.7,146.5 536.2,149.1 537.7,150.9 539.2,153 540.6,154 542.1,157 543.6,158.2 545.1,161.1 546.6,163.1 548.1,165.5 549.6,167.4 551.1,169.3 552.6,170.9 554.1,173.2 555.6,174.8 557.1,176.1 558.6,178.5 560.1,181.4 561.5,183.4 563,185.4 564.5,187.5 566,188.7 567.5,190.3 569,191.7 570.5,194 572,197.7 573.5,199.1 575,200.4 576.5,202.6 578,204.5 579.5,205.5 580.9,207.2 582.4,209.5 583.9,211.1 585.4,213.9 586.9,214.6 588.4,216.2 589.9,217.2 591.4,218.9 592.9,220.3 594.4,221.5 595.9,221.1 597.4,223.4 598.9,225.2 600.4,226.4 601.8,226.7 603.3,227.6 604.8,228.6 606.3,230.1 607.8,231.1 609.3,232.6 610.8,233.5 612.3,234.7 613.8,236 615.3,236.9 616.8,236.3 618.3,237.1 619.8,238.5 621.2,239.2 622.7,240.1 624.2,240.1 625.7,241 627.2,242 628.7,242.2 630.2,242.8 631.7,243.9 633.2,244.7 634.7,244.9 636.2,246.2 637.7,246.7 639.2,246.2 640.6,246.3 642.1,246.4 643.6,247.4 645.1,248.2 646.6,248.6 648.1,249.1 649.6,248.6 651.1,249.3 652.6,249 654.1,250.1 655.6,250.2 657.1,249.8 658.6,250.9 660,251.5 661.5,251.9 663,252.7 664.5,252.6 666,252.8 667.5,251.6 669,252.5 670.5,253.1 672,252.7 673.5,252.3 675,252.5 676.5,252.5 678,252.2 679.5,252.7 680.9,252.7 682.4,252.6 683.9,251.9 685.4,251.6 686.9,252.1 688.4,253 689.9,252.4 691.4,252.6 692.9,252.1 694.4,252.4 695.9,252.4 697.4,252.3 698.9,252.8 700.3,253.1 701.8,251.7 703.3,252.4 704.8,251.8 706.3,251.3 707.8,250.7 709.3,250 710.8,250.8 712.3,250.1 713.8,251.4 715.3,251.4 716.8,251.5 718.3,251.4 719.8,251.5 721.2,252.5 722.7,252.8 724.2,252.8 725.7,253.1 727.2,253.1"/>
<path d="M451.1,216.3 452.6,213.6 454.1,210.9 455.6,208.7 457.1,205.9 458.6,204 460.1,202.2 461.5,199.7 463,196.5 464.5,193.1 466,189.8 467.5,187.8 469,184.4 470.5,182 472,178.9 473.5,175.8 475,172.6 476.5,170.7 478,168 479.5,165.4 481,163.3 482.4,160.9 483.9,158.3 485.4,157.1 486.9,155 488.4,151.6 489.9,150 491.4,148.9 492.9,148.3 494.4,146.9 495.9,145 497.4,143.5 498.9,142.4 500.4,141.5 501.8,141.3 503.3,140 504.8,140.6 506.3,140 507.8,140.2 509.3,141.1 510.8,140.4 512.3,140.9 513.8,141 515.3,141.1 516.8,142.1 518.3,143.4 519.8,144.4 521.2,145.4 522.7,145.7 524.2,146.8 525.7,147.6 527.2,149.2 528.7,151.4 530.2,152.5 531.7,153.8 533.2,155.8 534.7,157.3 536.2,159.3 537.7,161.7 539.2,163.2 540.6,164.4 542.1,166.5 543.6,169.4 545.1,171.1 546.6,171.9 548.1,173.7 549.6,175.1 551.1,177.7 552.6,179.8 554.1,182 555.6,184 557.1,185.3 558.6,187 560.1,189.1 561.5,190.7 563,193.2 564.5,194.9 566,197.2 567.5,199.2 569,201 570.5,202.6 572,202.9 573.5,204 575,205.4 576.5,207.7 578,209.1 579.5,211.4 580.9,213 582.4,214.1 583.9,216.3 585.4,217.2 586.9,218.1 588.4,220.5 589.9,222.6 591.4,223.1 592.9,224 594.4,224.8 595.9,226.4 597.4,227 598.9,228 600.4,229.5 601.8,229.5 603.3,230.7 604.8,231.6 606.3,231.9 607.8,233.7 609.3,234.8 610.8,236.6 612.3,237.1 613.8,237.4 615.3,237 616.8,238 618.3,239.1 619.8,240.7 621.2,241.6 622.7,242.9 624.2,243.6 625.7,243.5 627.2,243.6 628.7,244.6 630.2,245 631.7,245.7 633.2,245.6 634.7,245.8 636.2,246.7 637.7,247.3 639.2,248.2 640.6,248.4 642.1,247.4 643.6,248.2 645.1,248.3 646.6,248.7 648.1,248.6 649.6,249.6 651.1,250.5 652.6,250.2 654.1,250.2 655.6,251.1 657.1,250.8 658.6,251.4 660,251.7 661.5,251.1 663,251.6 664.5,252 666,252.6 667.5,252.6 669,252.1 670.5,252.2 672,252.8 673.5,252.5 675,252.7 676.5,252.5 678,252.7 679.5,253.1 680.9,253.1 682.4,253.1 683.9,253.1 685.4,253.1 686.9,252.4 688.4,252.2 689.9,252.7 691.4,252.5 692.9,253.1 694.4,253.1 695.9,252.4 697.4,252.5 698.9,253.1 700.3,252.5 701.8,252.9 703.3,253.1 704.8,252.8 706.3,252.9 707.8,251.8 709.3,252.3 710.8,251.4 712.3,251.9 713.8,252.9 715.3,252.8 716.8,252.7 718.3,252 719.8,251.7 721.2,251 722.7,252.2 724.2,252.7 725.7,251.5 727.2,252.6"/>
<path d="M451.1,218.2 452.6,215.6 454.1,214.6 455.6,212.7 457.1,210.8 458.6,208 460.1,205.5 461.5,203.2 463,200.5 464.5,198.6 466,196.2 467.5,193.4 469,190 470.5,188.2 472,186 473.5,183.2 475,181.2 476.5,178.6 478,176.7 479.5,174.3 481,172.6 482.4,171.4 483.9,169.8 485.4,167.6 486.9,165 488.4,162.9 489.9,162.3 491.4,160 492.9,160.1 494.4,159.5 495.9,157.9 497.4,157.9 498.9,156.4 500.4,155.7 501.8,155 503.3,155.4 504.8,154.8 506.3,154.2 507.8,154.4 509.3,154.1 510.8,154.7 512.3,155 513.8,155.7 515.3,157 516.8,157.3 518.3,157.6 519.8,158.8 521.2,160.5 522.7,161.7 524.2,161.4 525.7,162.6 527.2,164.1 528.7,164.5 530.2,166.1 531.7,168.3 533.2,169.6 534.7,171.1 536.2,172.4 537.7,174.1 539.2,175.3 540.6,176.5 542.1,178.4 543.6,180 545.1,181.6 546.6,182.7 548.1,184.9 549.6,186 551.1,187.2 552.6,189.4 554.1,191.6 555.6,193.3 557.1,195.6 558.6,197 560.1,198.8 561.5,200 563,201.5 564.5,202.6 566,204.1 567.5,205.5 569,207.2 570.5,208.6 572,210.7 573.5,211.6 575,212.4 576.5,213.6 578,216.1 579.5,217.1 580.9,219.3 582.4,219.8 583.9,221.1 585.4,222.5 586.9,224 588.4,225 589.9,225.9 591.4,227.4 592.9,228.2 594.4,229 595.9,229.7 597.4,230.9 598.9,231.9 600.4,231.7 601.8,232.7 603.3,233.9 604.8,235.8 606.3,236.2 607.8,236.8 609.3,239 610.8,239.3 612.3,239.5 613.8,240.1 615.3,240.7 616.8,241.5 618.3,241.3 619.8,242.1 621.2,243.1 622.7,243.8 624.2,243.3 625.7,244.7 627.2,245.6 628.7,245.8 630.2,246.2 631.7,246.5 633.2,246.4 634.7,246.6 636.2,247.3 637.7,248 639.2,248.6 640.6,249.1 642.1,248.9 643.6,250.1 645.1,250.8 646.6,250.9 648.1,251.4 649.6,251.7 651.1,251 652.6,252.4 654.1,251.9 655.6,252.7 657.1,252.6 658.6,252.9 660,253.1 661.5,253.1 663,253.1 664.5,253.1 666,253.1 667.5,253.1 669,252.7 670.5,251.8 672,252.4 673.5,253 675,253 676.5,252.6 678,252.2 679.5,252.9 680.9,252.6 682.4,252.7 683.9,252.1 685.4,252.6 686.9,252.8 688.4,253.1 689.9,253.1 691.4,253 692.9,252.5 694.4,252.1 695.9,252.2 697.4,252.7 698.9,253.1 700.3,253.1 701.8,253.1 703.3,252.9 704.8,252.8 706.3,253.1 707.8,253.1 709.3,253.1 710.8,253.1 712.3,253.1 713.8,252.6 715.3,253.1 716.8,253.1 718.3,253.1 719.8,252.9 721.2,252.9 722.7,252 724.2,252.3 725.7,253 727.2,252.5"/>
<path d="M451.1,221 452.6,218.8 454.1,217 455.6,214.6 457.1,213.4 458.6,210.9 460.1,208.7 461.5,207.1 463,204.4 464.5,201.2 466,199.5 467.5,198.1 469,196 470.5,193.2 472,191.2 473.5,188.7 475,187.4 476.5,184.9 478,184.1 479.5,182.1 481,180.3 482.4,178.7 483.9,176.3 485.4,175.2 486.9,173.5 488.4,171.3 489.9,170.1 491.4,169.6 492.9,169.1 494.4,169 495.9,167.4 497.4,166 498.9,165 500.4,164.7 501.8,163.4 503.3,163.4 504.8,164.8 506.3,164.9 507.8,164.1 509.3,164.4 510.8,164.2 512.3,163.4 513.8,164.9 515.3,164.5 516.8,165.8 518.3,167.5 519.8,168 521.2,168.3 522.7,169.7 524.2,169.8 525.7,171.6 527.2,172.8 528.7,173.4 530.2,174.9 531.7,176.5 533.2,177.6 534.7,178.6 536.2,179.2 537.7,180.4 539.2,181.5 540.6,183.7 542.1,186.3 543.6,187.6 545.1,189.1 546.6,191 548.1,192.4 549.6,193.6 551.1,195 552.6,195.9 554.1,198.1 555.6,198.9 557.1,200.6 558.6,201.8 560.1,202.9 561.5,205.4 563,206 564.5,208.1 566,209.3 567.5,210.3 569,211.5 570.5,214 572,215.1 573.5,215.8 575,217.4 576.5,218.8 578,220 579.5,220.4 580.9,222.3 582.4,224 583.9,225.5 585.4,226.5 586.9,227.3 588.4,228 589.9,229 591.4,230.9 592.9,232.2 594.4,232.2 595.9,232.6 597.4,234.3 598.9,234.4 600.4,236.5 601.8,235.6 603.3,236.4 604.8,238.3 606.3,238.5 607.8,239.2 609.3,240.1 610.8,240.9 612.3,241.5 613.8,242 615.3,243 616.8,243.6 618.3,243.6 619.8,243.9 621.2,245.2 622.7,245.7 624.2,245.1 625.7,245.5 627.2,245.4 628.7,247.1 630.2,248 631.7,249.2 633.2,249.9 634.7,249.6 636.2,250 637.7,250.3 639.2,250.5 640.6,250.5 642.1,250.1 643.6,250.2 645.1,251.5 646.6,250.7 648.1,251.3 649.6,252 651.1,252.1 652.6,252.4 654.1,253.1 655.6,252.1 657.1,252.8 658.6,253.1 660,252.6 661.5,251.8 663,252 664.5,252.8 666,252.5 667.5,252.1 669,252.2 670.5,252.1 672,252.7 673.5,252.7 675,253.1 676.5,253.1 678,253.1 679.5,253.1 680.9,252.2 682.4,253.1 683.9,253.1 685.4,253.1 686.9,253.1 688.4,252.4 689.9,252.9 691.4,253.1 692.9,252.3 694.4,252.3 695.9,252.3 697.4,252.1 698.9,252.8 700.3,252.6 701.8,253 703.3,253.1 704.8,252.9 706.3,252.6 707.8,253.1 709.3,253.1 710.8,252.7 712.3,252.6 713.8,252.3 715.3,252.7 716.8,253.1 718.3,252.5 719.8,252.3 721.2,253.1 722.7,252.9 724.2,253.1 725.7,252.6 727.2,251.9"/>
<path d="M451.1,223.1 452.6,221.9 454.1,219.8 455.6,218 457.1,215.8 458.6,214.7 460.1,212.3 461.5,209.7 463,207.5 464.5,205.4 466,203.1 467.5,201.9 469,199.3 470.5,197.5 472,196.3 473.5,194.4 475,192.2 476.5,190.2 478,187.8 479.5,186.4 481,185.3 482.4,182.6 483.9,181.8 485.4,181 486.9,179 488.4,178.2 489.9,177.4 491.4,176.7 492.9,174.7 494.4,174.5 495.9,173.5 497.4,173 498.9,172.3 500.4,172.2 501.8,171.4 503.3,170.8 504.8,170.2 506.3,170.6 507.8,171.3 509.3,172 510.8,171.7 512.3,173.1 513.8,172.1 515.3,172.5 516.8,173 518.3,174.4 519.8,175.1 521.2,175.9 522.7,176.1 524.2,177.2 525.7,177.8 527.2,178.7 528.7,180.9 530.2,181.7 531.7,182 533.2,183.6 534.7,184.8 536.2,186.1 537.7,188 539.2,187.9 540.6,189.7 542.1,190.9 543.6,192.7 545.1,193.4 546.6,194.6 548.1,195.9 549.6,197.3 551.1,198.9 552.6,200 554.1,201.8 555.6,203.5 557.1,204.7 558.6,206.8 560.1,209.4 561.5,209.7 563,210.8 564.5,212.4 566,213.7 567.5,215.3 569,216.7 570.5,217.4 572,218.5 573.5,219.2 575,220.6 576.5,221.5 578,222.5 579.5,224.3 580.9,226.2 582.4,227.1 583.9,227.9 585.4,228.9 586.9,228.5 588.4,230.3 589.9,231 591.4,232.5 592.9,232.9 594.4,234.5 595.9,234.6 597.4,235.4 598.9,236.5 600.4,237.8 601.8,237.4 603.3,238.7 604.8,238.7 606.3,240.9 607.8,241.7 609.3,240.9 610.8,240.9 612.3,242 613.8,242.3 615.3,243 616.8,244 618.3,244.6 619.8,245.7 621.2,246.6 622.7,246.6 624.2,246.4 625.7,246.9 627.2,248 628.7,247.7 630.2,248.1 631.7,248.2 633.2,248.9 634.7,249.4 636.2,249.1 637.7,249 639.2,250.4 640.6,251.1 642.1,250.6 643.6,250.8 645.1,251.2 646.6,252 648.1,251.5 649.6,251.8 651.1,252 652.6,252.1 654.1,252.8 655.6,252.5 657.1,252.6 658.6,252.3 660,252.3 661.5,253.1 663,253.1 664.5,253.1 666,252.3 667.5,252.8 669,252.2 670.5,251.9 672,251.9 673.5,251.1 675,251.9 676.5,252.1 678,251.8 679.5,252 680.9,251.9 682.4,252.4 683.9,251.8 685.4,252.1 686.9,253.1 688.4,252.5 689.9,252.7 691.4,253.1 692.9,253.1 694.4,253 695.9,252.3 697.4,252.3 698.9,252.5 700.3,252.6 701.8,253 703.3,253 704.8,252.7 706.3,252.2 707.8,252.2 709.3,251.5 710.8,250.4 712.3,250.1 713.8,250.4 715.3,250.7 716.8,251.4 718.3,252.5 719.8,252.1 721.2,251.3 722.7,251.7 724.2,251.9 725.7,251.1 727.2,252.5"/>
<path d="M451.1,225 452.6,223.8 454.1,222.3 455.6,221.4 457.1,219.3 458.6,217 460.1,215.9 461.5,213.6 463,211.6 464.5,209.9 466,207.3 467.5,204.4 469,202.7 470.5,200.6 472,198.7 473.5,197.3 475,195.3 476.5,193.1 478,192.1 479.5,190.6 481,189.7 482.4,188.8 483.9,187.1 485.4,184.7 486.9,183.2 488.4,182 489.9,180.3 491.4,180.5 492.9,178.7 494.4,178 495.9,177 497.4,176 498.9,176.3 500.4,176.4 501.8,175.6 503.3,175.4 504.8,175.6 506.3,175.5 507.8,175.8 509.3,175.6 510.8,176 512.3,175.4 513.8,176.6 515.3,176.8 516.8,177.4 518.3,177.3 519.8,179 521.2,179.9 522.7,179.8 524.2,181.4 525.7,182.5 527.2,183.6 528.7,185 530.2,185.1 531.7,185.7 533.2,187.3 534.7,189.1 536.2,190.9 537.7,191.4 539.2,192.9 540.6,193.7 542.1,196.3 543.6,197.2 545.1,197.9 546.6,198.9 548.1,201.8 549.6,202.3 551.1,203.3 552.6,204.5 554.1,206 555.6,207.4 557.1,208.5 558.6,209.5 560.1,212.5 561.5,213 563,213.4 564.5,214.8 566,215.4 567.5,217.4 569,217.5 570.5,218.7 572,220.5 573.5,220.4 575,221.5 576.5,222.6 578,225 579.5,226.2 580.9,227 582.4,227.6 583.9,228.9 585.4,230.6 586.9,230.7 588.4,231.9 589.9,232.6 591.4,233.8 592.9,234.7 594.4,236.1 595.9,236.2 597.4,237.3 598.9,238.8 600.4,238.8 601.8,239.3 603.3,239.4 604.8,239.9 606.3,241.4 607.8,242 609.3,242.5 610.8,242.9 612.3,244 613.8,244.2 615.3,244.2 616.8,244.2 618.3,244.4 619.8,245 621.2,247.2 622.7,247.4 624.2,247.8 625.7,249.4 627.2,248.2 628.7,248 630.2,248.6 631.7,248.9 633.2,249.1 634.7,249.7 636.2,249.4 637.7,249.1 639.2,249.6 640.6,250.7 642.1,251 643.6,250.8 645.1,251 646.6,251.9 648.1,251.7 649.6,251.8 651.1,252 652.6,252.6 654.1,252.7 655.6,253.1 657.1,253.1 658.6,253.1 660,253.1 661.5,253 663,253 664.5,252.8 666,252.7 667.5,253 669,252.9 670.5,252.9 672,252.5 673.5,252.4 675,252.7 676.5,253.1 678,253.1 679.5,253.1 680.9,253.1 682.4,253.1 683.9,252.2 685.4,252.5 686.9,252.8 688.4,252.8 689.9,253 691.4,253.1 692.9,252.9 694.4,253.1 695.9,253 697.4,252.9 698.9,253.1 700.3,252.5 701.8,252.4 703.3,252 704.8,252.7 706.3,253.1 707.8,253.1 709.3,253.1 710.8,253.1 712.3,252.7 713.8,252.9 715.3,252.7 716.8,253 718.3,252.9 719.8,252 721.2,253.1 722.7,253.1 724.2,253 725.7,253.1 727.2,252.7"/>
<path d="M451.1,227 452.6,225.4 454.1,224 455.6,222.9 457.1,220.9 458.6,219.9 460.1,218.7 461.5,216.7 463,214.7 464.5,212.1 466,210.9 467.5,208.3 469,207.1 470.5,205.8 472,204.5 473.5,202.2 475,200.8 476.5,198.5 478,196.7 479.5,195.2 481,194.5 482.4,192.8 483.9,190.8 485.4,190.3 486.9,188.2 488.4,187 489.9,186.2 491.4,185 492.9,183.7 494.4,183.1 495.9,182.9 497.4,181.8 498.9,181.7 500.4,181.1 501.8,180.3 503.3,179.7 504.8,179.3 506.3,179.4 507.8,180 509.3,180.6 510.8,180.9 512.3,181.1 513.8,180.2 515.3,181.2 516.8,182.7 518.3,182.6 519.8,184.5 521.2,184.6 522.7,186.2 524.2,187.3 525.7,188.1 527.2,188.9 528.7,190.3 530.2,190.5 531.7,191.6 533.2,191.9 534.7,193.8 536.2,195.8 537.7,196.1 539.2,197.3 540.6,197.9 542.1,200.5 543.6,201.9 545.1,202.5 546.6,202.5 548.1,204.7 549.6,206.8 551.1,207.7 552.6,207.9 554.1,208.5 555.6,210.9 557.1,212.3 558.6,214.2 560.1,215.3 561.5,216.5 563,217 564.5,217.4 566,217.6 567.5,219.6 569,220.6 570.5,221.9 572,223.2 573.5,223.4 575,224.6 576.5,225.3 578,226.8 579.5,227.7 580.9,228.8 582.4,230.1 583.9,231.5 585.4,232.5 586.9,233.2 588.4,234.2 589.9,235.1 591.4,236 592.9,236.1 594.4,237.1 595.9,237.9 597.4,238.7 598.9,238.6 600.4,239.9 601.8,239.8 603.3,241.2 604.8,241 606.3,241.7 607.8,242.8 609.3,243.2 610.8,243.3 612.3,244.7 613.8,245.2 615.3,245.4 616.8,246 618.3,246.6 619.8,246.9 621.2,247.2 622.7,247.2 624.2,247.1 625.7,248.1 627.2,247.2 628.7,248.5 630.2,248.3 631.7,249.2 633.2,250.5 634.7,250.8 636.2,251 637.7,250.6 639.2,252 640.6,252.2 642.1,252.1 643.6,251.8 645.1,251.9 646.6,251.8 648.1,252.3 649.6,252.7 651.1,252.1 652.6,251.5 654.1,251.9 655.6,252.2 657.1,252.9 658.6,251.7 660,252 661.5,252 663,253.1 664.5,252.6 666,251.5 667.5,252.2 669,252.5 670.5,251.8 672,252.4 673.5,252.1 675,251.4 676.5,252.7 678,253.1 679.5,252.6 680.9,252.6 682.4,252.6 683.9,252.7 685.4,252.7 686.9,252.5 688.4,252.8 689.9,252.9 691.4,252.7 692.9,253.1 694.4,252.7 695.9,253.1 697.4,252.9 698.9,252.9 700.3,253.1 701.8,252.4 703.3,253.1 704.8,251.9 706.3,252.7 707.8,252.1 709.3,252.4 710.8,251.8 712.3,252.3 713.8,252 715.3,252.5 716.8,253.1 718.3,252.9 719.8,252.6 721.2,252.4 722.7,251.7 724.2,252.6 725.7,253.1 727.2,252.9"/>
<path d="M451.1,230.3 452.6,228.9 454.1,227.4 455.6,226.4 457.1,224.1 458.6,222.8 460.1,220.3 461.5,219 463,217.1 464.5,216 466,214.8 467.5,213.3 469,211.9 470.5,209.8 472,208 473.5,207 475,206 476.5,204.4 478,203.4 479.5,201.7 481,200.6 482.4,198.3 483.9,197.5 485.4,196.3 486.9,194.9 488.4,193.7 489.9,192.5 491.4,191.3 492.9,190.5 494.4,190.2 495.9,189.1 497.4,188.7 498.9,188.9 500.4,187.8 501.8,188.5 503.3,188 504.8,187.4 506.3,187.7 507.8,187.8 509.3,188.1 510.8,188.2 512.3,188.6 513.8,189.2 515.3,189.4 516.8,191 518.3,191.1 519.8,191.8 521.2,191.4 522.7,192.4 524.2,193.8 525.7,194.2 527.2,195.4 528.7,196.9 530.2,197.7 531.7,198.1 533.2,198.6 534.7,199.3 536.2,200.7 537.7,202.1 539.2,203.1 540.6,203.7 542.1,205.2 543.6,205.9 545.1,207.8 546.6,208.9 548.1,209.6 549.6,210.6 551.1,211.9 552.6,213.4 554.1,215.4 555.6,216.3 557.1,217.4 558.6,218.4 560.1,218.4 561.5,220.1 563,220.6 564.5,221.9 566,223.5 567.5,224.3 569,224.8 570.5,226.5 572,227.8 573.5,228.6 575,228.9 576.5,230.1 578,230.7 579.5,231.3 580.9,232.3 582.4,233 583.9,233.3 585.4,234.6 586.9,235.4 588.4,236.8 589.9,237.7 591.4,238.2 592.9,238.3 594.4,239.5 595.9,240.7 597.4,240.5 598.9,240 600.4,242.4 601.8,243.2 603.3,243.3 604.8,243.4 606.3,244.4 607.8,244.5 609.3,244.5 610.8,245.3 612.3,245.5 613.8,246.1 615.3,247.1 616.8,247.7 618.3,248.1 619.8,247.6 621.2,247.6 622.7,248.2 624.2,249.6 625.7,249.9 627.2,250.1 628.7,251.2 630.2,250.9 631.7,250.7 633.2,251.6 634.7,251.7 636.2,251.9 637.7,250.9 639.2,251.2 640.6,251.3 642.1,251.9 643.6,252.9 645.1,252.4 646.6,252.9 648.1,253.1 649.6,252.9 651.1,253 652.6,252.8 654.1,252.5 655.6,252.7 657.1,252.5 658.6,252 660,252.5 661.5,252.8 663,252.7 664.5,252.4 666,252.7 667.5,252.7 669,253 670.5,252.9 672,252.5 673.5,253 675,252.9 676.5,253.1 678,253.1 679.5,253 680.9,252.6 682.4,253.1 683.9,253 685.4,253.1 686.9,252.8 688.4,252.6 689.9,252.4 691.4,252.7 692.9,253.1 694.4,253.1 695.9,253.1 697.4,253.1 698.9,253.1 700.3,252.4 701.8,252.9 703.3,253.1 704.8,252.8 706.3,253.1 707.8,252.3 709.3,253.1 710.8,252.5 712.3,252.1 713.8,251.9 715.3,252.4 716.8,252.2 718.3,252.6 719.8,252.2 721.2,252.8 722.7,253.1 724.2,252.7 725.7,252.9 727.2,252.5"/>
<path d="M451.1,232.7 452.6,231.1 454.1,230.3 455.6,228.7 457.1,226.1 458.6,225.6 460.1,224.6 461.5,223.5 463,221.3 464.5,218.5 466,217.3 467.5,215.1 469,213.7 470.5,212.4 472,209.7 473.5,207.9 475,207.7 476.5,206.4 478,204.4 479.5,202.5 481,201.3 482.4,199.9 483.9,198.4 485.4,197.5 486.9,195.9 488.4,195.5 489.9,194.1 491.4,192.9 492.9,192.3 494.4,192 495.9,191.4 497.4,192 498.9,190.9 500.4,191 501.8,191.4 503.3,190.1 504.8,190.4 506.3,189.9 507.8,189.9 509.3,191 510.8,191.3 512.3,191.3 513.8,191.2 515.3,191.6 516.8,192.7 518.3,193.2 519.8,193.5 521.2,194.7 522.7,195.3 524.2,196 525.7,197.6 527.2,197 528.7,197.5 530.2,198.9 531.7,199.4 533.2,201.1 534.7,201.2 536.2,202.7 537.7,203.8 539.2,205.2 540.6,206.1 542.1,207 543.6,208.1 545.1,209.6 546.6,210.2 548.1,211.1 549.6,212.4 551.1,213.1 552.6,214.8 554.1,215.2 555.6,216.7 557.1,217.2 558.6,218.9 560.1,220.1 561.5,221.1 563,221.6 564.5,222.2 566,223.9 567.5,225.4 569,225.9 570.5,226.4 572,227.4 573.5,228.8 575,229.2 576.5,230.4 578,231.4 579.5,232.1 580.9,233.4 582.4,235.3 583.9,235.4 585.4,235.6 586.9,236.2 588.4,236.8 589.9,237.6 591.4,237.9 592.9,238.9 594.4,239 595.9,240.1 597.4,240.5 598.9,241.7 600.4,242.2 601.8,242.6 603.3,243.2 604.8,243.1 606.3,244 607.8,244.2 609.3,244.9 610.8,245.1 612.3,246.4 613.8,247 615.3,246.8 616.8,247.8 618.3,247.9 619.8,248 621.2,248.4 622.7,248.7 624.2,248.9 625.7,249.6 627.2,249.7 628.7,250.4 630.2,250.8 631.7,251.7 633.2,251.6 634.7,252.4 636.2,252.1 637.7,252 639.2,252.7 640.6,252.5 642.1,252.4 643.6,252.8 645.1,253.1 646.6,253 648.1,252.7 649.6,252.2 651.1,251.5 652.6,253.1 654.1,252.7 655.6,252.5 657.1,252.9 658.6,252.6 660,251.6 661.5,252.1 663,251.7 664.5,251.7 666,252.4 667.5,253.1 669,252.6 670.5,251.9 672,253.1 673.5,253 675,253.1 676.5,252.9 678,252.7 679.5,252.2 680.9,252.7 682.4,251.8 683.9,253.1 685.4,252.8 686.9,251.4 688.4,252.1 689.9,252.1 691.4,252.6 692.9,251 694.4,251.4 695.9,252.2 697.4,253.1 698.9,252.9 700.3,252.5 701.8,253.1 703.3,253.1 704.8,252.8 706.3,253.1 707.8,253.1 709.3,253.1 710.8,253.1 712.3,253.1 713.8,252.3 715.3,252 716.8,252.7 718.3,252.4 719.8,253.1 721.2,253.1 722.7,253 724.2,253 725.7,253.1 727.2,253.1"/>
<path d="M451.1,234.7 452.6,232.5 454.1,232.8 455.6,231.9 457.1,229.7 458.6,229.3 460.1,227.8 461.5,225.9 463,223.7 464.5,222.3 466,219.9 467.5,218.9 469,217.6 470.5,215.9 472,214.4 473.5,213.7 475,212.5 476.5,210.7 478,208.9 479.5,208.1 481,206.9 482.4,205.6 483.9,203.9 485.4,202.9 486.9,201.4 488.4,200.4 489.9,200.1 491.4,199.2 492.9,199 494.4,197.9 495.9,196.8 497.4,196.9 498.9,197.2 500.4,196.2 501.8,196 503.3,195.8 504.8,195.4 506.3,195.4 507.8,195.2 509.3,195.9 510.8,197.3 512.3,197.3 513.8,197.5 515.3,197.9 516.8,197.9 518.3,198.6 519.8,198.4 521.2,199.7 522.7,200.3 524.2,201.2 525.7,200.8 527.2,202.6 528.7,203.9 530.2,204.7 531.7,204.9 533.2,205.9 534.7,207 536.2,208.6 537.7,210.2 539.2,210.6 540.6,211.3 542.1,211.1 543.6,212.2 545.1,213.3 546.6,214 548.1,215.8 549.6,217.4 551.1,218.2 552.6,218.2 554.1,219 555.6,220.6 557.1,222.3 558.6,222.5 560.1,223 561.5,224.8 563,224.9 564.5,226.5 566,227 567.5,228.2 569,229.3 570.5,230.4 572,230.7 573.5,231.3 575,231.9 576.5,233.2 578,234.5 579.5,234 580.9,234.3 582.4,235.8 583.9,237.4 585.4,237.2 586.9,238.1 588.4,238.9 589.9,239.2 591.4,240 592.9,240.7 594.4,240.5 595.9,242.5 597.4,242.6 598.9,243.7 600.4,244 601.8,244.5 603.3,244.7 604.8,246.4 606.3,245.9 607.8,245.1 609.3,246.3 610.8,246.4 612.3,246.8 613.8,247.3 615.3,248.2 616.8,248.2 618.3,248.6 619.8,248.3 621.2,248.7 622.7,249.8 624.2,251.5 625.7,250.4 627.2,250.4 628.7,250.7 630.2,251.4 631.7,250.3 633.2,250.4 634.7,251.2 636.2,252 637.7,252 639.2,251.7 640.6,252 642.1,251.9 643.6,252.2 645.1,252.3 646.6,253.1 648.1,252.8 649.6,252.7 651.1,252.8 652.6,252.8 654.1,252.6 655.6,252.9 657.1,252.9 658.6,253.1 660,251.9 661.5,252.8 663,253.1 664.5,253.1 666,253.1 667.5,253.1 669,253.1 670.5,252.7 672,252.2 673.5,252.6 675,252.4 676.5,253.1 678,253.1 679.5,253 680.9,252.6 682.4,253 683.9,252.8 685.4,253.1 686.9,253.1 688.4,252.6 689.9,252.6 691.4,252.5 692.9,252.3 694.4,253.1 695.9,253.1 697.4,253.1 698.9,253.1 700.3,253.1 701.8,253.1 703.3,252.9 704.8,252.9 706.3,252.3 707.8,251.5 709.3,252.9 710.8,253.1 712.3,252.5 713.8,251.9 715.3,252.1 716.8,252.2 718.3,252.1 719.8,252.1 721.2,253 722.7,252.5 724.2,252.1 725.7,252.6 727.2,253.1"/>
</g>
<g fill="none" stroke="#5a5a5a" stroke-width="1.45" stroke-linejoin="round">
<path d="M451.1,29.8H749.6V252.7H451.1Z"/>
<path d="M451.1,252.7h-5M451.1,224.8h-3M451.1,197h-5M451.1,169.1h-3M451.1,141.2h-5M451.1,113.4h-3M451.1,85.5h-5M451.1,57.7h-3M451.1,29.8h-5M451.1,252.7v4.5M488.4,252.7v2.5M525.7,252.7v4.5M563,252.7v2.5M600.4,252.7v4.5M637.7,252.7v2.5M675,252.7v4.5M712.3,252.7v2.5M749.6,252.7v4.5"/>
</g>
<g font-family="Liberation Serif" font-weight="bold" font-size="12" fill="#222">
<text x="438.2" y="255.7" text-anchor="end">0</text>
<text x="438.2" y="200" text-anchor="end" textLength="17.1" lengthAdjust="spacingAndGlyphs">200</text>
<text x="438.2" y="144.2" text-anchor="end" textLength="17.1" lengthAdjust="spacingAndGlyphs">400</text>
<text x="438.2" y="88.5" text-anchor="end" textLength="17.1" lengthAdjust="spacingAndGlyphs">600</text>
<text x="438.2" y="32.8" text-anchor="end" textLength="17.1" lengthAdjust="spacingAndGlyphs">800</text>
<text x="450" y="273" text-anchor="middle" textLength="17.1" lengthAdjust="spacingAndGlyphs">300</text>
<text x="524.6" y="273" text-anchor="middle" textLength="17.1" lengthAdjust="spacingAndGlyphs">350</text>
<text x="599.2" y="273" text-anchor="middle" textLength="17.1" lengthAdjust="spacingAndGlyphs">400</text>
<text x="673.9" y="273" text-anchor="middle" textLength="17.1" lengthAdjust="spacingAndGlyphs">450</text>
<text x="748.5" y="273" text-anchor="middle" textLength="17.1" lengthAdjust="spacingAndGlyphs">500</text>
<text x="598.8" y="296.6" text-anchor="middle" font-size="13" letter-spacing="0.52">Wavelength(nm)</text>
<text transform="translate(403.9,141.3) rotate(-90)" text-anchor="middle" font-size="13.6">Fluorescence Intensity</text>
</g>
<text x="459.7" y="47.4" font-family="Liberation Sans" font-size="18" fill="#000">a</text>
<g font-family="Liberation Serif" font-weight="bold" font-size="11.5" fill="#111" text-anchor="middle">
<text x="673" y="113.8">1</text>
<text x="673" y="168.4">13</text>
</g>
<path d="M673,116.1V154.2" stroke="#111" stroke-width="1.3"/>
<path d="M670.8,152.2h4.4l-2.2,6z" fill="#111"/>
<g fill="none" stroke="#383838" stroke-width="1.3" stroke-linejoin="round">
<path d="M451.9,516.5 453.4,513.8 454.9,510.3 456.4,506.8 457.9,503.6 459.4,500.3 460.9,497.3 462.3,493.1 463.8,489 465.3,484.4 466.8,479.1 468.3,473.9 469.8,466.9 471.3,462.6 472.8,457.2 474.3,451.7 475.8,445.5 477.3,439.3 478.8,432.5 480.3,427.5 481.8,420.6 483.2,414.4 484.7,409 486.2,403.7 487.7,397.9 489.2,392.2 490.7,387.3 492.2,382.6 493.7,378 495.2,374.2 496.7,369.8 498.2,365.8 499.7,362.6 501.2,360.2 502.6,357.3 504.1,355 505.6,352.9 507.1,351.6 508.6,350 510.1,348.9 511.6,348.5 513.1,348.7 514.6,348.6 516.1,349.6 517.6,350.7 519.1,352.4 520.6,353.3 522,354 523.5,356.3 525,357.6 526.5,360.3 528,362.1 529.5,363.4 531,366.3 532.5,369.7 534,372.1 535.5,375 537,377.6 538.5,381 540,385 541.4,388 542.9,390.7 544.4,393.5 545.9,397 547.4,400.7 548.9,403.9 550.4,407.8 551.9,411.6 553.4,415 554.9,418.1 556.4,422.2 557.9,425.5 559.4,429.5 560.9,433.3 562.3,436.5 563.8,440.6 565.3,444.2 566.8,447.8 568.3,451 569.8,454.4 571.3,456.2 572.8,459.5 574.3,463 575.8,467 577.3,471 578.8,473.1 580.3,476.2 581.7,478.3 583.2,481.5 584.7,484.9 586.2,487.6 587.7,490.7 589.2,493.5 590.7,495 592.2,497.6 593.7,499.5 595.2,502.2 596.7,504.5 598.2,506.8 599.7,509.1 601.1,511.3 602.6,512.3 604.1,514.5 605.6,517.4 607.1,518 608.6,519.4 610.1,520.9 611.6,523.1 613.1,525 614.6,526.9 616.1,528.2 617.6,529.4 619.1,530.9 620.6,532.7 622,534.3 623.5,534.4 625,535 626.5,537.3 628,538.7 629.5,539.6 631,540.3 632.5,541.4 634,542.2 635.5,543 637,543.5 638.5,545.3 640,545.4 641.4,546.1 642.9,546.8 644.4,548.5 645.9,549 647.4,549.6 648.9,549.8 650.4,550.1 651.9,550.6 653.4,552 654.9,551.7 656.4,552.4 657.9,552.6 659.4,553.3 660.8,554.2 662.3,553.2 663.8,553.9 665.3,554.4 666.8,555.4 668.3,555.9 669.8,555.7 671.3,556.1 672.8,555.8 674.3,556 675.8,557.4 677.3,558.4 678.8,557.7 680.3,557.8 681.7,558.3 683.2,558.7 684.7,558.9 686.2,557.9 687.7,558.3 689.2,559 690.7,558.4 692.2,558.6 693.7,558.4 695.2,558.7 696.7,558.7 698.2,559 699.7,558.8 701.1,559 702.6,559 704.1,558.7 705.6,558 707.1,559 708.6,559 710.1,558.6 711.6,558.1 713.1,558.8 714.6,558.5 716.1,558.4 717.6,558 719.1,558.6"/>
<path d="M451.9,518.2 453.4,515.8 454.9,512.4 456.4,509.1 457.9,506.6 459.4,503.5 460.9,500 462.3,496.9 463.8,493 465.3,488.4 466.8,484 468.3,480.1 469.8,475.7 471.3,470.7 472.8,466.2 474.3,460.6 475.8,455.3 477.3,450.9 478.8,445.6 480.3,440.7 481.8,435.6 483.2,431.1 484.7,425.3 486.2,421.4 487.7,416.5 489.2,412.2 490.7,407.5 492.2,404.1 493.7,400.6 495.2,397.3 496.7,395.1 498.2,390.6 499.7,388.4 501.2,386.4 502.6,384.9 504.1,382.9 505.6,380.5 507.1,380 508.6,378.8 510.1,377.8 511.6,377.4 513.1,378 514.6,379.2 516.1,379.1 517.6,379.4 519.1,380.5 520.6,381.7 522,382 523.5,384.5 525,386.2 526.5,387.9 528,390.3 529.5,392.2 531,394.3 532.5,395.5 534,398.9 535.5,401.6 537,403.5 538.5,406.7 540,410 541.4,412.3 542.9,415.3 544.4,418.1 545.9,420.6 547.4,423.1 548.9,426.4 550.4,429.4 551.9,432 553.4,435.2 554.9,438 556.4,441.5 557.9,444.4 559.4,446.9 560.9,451 562.3,452.5 563.8,456.3 565.3,459.7 566.8,462.8 568.3,465.5 569.8,469.1 571.3,471.7 572.8,474.7 574.3,476.6 575.8,480.4 577.3,482.5 578.8,485.3 580.3,488.1 581.7,490.3 583.2,492.8 584.7,495.2 586.2,497.4 587.7,499.1 589.2,501.9 590.7,503.3 592.2,507.1 593.7,507.9 595.2,509.6 596.7,511.2 598.2,513.6 599.7,515.7 601.1,518.2 602.6,519.1 604.1,521.6 605.6,523.5 607.1,524.8 608.6,526.1 610.1,527.4 611.6,529.5 613.1,530.8 614.6,531.7 616.1,532.4 617.6,533.6 619.1,534.9 620.6,536.5 622,537.9 623.5,539.2 625,540 626.5,540.7 628,541.9 629.5,541.8 631,543.6 632.5,544 634,545.1 635.5,546 637,546.9 638.5,546.8 640,548 641.4,548.5 642.9,549.2 644.4,549.6 645.9,550.1 647.4,550.1 648.9,551.5 650.4,552.6 651.9,552.1 653.4,552.3 654.9,553.1 656.4,554 657.9,554.3 659.4,554.2 660.8,555.2 662.3,554.9 663.8,555.6 665.3,556.3 666.8,556.8 668.3,558 669.8,557.6 671.3,558.3 672.8,558.4 674.3,558.7 675.8,558.5 677.3,558.2 678.8,558.5 680.3,558.4 681.7,558.3 683.2,557.7 684.7,557.9 686.2,557.5 687.7,558 689.2,558.2 690.7,558.7 692.2,558.4 693.7,558.9 695.2,558.5 696.7,558.8 698.2,558.9 699.7,558.2 701.1,558.3 702.6,558.1 704.1,558.5 705.6,559 707.1,558.3 708.6,558.5 710.1,558.9 711.6,558.3 713.1,559 714.6,559 716.1,558.3 717.6,558.8 719.1,558.1"/>
<path d="M451.9,520.1 453.4,517.8 454.9,515.1 456.4,512.8 457.9,509.3 459.4,506.1 460.9,503.4 462.3,500.1 463.8,496.7 465.3,492.5 466.8,490.1 468.3,485.6 469.8,481.3 471.3,477.6 472.8,473.5 474.3,469.6 475.8,464.8 477.3,461.5 478.8,456.9 480.3,452.4 481.8,448.5 483.2,445.2 484.7,441.7 486.2,439 487.7,435.4 489.2,430.9 490.7,428.2 492.2,425.8 493.7,422.5 495.2,420.3 496.7,417 498.2,415.1 499.7,412.3 501.2,410.6 502.6,409.7 504.1,408.4 505.6,407.2 507.1,406.4 508.6,404.8 510.1,404.9 511.6,404.4 513.1,404.7 514.6,404.4 516.1,405.6 517.6,406.6 519.1,406.6 520.6,406.7 522,408.7 523.5,409.9 525,411.3 526.5,413 528,413.8 529.5,415.6 531,418.2 532.5,419.9 534,421.1 535.5,423.8 537,426.2 538.5,428.7 540,430.7 541.4,433.3 542.9,435.1 544.4,438.1 545.9,441.3 547.4,443.2 548.9,447.3 550.4,449.5 551.9,451.4 553.4,453.6 554.9,456.5 556.4,459.2 557.9,461.4 559.4,462.3 560.9,466.3 562.3,469.2 563.8,472.1 565.3,474.4 566.8,477 568.3,479.3 569.8,481.2 571.3,484.2 572.8,487 574.3,489.2 575.8,490.6 577.3,493.6 578.8,495.2 580.3,497.4 581.7,501.5 583.2,503.7 584.7,505.8 586.2,507.1 587.7,508.3 589.2,510.5 590.7,512.4 592.2,513.3 593.7,515.5 595.2,516.6 596.7,519.4 598.2,520.4 599.7,522.7 601.1,525.5 602.6,526.9 604.1,528.1 605.6,529.1 607.1,529.9 608.6,531 610.1,532.2 611.6,534.1 613.1,534.3 614.6,535.3 616.1,536.8 617.6,538.5 619.1,539.5 620.6,540.6 622,541.8 623.5,542.5 625,543.6 626.5,543.9 628,545.1 629.5,545.5 631,546.2 632.5,546.9 634,547.5 635.5,548.8 637,548.1 638.5,549.6 640,549.9 641.4,550.7 642.9,551.5 644.4,551.1 645.9,551.5 647.4,552.6 648.9,552.9 650.4,553.2 651.9,553.2 653.4,553.6 654.9,554.6 656.4,555.3 657.9,556.2 659.4,556.2 660.8,556 662.3,556.7 663.8,556.7 665.3,557 666.8,557.6 668.3,558.4 669.8,557.8 671.3,556.9 672.8,557.5 674.3,558.7 675.8,559 677.3,558.7 678.8,558.4 680.3,557.7 681.7,559 683.2,558 684.7,558.2 686.2,558.4 687.7,558.3 689.2,558.6 690.7,558.7 692.2,558.1 693.7,559 695.2,559 696.7,558.5 698.2,559 699.7,559 701.1,558.1 702.6,558.2 704.1,558 705.6,558 707.1,558.2 708.6,558.2 710.1,558.8 711.6,558.8 713.1,557.8 714.6,558.8 716.1,558.8 717.6,559 719.1,559"/>
<path d="M451.9,522.1 453.4,520.4 454.9,517.6 456.4,515.5 457.9,512.4 459.4,508.9 460.9,507.7 462.3,504.5 463.8,502.2 465.3,498.4 466.8,494.5 468.3,490.8 469.8,486.7 471.3,483.3 472.8,480.7 474.3,476.1 475.8,473.1 477.3,469.5 478.8,465.8 480.3,462.9 481.8,459.2 483.2,455.1 484.7,453.1 486.2,450.6 487.7,447.3 489.2,444.2 490.7,441.9 492.2,440.1 493.7,436.5 495.2,433.9 496.7,432.5 498.2,430 499.7,428.3 501.2,426.7 502.6,426.1 504.1,424.7 505.6,423.4 507.1,423.5 508.6,423 510.1,421.7 511.6,420.6 513.1,420.8 514.6,421.4 516.1,422.5 517.6,423.1 519.1,423.7 520.6,424.2 522,425.3 523.5,425.1 525,426.3 526.5,429.3 528,431.1 529.5,432.2 531,433.2 532.5,434.9 534,438.2 535.5,440.3 537,440.9 538.5,442.7 540,443.6 541.4,446.1 542.9,448.6 544.4,450.5 545.9,453.5 547.4,456.3 548.9,459.1 550.4,461 551.9,463.1 553.4,465.1 554.9,467 556.4,469.5 557.9,471.7 559.4,474.7 560.9,477.7 562.3,479.5 563.8,481.4 565.3,483.4 566.8,486.2 568.3,488.9 569.8,491.3 571.3,493.2 572.8,495.4 574.3,497.6 575.8,499.5 577.3,501.8 578.8,503.6 580.3,505.9 581.7,508.5 583.2,510.1 584.7,510.7 586.2,513.2 587.7,514.4 589.2,515.7 590.7,518.1 592.2,519.7 593.7,522.5 595.2,523.3 596.7,523.9 598.2,525.5 599.7,528.2 601.1,529.4 602.6,530.8 604.1,531.6 605.6,532.6 607.1,534 608.6,535.2 610.1,536.6 611.6,537.2 613.1,538.1 614.6,539 616.1,540.3 617.6,541 619.1,542.1 620.6,542.8 622,543.8 623.5,545 625,546.1 626.5,547.4 628,548.2 629.5,548 631,546.9 632.5,549 634,550 635.5,550.3 637,549.1 638.5,550.5 640,551.9 641.4,552.1 642.9,551.7 644.4,554.1 645.9,554.6 647.4,553.9 648.9,554.9 650.4,555.1 651.9,555.7 653.4,555.4 654.9,556.5 656.4,556.4 657.9,556.5 659.4,556.5 660.8,556.7 662.3,557.1 663.8,558.4 665.3,558.4 666.8,558.8 668.3,558.4 669.8,558.7 671.3,558.6 672.8,558.1 674.3,558.4 675.8,557.7 677.3,557.7 678.8,558.9 680.3,559 681.7,558.2 683.2,558.7 684.7,558.1 686.2,558.6 687.7,558.7 689.2,558.1 690.7,559 692.2,558.8 693.7,558.9 695.2,558.7 696.7,557.8 698.2,558 699.7,558.9 701.1,558.3 702.6,558.7 704.1,558.5 705.6,558 707.1,558.5 708.6,558.1 710.1,558.2 711.6,558.9 713.1,558.9 714.6,559 716.1,558.4 717.6,558.4 719.1,558"/>
<path d="M451.9,524.1 453.4,521.5 454.9,520 456.4,517.5 457.9,515.2 459.4,513 460.9,510.2 462.3,507.6 463.8,505.2 465.3,502.5 466.8,499.9 468.3,495.7 469.8,492.7 471.3,490 472.8,486.6 474.3,484.2 475.8,481.6 477.3,478.1 478.8,474.4 480.3,471.7 481.8,469.1 483.2,465.7 484.7,464.4 486.2,460.2 487.7,459.1 489.2,456.9 490.7,455.4 492.2,453.6 493.7,451.4 495.2,448 496.7,447.3 498.2,446.1 499.7,444.5 501.2,443.8 502.6,442.6 504.1,441.1 505.6,441.5 507.1,440.6 508.6,440 510.1,439.7 511.6,439.4 513.1,440.2 514.6,440.1 516.1,440.3 517.6,441 519.1,440.5 520.6,440.4 522,441.4 523.5,443.2 525,443.6 526.5,444.9 528,446.9 529.5,447.9 531,449.8 532.5,450.9 534,452.2 535.5,453.6 537,456.3 538.5,458 540,459.8 541.4,462.3 542.9,463.7 544.4,465.3 545.9,468.1 547.4,470.1 548.9,472.4 550.4,474.7 551.9,476.8 553.4,477.6 554.9,480.1 556.4,482.3 557.9,483.7 559.4,485.4 560.9,487.1 562.3,490.7 563.8,492.1 565.3,495 566.8,496.9 568.3,498.8 569.8,500.7 571.3,501.4 572.8,503.7 574.3,505.1 575.8,507.4 577.3,509.3 578.8,510.9 580.3,512.5 581.7,514.1 583.2,516.9 584.7,517.9 586.2,519.3 587.7,520.6 589.2,522.3 590.7,523.6 592.2,525.8 593.7,526.4 595.2,528.5 596.7,528.9 598.2,529.9 599.7,531.5 601.1,533.1 602.6,533.8 604.1,535.3 605.6,537 607.1,537.7 608.6,539.2 610.1,540.1 611.6,539.8 613.1,540.7 614.6,542.1 616.1,543.1 617.6,544.3 619.1,544.9 620.6,546.3 622,546.3 623.5,547 625,547.9 626.5,548.8 628,547.9 629.5,549.2 631,550.2 632.5,551 634,551.6 635.5,551.3 637,551.7 638.5,552.2 640,552.7 641.4,554 642.9,555.4 644.4,554.3 645.9,554.4 647.4,554.9 648.9,555.2 650.4,555.6 651.9,556.1 653.4,556.6 654.9,557.9 656.4,557.3 657.9,557.5 659.4,557.2 660.8,557.5 662.3,558 663.8,558 665.3,558.3 666.8,558.7 668.3,558.8 669.8,558.9 671.3,558.9 672.8,559 674.3,558.3 675.8,557 677.3,557.9 678.8,557.7 680.3,559 681.7,559 683.2,559 684.7,559 686.2,559 687.7,559 689.2,559 690.7,559 692.2,558.9 693.7,558.9 695.2,559 696.7,559 698.2,558.1 699.7,558.8 701.1,558.7 702.6,558.1 704.1,558.8 705.6,559 707.1,557.3 708.6,557.4 710.1,558.2 711.6,558.3 713.1,558.4 714.6,558.4 716.1,558.3 717.6,558.6 719.1,559"/>
<path d="M451.9,525.9 453.4,523.8 454.9,522.4 456.4,520.2 457.9,517.1 459.4,514.9 460.9,513.1 462.3,510.5 463.8,507.5 465.3,505.9 466.8,503.5 468.3,500.7 469.8,497.8 471.3,494.8 472.8,492.2 474.3,489.2 475.8,486.4 477.3,484.3 478.8,481.7 480.3,479.5 481.8,476.4 483.2,473.7 484.7,471 486.2,469.4 487.7,467.4 489.2,466.2 490.7,463.6 492.2,462.3 493.7,459.8 495.2,457.5 496.7,456 498.2,454.5 499.7,453.5 501.2,452.4 502.6,451.2 504.1,450.1 505.6,448.9 507.1,449.3 508.6,448.8 510.1,448.5 511.6,448.6 513.1,448.8 514.6,449.8 516.1,449.3 517.6,450.4 519.1,451.1 520.6,452 522,452.2 523.5,453.5 525,454 526.5,454.8 528,456.1 529.5,457.6 531,458.6 532.5,459.5 534,461.6 535.5,463.7 537,465.4 538.5,467.2 540,468.7 541.4,470.3 542.9,473 544.4,473.5 545.9,475.7 547.4,477.6 548.9,480.3 550.4,482.5 551.9,484.2 553.4,485.3 554.9,486.6 556.4,489.4 557.9,490.8 559.4,491.8 560.9,494.2 562.3,495.7 563.8,497.7 565.3,500.2 566.8,501.4 568.3,503.7 569.8,505.2 571.3,507.2 572.8,509 574.3,510.6 575.8,511.6 577.3,514.4 578.8,516.3 580.3,517.4 581.7,518.3 583.2,520.1 584.7,521.7 586.2,522.8 587.7,523.6 589.2,525.8 590.7,528 592.2,529 593.7,529.6 595.2,531.6 596.7,531.9 598.2,532.8 599.7,533.8 601.1,535.7 602.6,537.3 604.1,537.7 605.6,538.6 607.1,539.3 608.6,541.1 610.1,543.2 611.6,542.6 613.1,542.9 614.6,544 616.1,544.8 617.6,545.3 619.1,545.8 620.6,546.8 622,547.8 623.5,548.9 625,548.7 626.5,549.4 628,551.7 629.5,551.3 631,551.8 632.5,552.6 634,552.9 635.5,553.7 637,553.9 638.5,554.2 640,554.1 641.4,554.9 642.9,555.9 644.4,556 645.9,556.6 647.4,556 648.9,556.3 650.4,557.4 651.9,557.6 653.4,557.5 654.9,557.6 656.4,558.6 657.9,558.4 659.4,558.2 660.8,557.9 662.3,557.7 663.8,558.3 665.3,559 666.8,559 668.3,558.5 669.8,559 671.3,558.2 672.8,558.8 674.3,559 675.8,558.5 677.3,558.6 678.8,558.5 680.3,558.7 681.7,558.6 683.2,558.9 684.7,557.8 686.2,557.9 687.7,558.3 689.2,558.2 690.7,558 692.2,558.6 693.7,558.5 695.2,558.4 696.7,558.8 698.2,559 699.7,558.9 701.1,558.9 702.6,559 704.1,559 705.6,559 707.1,558.5 708.6,558.5 710.1,557.7 711.6,557.7 713.1,558.3 714.6,558.8 716.1,558.5 717.6,558.7 719.1,559"/>
<path d="M451.9,527.2 453.4,525.7 454.9,524 456.4,521.7 457.9,519.8 459.4,516.8 460.9,515.6 462.3,513.5 463.8,511 465.3,508.9 466.8,506.7 468.3,503.2 469.8,501.9 471.3,499.1 472.8,497.5 474.3,494.5 475.8,493 477.3,490.7 478.8,487.3 480.3,484.3 481.8,482.4 483.2,481.9 484.7,478.8 486.2,476.7 487.7,475.4 489.2,473.5 490.7,472.3 492.2,470.3 493.7,468.6 495.2,467 496.7,465.3 498.2,464.7 499.7,464.6 501.2,463.7 502.6,463 504.1,461.9 505.6,461.1 507.1,460.4 508.6,459.2 510.1,459.3 511.6,459.8 513.1,459.8 514.6,460.3 516.1,460.4 517.6,460.3 519.1,461.4 520.6,461.4 522,461.3 523.5,461.8 525,462.5 526.5,464.2 528,466.3 529.5,466.3 531,468 532.5,469.3 534,471 535.5,472.9 537,473.8 538.5,476 540,477.9 541.4,478.7 542.9,480.4 544.4,482.3 545.9,483.4 547.4,484.4 548.9,486.6 550.4,488.5 551.9,490 553.4,491.4 554.9,492.9 556.4,494.7 557.9,497.2 559.4,498.7 560.9,500.5 562.3,503.1 563.8,503.8 565.3,505.3 566.8,506.5 568.3,508.6 569.8,510.1 571.3,512 572.8,513.6 574.3,514.9 575.8,516.6 577.3,518 578.8,519.7 580.3,520.6 581.7,522.1 583.2,524.6 584.7,524.9 586.2,526.3 587.7,528.1 589.2,529.6 590.7,529.7 592.2,531.2 593.7,532.4 595.2,533.4 596.7,535.1 598.2,535.3 599.7,535.7 601.1,537.8 602.6,538.4 604.1,540.5 605.6,541.3 607.1,542 608.6,542.7 610.1,543.2 611.6,544 613.1,544.7 614.6,545.7 616.1,546.3 617.6,547.4 619.1,547 620.6,548 622,548.3 623.5,549.2 625,550.1 626.5,550.8 628,551.9 629.5,551.1 631,551.7 632.5,552.4 634,553.3 635.5,553 637,553.9 638.5,554.6 640,555.2 641.4,554.6 642.9,555.1 644.4,555.7 645.9,556.4 647.4,556 648.9,556.4 650.4,557 651.9,556.9 653.4,556.9 654.9,558 656.4,557.6 657.9,557.5 659.4,558.2 660.8,559 662.3,558.3 663.8,558.6 665.3,558.7 666.8,558.8 668.3,558.8 669.8,558.3 671.3,559 672.8,558.5 674.3,558 675.8,557.8 677.3,557.8 678.8,558.1 680.3,558.4 681.7,558.6 683.2,559 684.7,558 686.2,558.4 687.7,559 689.2,558.4 690.7,557.8 692.2,558 693.7,558.5 695.2,559 696.7,558.5 698.2,558.7 699.7,559 701.1,558.5 702.6,559 704.1,558.5 705.6,559 707.1,559 708.6,559 710.1,559 711.6,558.6 713.1,559 714.6,558.3 716.1,558.8 717.6,558.9 719.1,558.3"/>
<path d="M451.9,529.4 453.4,527 454.9,525.7 456.4,524.1 457.9,522.8 459.4,520.1 460.9,518.3 462.3,516.6 463.8,514.8 465.3,512.7 466.8,510.2 468.3,508.2 469.8,505.4 471.3,503.3 472.8,501.4 474.3,498.9 475.8,496.2 477.3,495.5 478.8,492.9 480.3,490.3 481.8,488.5 483.2,486.4 484.7,485.6 486.2,484 487.7,481.5 489.2,480.1 490.7,478.6 492.2,476.9 493.7,475.6 495.2,474.3 496.7,473.6 498.2,472.7 499.7,471.1 501.2,470.8 502.6,470.8 504.1,470 505.6,468.8 507.1,467.6 508.6,467.8 510.1,468.2 511.6,467.8 513.1,467.8 514.6,467.6 516.1,467.9 517.6,468.3 519.1,468.8 520.6,469.5 522,470.8 523.5,471.6 525,471.5 526.5,472.1 528,473.1 529.5,474.5 531,476 532.5,477.2 534,478.7 535.5,479.5 537,481.2 538.5,483 540,485.1 541.4,485.3 542.9,487.3 544.4,489.1 545.9,490.2 547.4,490.8 548.9,492.5 550.4,494.6 551.9,496 553.4,498.2 554.9,499.8 556.4,501.3 557.9,502.8 559.4,504 560.9,505.5 562.3,506.4 563.8,508.1 565.3,510.3 566.8,511.8 568.3,513.9 569.8,515.6 571.3,517 572.8,517.7 574.3,519.6 575.8,521.7 577.3,523.1 578.8,524.6 580.3,525.5 581.7,526.6 583.2,528.2 584.7,529.4 586.2,530.5 587.7,531.1 589.2,531.9 590.7,532.5 592.2,534.1 593.7,535 595.2,536.2 596.7,537.9 598.2,538.9 599.7,538.5 601.1,540 602.6,540.2 604.1,541.1 605.6,541.6 607.1,543.1 608.6,543.7 610.1,545 611.6,546.3 613.1,547.4 614.6,547.4 616.1,548.8 617.6,548.8 619.1,549.7 620.6,549.8 622,551 623.5,550.7 625,551.4 626.5,552.6 628,553.4 629.5,553.3 631,554.2 632.5,554 634,554 635.5,554.7 637,554.3 638.5,554.2 640,554.9 641.4,555.3 642.9,555.7 644.4,556.3 645.9,556.1 647.4,557 648.9,558.5 650.4,558.1 651.9,557.9 653.4,557.7 654.9,558.6 656.4,558 657.9,558.7 659.4,558.3 660.8,558.1 662.3,558.3 663.8,557.9 665.3,558.5 666.8,557.6 668.3,557.8 669.8,558.4 671.3,557.2 672.8,557.9 674.3,559 675.8,558.1 677.3,557.6 678.8,558.4 680.3,558.9 681.7,558.2 683.2,558.4 684.7,558.9 686.2,559 687.7,558.8 689.2,558.2 690.7,557.6 692.2,558.4 693.7,557.8 695.2,558.9 696.7,558.4 698.2,558.6 699.7,558.4 701.1,558.7 702.6,559 704.1,558.6 705.6,558.1 707.1,559 708.6,559 710.1,559 711.6,559 713.1,559 714.6,558.8 716.1,558.4 717.6,558.2 719.1,559"/>
<path d="M451.9,531.7 453.4,530.1 454.9,528.4 456.4,525.7 457.9,524.5 459.4,522.7 460.9,520.5 462.3,518 463.8,516.4 465.3,514.6 466.8,511.9 468.3,510.7 469.8,509.7 471.3,507.7 472.8,505.5 474.3,502.7 475.8,500.8 477.3,498.4 478.8,496.9 480.3,495.2 481.8,493.9 483.2,492.7 484.7,490.4 486.2,488.6 487.7,486.9 489.2,485.8 490.7,484.6 492.2,483 493.7,481.6 495.2,479.6 496.7,479.6 498.2,478.2 499.7,477.3 501.2,477 502.6,476.4 504.1,476 505.6,474.8 507.1,473.6 508.6,474 510.1,474.5 511.6,474.1 513.1,474.2 514.6,474.8 516.1,474.7 517.6,474.9 519.1,475.9 520.6,476.1 522,478 523.5,478.9 525,479.3 526.5,479.7 528,481.2 529.5,481.1 531,482.5 532.5,483.5 534,484.7 535.5,485.5 537,487.2 538.5,488.1 540,490 541.4,491.9 542.9,492.6 544.4,493.9 545.9,494.9 547.4,497.5 548.9,498.5 550.4,500.2 551.9,501.5 553.4,503 554.9,504.5 556.4,506.1 557.9,506.8 559.4,509.3 560.9,511.2 562.3,511.9 563.8,512.2 565.3,514.4 566.8,516.2 568.3,518 569.8,519.5 571.3,519.8 572.8,520.9 574.3,522 575.8,523.4 577.3,524.8 578.8,526.5 580.3,528.2 581.7,528.8 583.2,528.8 584.7,530.7 586.2,531.5 587.7,533.3 589.2,534.4 590.7,534.6 592.2,536.1 593.7,536.9 595.2,538.4 596.7,538.4 598.2,540.4 599.7,540.9 601.1,542 602.6,542.7 604.1,543.3 605.6,543.6 607.1,544.3 608.6,544.9 610.1,545.9 611.6,547.3 613.1,547.3 614.6,547.4 616.1,548.3 617.6,548.8 619.1,549.9 620.6,551.3 622,551 623.5,552 625,551.4 626.5,551.9 628,552.8 629.5,553.6 631,553.9 632.5,554.8 634,555.1 635.5,554.5 637,555.3 638.5,554.8 640,555.6 641.4,555.9 642.9,556.9 644.4,557.2 645.9,557.6 647.4,558.3 648.9,557.2 650.4,557.4 651.9,558 653.4,558.8 654.9,558.8 656.4,559 657.9,559 659.4,559 660.8,557.8 662.3,559 663.8,558.5 665.3,558.8 666.8,559 668.3,559 669.8,559 671.3,558.9 672.8,559 674.3,558 675.8,558 677.3,558.6 678.8,559 680.3,558.9 681.7,559 683.2,558.3 684.7,559 686.2,558.2 687.7,558.6 689.2,558.5 690.7,558.7 692.2,558.3 693.7,557.9 695.2,558.5 696.7,559 698.2,557.9 699.7,557.8 701.1,557.2 702.6,557.5 704.1,557.9 705.6,557.5 707.1,558.4 708.6,558.7 710.1,558.8 711.6,558.4 713.1,558.9 714.6,558.8 716.1,559 717.6,559 719.1,558.2"/>
<path d="M451.9,532.2 453.4,531.2 454.9,528.6 456.4,528.1 457.9,526.4 459.4,525.1 460.9,524.5 462.3,522.7 463.8,519.6 465.3,518.5 466.8,514.7 468.3,513.3 469.8,511.5 471.3,509.1 472.8,507.5 474.3,506.1 475.8,504.5 477.3,502.9 478.8,500.5 480.3,498.9 481.8,496.8 483.2,495.9 484.7,494.1 486.2,491.3 487.7,490 489.2,488.9 490.7,487.1 492.2,486 493.7,484.4 495.2,484.3 496.7,482.9 498.2,482.7 499.7,481.4 501.2,479.5 502.6,478.8 504.1,479.3 505.6,478.8 507.1,478.4 508.6,478.7 510.1,478.4 511.6,478.9 513.1,478.2 514.6,478 516.1,478.6 517.6,478.7 519.1,478.2 520.6,479.5 522,481.3 523.5,481.5 525,482.4 526.5,483.5 528,483.7 529.5,484.2 531,485.2 532.5,485.8 534,487.7 535.5,489.2 537,490.2 538.5,492.8 540,494.8 541.4,494.9 542.9,496 544.4,497 545.9,498.8 547.4,499.8 548.9,500.5 550.4,502.5 551.9,503.6 553.4,505.2 554.9,506.7 556.4,508.1 557.9,508.7 559.4,510.3 560.9,511.7 562.3,513.3 563.8,516 565.3,516.5 566.8,517.8 568.3,519.1 569.8,520.7 571.3,522.7 572.8,522.8 574.3,523.3 575.8,524.3 577.3,527.1 578.8,527.9 580.3,529.7 581.7,530.7 583.2,531.9 584.7,533.1 586.2,534.3 587.7,535.2 589.2,535.6 590.7,535.8 592.2,536.8 593.7,538.2 595.2,539.4 596.7,540.4 598.2,541.3 599.7,542.4 601.1,543.1 602.6,543.4 604.1,544.4 605.6,545.5 607.1,546.1 608.6,546.6 610.1,547.3 611.6,548 613.1,548.2 614.6,549 616.1,550.1 617.6,550.1 619.1,551.1 620.6,551 622,551.3 623.5,551.7 625,552.3 626.5,553.6 628,553.9 629.5,554.1 631,554.1 632.5,555.1 634,555.4 635.5,556.3 637,556.1 638.5,556.2 640,556.4 641.4,555.9 642.9,556.2 644.4,556.9 645.9,557.6 647.4,558 648.9,557.7 650.4,557.6 651.9,558.4 653.4,558.6 654.9,558.8 656.4,558.4 657.9,558.4 659.4,558.8 660.8,559 662.3,558.2 663.8,559 665.3,559 666.8,559 668.3,558.6 669.8,558.9 671.3,558.3 672.8,558.2 674.3,558 675.8,557.7 677.3,558.4 678.8,558.5 680.3,558.1 681.7,558.1 683.2,558.7 684.7,559 686.2,559 687.7,558.9 689.2,559 690.7,559 692.2,559 693.7,558.8 695.2,558.6 696.7,558.7 698.2,558.6 699.7,558.3 701.1,559 702.6,559 704.1,558.4 705.6,558.2 707.1,559 708.6,559 710.1,558.2 711.6,558 713.1,558.4 714.6,558 716.1,557.6 717.6,557.4 719.1,558.7"/>
<path d="M451.9,535.2 453.4,533.8 454.9,532.2 456.4,530.8 457.9,529 459.4,526.7 460.9,524.9 462.3,523.1 463.8,521.8 465.3,519.4 466.8,517.9 468.3,516.3 469.8,514.7 471.3,513.8 472.8,510.6 474.3,509.1 475.8,507 477.3,504.4 478.8,503.5 480.3,502.6 481.8,500.4 483.2,498.8 484.7,497.9 486.2,495.8 487.7,494.5 489.2,493.7 490.7,493.5 492.2,492 493.7,490.1 495.2,489.4 496.7,487.6 498.2,485.7 499.7,485.4 501.2,484.9 502.6,484.6 504.1,483.8 505.6,483.6 507.1,482.9 508.6,482.3 510.1,482.2 511.6,483.1 513.1,482.8 514.6,483.3 516.1,483.4 517.6,483.3 519.1,484.3 520.6,484.7 522,484.6 523.5,486 525,486.8 526.5,487.2 528,488.3 529.5,488.7 531,490.4 532.5,492 534,492.5 535.5,493.5 537,494.4 538.5,495.1 540,496.1 541.4,497.8 542.9,499.4 544.4,501.6 545.9,502.9 547.4,503.6 548.9,504.6 550.4,506.6 551.9,507.2 553.4,508.6 554.9,509.4 556.4,511.1 557.9,512 559.4,514.2 560.9,516.3 562.3,517.5 563.8,518 565.3,519 566.8,521.3 568.3,522.1 569.8,522.8 571.3,523.3 572.8,524.6 574.3,526 575.8,528.2 577.3,529 578.8,531.1 580.3,531.8 581.7,532.8 583.2,534 584.7,535.2 586.2,535.8 587.7,536.3 589.2,537.6 590.7,538.2 592.2,538.8 593.7,539.9 595.2,539.9 596.7,541.4 598.2,542.7 599.7,544.3 601.1,544.1 602.6,544.5 604.1,545.4 605.6,546 607.1,546.9 608.6,547.1 610.1,547.9 611.6,548.5 613.1,549.3 614.6,550.3 616.1,551.7 617.6,551.3 619.1,552.2 620.6,552.1 622,552.2 623.5,551.8 625,553.1 626.5,553.6 628,553.6 629.5,554.6 631,555.2 632.5,555.2 634,554.5 635.5,554.8 637,555.2 638.5,556.5 640,556.5 641.4,556.3 642.9,557.6 644.4,557.7 645.9,558 647.4,557.8 648.9,559 650.4,558.5 651.9,558.6 653.4,558.7 654.9,559 656.4,559 657.9,559 659.4,558.8 660.8,558.5 662.3,558.2 663.8,559 665.3,558.8 666.8,558.1 668.3,559 669.8,558.5 671.3,558.9 672.8,558.5 674.3,558.5 675.8,559 677.3,559 678.8,558.4 680.3,558.6 681.7,558 683.2,558.1 684.7,557.9 686.2,558.5 687.7,558.4 689.2,558.7 690.7,558.2 692.2,558.7 693.7,558.1 695.2,557.6 696.7,558.7 698.2,558.7 699.7,558.4 701.1,557.6 702.6,557.6 704.1,558 705.6,559 707.1,558.4 708.6,558.8 710.1,558.6 711.6,558.4 713.1,559 714.6,558.4 716.1,558 717.6,558 719.1,558"/>
<path d="M451.9,536.3 453.4,535.8 454.9,534.5 456.4,532.5 457.9,531.3 459.4,529.7 460.9,528 462.3,526.4 463.8,524.7 465.3,522.8 466.8,521.2 468.3,520.1 469.8,518.2 471.3,515.8 472.8,514.5 474.3,512.4 475.8,510.6 477.3,509.5 478.8,509 480.3,506.6 481.8,505 483.2,503.4 484.7,501.1 486.2,500.1 487.7,498.4 489.2,497.1 490.7,495.8 492.2,493.7 493.7,494.1 495.2,492.4 496.7,491.7 498.2,491 499.7,490.5 501.2,489.6 502.6,489 504.1,488.9 505.6,487.5 507.1,487.8 508.6,487.6 510.1,488 511.6,487.6 513.1,487.3 514.6,487 516.1,487 517.6,487.9 519.1,487.6 520.6,488.5 522,488.5 523.5,488.8 525,490.3 526.5,491.8 528,492.1 529.5,492.4 531,493.5 532.5,494.2 534,495.3 535.5,496.3 537,497.1 538.5,498.8 540,500.9 541.4,501.8 542.9,503.3 544.4,504.8 545.9,505.7 547.4,506.3 548.9,508.5 550.4,510.1 551.9,510.4 553.4,512 554.9,513.2 556.4,513.6 557.9,514.5 559.4,516 560.9,517.3 562.3,520.1 563.8,520.6 565.3,521.5 566.8,523.4 568.3,524.2 569.8,525 571.3,526.3 572.8,527.1 574.3,528 575.8,529.4 577.3,530.8 578.8,532.4 580.3,532.7 581.7,534.1 583.2,534.9 584.7,535.1 586.2,536.1 587.7,538 589.2,538.9 590.7,540 592.2,541.5 593.7,542.2 595.2,542.3 596.7,542.8 598.2,543.7 599.7,544.3 601.1,545.6 602.6,546.5 604.1,546.9 605.6,547 607.1,547.8 608.6,548.5 610.1,548.9 611.6,548.8 613.1,550.3 614.6,550.5 616.1,551 617.6,551.6 619.1,552 620.6,553.5 622,553.5 623.5,553.8 625,554.6 626.5,554.2 628,554.7 629.5,555.2 631,555.1 632.5,556 634,556.5 635.5,556.1 637,556.1 638.5,555.6 640,556.7 641.4,557.9 642.9,558.6 644.4,558.9 645.9,558.6 647.4,558.7 648.9,559 650.4,559 651.9,559 653.4,559 654.9,558.3 656.4,558.1 657.9,557.7 659.4,557.8 660.8,557.8 662.3,557.6 663.8,557.9 665.3,557.5 666.8,557.5 668.3,557.2 669.8,557.8 671.3,558.6 672.8,557.4 674.3,558.1 675.8,558.1 677.3,558.5 678.8,558.9 680.3,558.5 681.7,559 683.2,558.9 684.7,558.1 686.2,558.3 687.7,558.1 689.2,558 690.7,558.1 692.2,558.3 693.7,558.2 695.2,558.9 696.7,558.5 698.2,559 699.7,559 701.1,559 702.6,559 704.1,559 705.6,559 707.1,558.6 708.6,558.3 710.1,557.4 711.6,557.9 713.1,557.9 714.6,558.6 716.1,558.2 717.6,559 719.1,557.8"/>
<path d="M451.9,538.7 453.4,537.6 454.9,535.8 456.4,535.8 457.9,533.3 459.4,532.5 460.9,530.8 462.3,528.8 463.8,527.4 465.3,525.5 466.8,524.4 468.3,522.5 469.8,522.1 471.3,519.3 472.8,518.2 474.3,516.9 475.8,515.1 477.3,512.6 478.8,511.8 480.3,510.3 481.8,509 483.2,508 484.7,507 486.2,504.9 487.7,503.3 489.2,502.6 490.7,501.2 492.2,500 493.7,498.9 495.2,498.2 496.7,497.4 498.2,496.5 499.7,496.4 501.2,495.7 502.6,494.6 504.1,494.6 505.6,493.5 507.1,493.6 508.6,494 510.1,493.8 511.6,494.3 513.1,493.6 514.6,494.4 516.1,494.2 517.6,494.4 519.1,494.8 520.6,494.9 522,495.3 523.5,496.2 525,496.3 526.5,497.4 528,497.6 529.5,498 531,499.1 532.5,499.8 534,501.8 535.5,502.3 537,504.1 538.5,504.9 540,505.4 541.4,507.8 542.9,508.6 544.4,509.6 545.9,510.8 547.4,511.5 548.9,512.1 550.4,513.9 551.9,515.1 553.4,516.9 554.9,517.8 556.4,519.5 557.9,520.7 559.4,520.9 560.9,521.4 562.3,523 563.8,523.8 565.3,525.3 566.8,525.8 568.3,526.2 569.8,529 571.3,530.1 572.8,531.1 574.3,532 575.8,532 577.3,532.5 578.8,534 580.3,534.9 581.7,536.9 583.2,537.7 584.7,538.5 586.2,539.3 587.7,539.9 589.2,541.5 590.7,542.4 592.2,541.8 593.7,543.7 595.2,544.1 596.7,544.3 598.2,544.9 599.7,545.8 601.1,547.3 602.6,547.8 604.1,548.9 605.6,548 607.1,548.7 608.6,549.1 610.1,549.8 611.6,550.7 613.1,550.6 614.6,551 616.1,551.5 617.6,552 619.1,552.4 620.6,553.3 622,553.6 623.5,554.1 625,554.6 626.5,554.7 628,554.2 629.5,556.1 631,555.5 632.5,556.3 634,556 635.5,557.1 637,557.3 638.5,557 640,557.5 641.4,557.6 642.9,558.5 644.4,559 645.9,558.1 647.4,558.3 648.9,558.5 650.4,559 651.9,559 653.4,559 654.9,559 656.4,558.9 657.9,559 659.4,559 660.8,558.8 662.3,558.1 663.8,559 665.3,559 666.8,558.5 668.3,559 669.8,559 671.3,558.8 672.8,557.8 674.3,559 675.8,559 677.3,559 678.8,558.5 680.3,558.5 681.7,558.9 683.2,558.7 684.7,559 686.2,558.7 687.7,557.9 689.2,558.4 690.7,558.1 692.2,558.9 693.7,558 695.2,558.6 696.7,559 698.2,559 699.7,559 701.1,558.8 702.6,557.8 704.1,558.9 705.6,558.8 707.1,558.5 708.6,558.8 710.1,559 711.6,558.9 713.1,558.2 714.6,558.4 716.1,559 717.6,558.9 719.1,559"/>
</g>
<g fill="none" stroke="#5a5a5a" stroke-width="1.45" stroke-linejoin="round">
<path d="M451.9,335.8H750.4V558.6H451.9Z"/>
<path d="M451.9,558.6h-5M451.9,530.8h-3M451.9,502.9h-5M451.9,475.1h-3M451.9,447.2h-5M451.9,419.4h-3M451.9,391.5h-5M451.9,363.6h-3M451.9,335.8h-5M451.9,558.6v4.5M489.2,558.6v2.5M526.5,558.6v4.5M563.8,558.6v2.5M601.1,558.6v4.5M638.5,558.6v2.5M675.8,558.6v4.5M713.1,558.6v2.5M750.4,558.6v4.5"/>
</g>
<g font-family="Liberation Serif" font-weight="bold" font-size="12" fill="#222">
<text x="439" y="561.6" text-anchor="end">0</text>
<text x="439" y="505.9" text-anchor="end" textLength="17.1" lengthAdjust="spacingAndGlyphs">200</text>
<text x="439" y="450.2" text-anchor="end" textLength="17.1" lengthAdjust="spacingAndGlyphs">400</text>
<text x="439" y="394.5" text-anchor="end" textLength="17.1" lengthAdjust="spacingAndGlyphs">600</text>
<text x="439" y="338.8" text-anchor="end" textLength="17.1" lengthAdjust="spacingAndGlyphs">800</text>
<text x="450.8" y="578.9" text-anchor="middle" textLength="17.1" lengthAdjust="spacingAndGlyphs">300</text>
<text x="525.4" y="578.9" text-anchor="middle" textLength="17.1" lengthAdjust="spacingAndGlyphs">350</text>
<text x="600" y="578.9" text-anchor="middle" textLength="17.1" lengthAdjust="spacingAndGlyphs">400</text>
<text x="674.7" y="578.9" text-anchor="middle" textLength="17.1" lengthAdjust="spacingAndGlyphs">450</text>
<text x="749.3" y="578.9" text-anchor="middle" textLength="17.1" lengthAdjust="spacingAndGlyphs">500</text>
<text x="603.4" y="602.9" text-anchor="middle" font-size="13" letter-spacing="0.52">Wavelength(nm)</text>
<text transform="translate(404.1,447) rotate(-90)" text-anchor="middle" font-size="13.6">Fluorescence Intensity</text>
</g>
<text x="458.7" y="355.9" font-family="Liberation Sans" font-size="18" fill="#000">b</text>
<g font-family="Liberation Serif" font-weight="bold" font-size="11.5" fill="#111" text-anchor="middle">
<text x="676.4" y="414.7">1</text>
<text x="676.4" y="469.3">13</text>
</g>
<path d="M676.4,417V455.1" stroke="#111" stroke-width="1.3"/>
<path d="M674.2,453.1h4.4l-2.2,6z" fill="#111"/>
<g fill="none" stroke="#383838" stroke-width="1.3" stroke-linejoin="round">
<path d="M448.7,827.6 450.2,824.4 451.7,821.3 453.2,818.8 454.6,815.6 456.1,812.7 457.6,809 459.1,805.5 460.6,801.3 462.1,797.3 463.6,792.6 465.1,787.5 466.5,782.6 468,778 469.5,771.9 471,766.1 472.5,760 474,753.4 475.5,747.5 476.9,740.6 478.4,734.2 479.9,728.5 481.4,722.7 482.9,716.5 484.4,710.9 485.9,704.4 487.3,700.1 488.8,694.2 490.3,689.2 491.8,684.8 493.3,679.6 494.8,675.7 496.3,671.5 497.8,668.3 499.2,665.3 500.7,662.2 502.2,659.5 503.7,657.3 505.2,656.2 506.7,654.5 508.2,654.3 509.6,654.8 511.1,655.4 512.6,655.9 514.1,656.2 515.6,657.4 517.1,657.6 518.6,658.6 520.1,659.9 521.5,661.4 523,663.4 524.5,665.6 526,667.9 527.5,670.1 529,673.2 530.5,674.9 531.9,677.2 533.4,680.6 534.9,682.8 536.4,687.1 537.9,690 539.4,694.3 540.9,697.2 542.3,701 543.8,703.9 545.3,707.5 546.8,710.7 548.3,714.3 549.8,718 551.3,722.1 552.8,725 554.2,728.9 555.7,732.6 557.2,735.8 558.7,740.1 560.2,743 561.7,746.6 563.2,750.6 564.6,755 566.1,757.7 567.6,761.4 569.1,764.8 570.6,768.1 572.1,770.9 573.6,774.1 575.1,778.4 576.5,781.5 578,784 579.5,786.8 581,789.3 582.5,792 584,794.2 585.5,797.8 586.9,799.8 588.4,802.6 589.9,805.2 591.4,807.5 592.9,810.3 594.4,812.3 595.9,814.8 597.4,816.6 598.8,819.3 600.3,820.7 601.8,823.6 603.3,825.5 604.8,827.1 606.3,828.6 607.8,830.7 609.2,832.3 610.7,833.6 612.2,834.6 613.7,835.7 615.2,837.8 616.7,839.3 618.2,840.8 619.6,842.8 621.1,843.8 622.6,844.1 624.1,846 625.6,845.4 627.1,846.6 628.6,847.3 630.1,848.8 631.5,851.3 633,851.6 634.5,851.6 636,853 637.5,853.2 639,853.9 640.5,854.6 641.9,855.3 643.4,856 644.9,856.7 646.4,857 647.9,857.9 649.4,858.4 650.9,859.1 652.4,859.8 653.8,860.8 655.3,862 656.8,862.4 658.3,863 659.8,863.5 661.3,863 662.8,863.3 664.2,862.9 665.7,862 667.2,862.8 668.7,863.9 670.2,864.2 671.7,864.8 673.2,865 674.6,864.3 676.1,864.3 677.6,864.6 679.1,865.2 680.6,864.8 682.1,865 683.6,865.1 685.1,866.1 686.5,866.3 688,866.1 689.5,866.1 691,866.3 692.5,866.4 694,866.4 695.5,866.4 696.9,866.1 698.4,866.4 699.9,866.3 701.4,865.3 702.9,865.6 704.4,866.4 705.9,866.4 707.4,866.2 708.8,865.5 710.3,865.6 711.8,865.1 713.3,865.4 714.8,865.1 716.3,864.9 717.8,864.7 719.2,865.3 720.7,865.3 722.2,863.8"/>
<path d="M448.7,829.7 450.2,826.9 451.7,823.9 453.2,821.6 454.6,818.1 456.1,815.3 457.6,811.7 459.1,808.4 460.6,805.4 462.1,800.9 463.6,796 465.1,791.9 466.5,787.8 468,784.2 469.5,778.8 471,773.5 472.5,768.6 474,764 475.5,757.9 476.9,752 478.4,746.6 479.9,740.6 481.4,737.1 482.9,731.8 484.4,727 485.9,721.6 487.3,717.4 488.8,713.8 490.3,709.5 491.8,705.4 493.3,702.2 494.8,699 496.3,695.6 497.8,692.3 499.2,690.1 500.7,687.7 502.2,686.2 503.7,684.8 505.2,683.3 506.7,681.9 508.2,680.8 509.6,681.1 511.1,681.1 512.6,680.7 514.1,681.4 515.6,682.7 517.1,683.6 518.6,685.6 520.1,687.7 521.5,688.9 523,690.4 524.5,692.4 526,693.3 527.5,695.6 529,697.7 530.5,700 531.9,702.5 533.4,705.6 534.9,707 536.4,711.1 537.9,713.6 539.4,716 540.9,719.2 542.3,722.2 543.8,725.1 545.3,728.2 546.8,731.6 548.3,734.2 549.8,737.3 551.3,740.1 552.8,743.7 554.2,748.1 555.7,751.7 557.2,754.6 558.7,757.1 560.2,760.9 561.7,763.9 563.2,766 564.6,769 566.1,772.5 567.6,775.5 569.1,778.3 570.6,781.4 572.1,784.3 573.6,787.2 575.1,789.6 576.5,791.5 578,793.8 579.5,797.5 581,798.9 582.5,801.9 584,805.3 585.5,808.1 586.9,809.9 588.4,811.8 589.9,814.2 591.4,816.5 592.9,818.4 594.4,820.1 595.9,821.7 597.4,823.4 598.8,826.6 600.3,828.1 601.8,829.4 603.3,830.7 604.8,831.9 606.3,834.4 607.8,834.9 609.2,837.2 610.7,838.5 612.2,839.9 613.7,841.3 615.2,842.7 616.7,843.2 618.2,844 619.6,845.2 621.1,847.1 622.6,848.2 624.1,848.9 625.6,849.6 627.1,850.8 628.6,851.7 630.1,851.1 631.5,852.4 633,853.7 634.5,855.7 636,856.2 637.5,855.6 639,856 640.5,857.5 641.9,857.6 643.4,858.2 644.9,859.3 646.4,859.3 647.9,860.2 649.4,860.7 650.9,861 652.4,861.3 653.8,862 655.3,862.2 656.8,862.6 658.3,862.8 659.8,863 661.3,863.8 662.8,864.7 664.2,864.7 665.7,864.1 667.2,864.5 668.7,864.8 670.2,865.5 671.7,866.2 673.2,866.4 674.6,866.4 676.1,866.4 677.6,866.4 679.1,866.4 680.6,866.4 682.1,866.2 683.6,866.1 685.1,866.4 686.5,866.4 688,866.2 689.5,865.9 691,865.6 692.5,866 694,866 695.5,866.1 696.9,865.8 698.4,866.2 699.9,866.2 701.4,866 702.9,866.2 704.4,866.4 705.9,865.7 707.4,865.6 708.8,866.2 710.3,865.1 711.8,865.9 713.3,866.4 714.8,866.4 716.3,865.9 717.8,865.2 719.2,864.9 720.7,865.2 722.2,865.6"/>
<path d="M448.7,830.3 450.2,828.5 451.7,826.4 453.2,823.3 454.6,820.5 456.1,817.6 457.6,815.2 459.1,811.7 460.6,809 462.1,804.7 463.6,801 465.1,797.4 466.5,793.4 468,787.5 469.5,782 471,778.7 472.5,773.8 474,771 475.5,765.3 476.9,760.7 478.4,756 479.9,752 481.4,748 482.9,743.2 484.4,739 485.9,734.5 487.3,730.2 488.8,726.7 490.3,723.1 491.8,719.8 493.3,716.7 494.8,714.2 496.3,711.4 497.8,708.8 499.2,706.8 500.7,705.2 502.2,704.2 503.7,703 505.2,700.8 506.7,699.7 508.2,699.4 509.6,699.2 511.1,699.5 512.6,699.5 514.1,699.7 515.6,700.8 517.1,701.6 518.6,702.3 520.1,704.5 521.5,706.1 523,707.5 524.5,709.4 526,711 527.5,712.9 529,714.8 530.5,716.4 531.9,719.2 533.4,721.2 534.9,722.8 536.4,725.5 537.9,728.8 539.4,731.5 540.9,733.4 542.3,736.4 543.8,739.5 545.3,741.8 546.8,745.1 548.3,748.4 549.8,750.7 551.3,753.5 552.8,756.7 554.2,759.2 555.7,761.6 557.2,764.2 558.7,767.5 560.2,770.3 561.7,773.1 563.2,776.8 564.6,778.6 566.1,781.9 567.6,784.8 569.1,787.7 570.6,790.5 572.1,792.2 573.6,794.8 575.1,797.6 576.5,800.8 578,802.6 579.5,804.7 581,807.4 582.5,809.4 584,812.2 585.5,813.5 586.9,816.1 588.4,817.5 589.9,819.3 591.4,822.3 592.9,824.1 594.4,825.7 595.9,826.7 597.4,828.1 598.8,829.5 600.3,830.6 601.8,832.7 603.3,834.7 604.8,837 606.3,838.4 607.8,839 609.2,840.6 610.7,842 612.2,842.4 613.7,844.8 615.2,844.7 616.7,845.2 618.2,847.5 619.6,848 621.1,849 622.6,849.4 624.1,850.7 625.6,851.6 627.1,851.8 628.6,853.2 630.1,853.8 631.5,854.3 633,855.3 634.5,855.6 636,856.2 637.5,856.7 639,858.4 640.5,859.3 641.9,859.3 643.4,859.1 644.9,859.2 646.4,860.1 647.9,861.1 649.4,862 650.9,863.1 652.4,863.1 653.8,862.8 655.3,863.1 656.8,864.1 658.3,864.1 659.8,864.2 661.3,864.7 662.8,864.1 664.2,864.4 665.7,864.3 667.2,864.9 668.7,865.8 670.2,865.4 671.7,865.3 673.2,865.9 674.6,866.4 676.1,865.9 677.6,866.2 679.1,866.4 680.6,866.4 682.1,865.9 683.6,866.3 685.1,866.1 686.5,865.6 688,865.4 689.5,866.4 691,865.9 692.5,865.1 694,865.1 695.5,865.6 696.9,865.6 698.4,866.4 699.9,866.4 701.4,866.4 702.9,865.2 704.4,865.6 705.9,866.3 707.4,865.3 708.8,865.1 710.3,866.3 711.8,866.2 713.3,866.4 714.8,866 716.3,866.4 717.8,865.6 719.2,866.3 720.7,866.4 722.2,865.3"/>
<path d="M448.7,831.9 450.2,829.7 451.7,827.2 453.2,825.6 454.6,822.6 456.1,820.2 457.6,817.2 459.1,814.3 460.6,810.7 462.1,808.5 463.6,805.7 465.1,801.4 466.5,796.4 468,792.8 469.5,789.2 471,785 472.5,781.7 474,777.5 475.5,774.1 476.9,769.6 478.4,765.1 479.9,760.5 481.4,757.3 482.9,753.3 484.4,749.3 485.9,746.8 487.3,743.6 488.8,741.2 490.3,738.1 491.8,734.6 493.3,732.8 494.8,730 496.3,727.1 497.8,724.4 499.2,724.1 500.7,721.9 502.2,720.8 503.7,720.6 505.2,719.5 506.7,718 508.2,717.5 509.6,716.9 511.1,717.2 512.6,717.1 514.1,718.1 515.6,719.1 517.1,719.6 518.6,721.1 520.1,721.1 521.5,722.5 523,724.2 524.5,725.9 526,727.6 527.5,728.9 529,730.7 530.5,732 531.9,734.7 533.4,736.6 534.9,739.4 536.4,741.4 537.9,742.7 539.4,745.3 540.9,747.4 542.3,750.1 543.8,753.2 545.3,755.9 546.8,758.7 548.3,760.7 549.8,763 551.3,764.2 552.8,766.7 554.2,769.6 555.7,773.3 557.2,775.8 558.7,778.9 560.2,780.1 561.7,783.5 563.2,785.5 564.6,788.9 566.1,790.8 567.6,793.9 569.1,796.3 570.6,798.3 572.1,800.5 573.6,802.8 575.1,805 576.5,807.6 578,809.5 579.5,811.5 581,813.9 582.5,815.4 584,817.2 585.5,819.5 586.9,820.6 588.4,822.9 589.9,825.6 591.4,826.2 592.9,828.1 594.4,829 595.9,830.7 597.4,832.9 598.8,833.7 600.3,835.2 601.8,836.3 603.3,838 604.8,838.7 606.3,839.9 607.8,841.8 609.2,843.8 610.7,844.7 612.2,845.6 613.7,847 615.2,847.8 616.7,847.9 618.2,849.4 619.6,849.7 621.1,851.3 622.6,852.5 624.1,852.6 625.6,853.6 627.1,854.2 628.6,854.5 630.1,854.6 631.5,856.4 633,856.7 634.5,857.3 636,858 637.5,857.7 639,858.9 640.5,859.8 641.9,860 643.4,861.6 644.9,861.4 646.4,862.1 647.9,862.1 649.4,862.8 650.9,862.7 652.4,863.2 653.8,863.8 655.3,863.7 656.8,863.7 658.3,864.9 659.8,865.5 661.3,865.5 662.8,865.6 664.2,865 665.7,864.7 667.2,865.1 668.7,865.1 670.2,865.7 671.7,866.4 673.2,866.1 674.6,866.4 676.1,865.7 677.6,865.7 679.1,865.3 680.6,865.9 682.1,866.4 683.6,866.4 685.1,866 686.5,866.1 688,866.3 689.5,866.1 691,866.1 692.5,865.4 694,866.3 695.5,866.4 696.9,866.4 698.4,866.2 699.9,866.4 701.4,866.4 702.9,866 704.4,865.8 705.9,865.8 707.4,866.2 708.8,866.4 710.3,865.7 711.8,865.5 713.3,865.6 714.8,864.1 716.3,863.8 717.8,865.6 719.2,864.2 720.7,865 722.2,866.3"/>
<path d="M448.7,833.2 450.2,831.2 451.7,828.7 453.2,826.9 454.6,825.5 456.1,822.8 457.6,820.3 459.1,817.2 460.6,814.4 462.1,811 463.6,808.5 465.1,805.2 466.5,801.7 468,797.5 469.5,794.6 471,790.4 472.5,785.3 474,782.9 475.5,778.5 476.9,774.9 478.4,770.9 479.9,767.6 481.4,764.1 482.9,760.7 484.4,757.3 485.9,754.9 487.3,751.8 488.8,747.9 490.3,744.8 491.8,743.2 493.3,741.3 494.8,739 496.3,736.3 497.8,734.2 499.2,733.2 500.7,732.9 502.2,731.2 503.7,730.7 505.2,728.8 506.7,727.5 508.2,727.2 509.6,727.1 511.1,727.2 512.6,726.8 514.1,727.3 515.6,727.7 517.1,729.6 518.6,730.7 520.1,731.6 521.5,733.8 523,734.6 524.5,735.6 526,737 527.5,737.3 529,739.6 530.5,741.7 531.9,743.7 533.4,745.8 534.9,748.5 536.4,749.6 537.9,751.8 539.4,753.9 540.9,756.3 542.3,759 543.8,761.9 545.3,763.9 546.8,765.8 548.3,768.2 549.8,770.2 551.3,773.1 552.8,775.6 554.2,777.8 555.7,780.2 557.2,782.5 558.7,784.2 560.2,787.2 561.7,789.5 563.2,792.2 564.6,794.2 566.1,796.4 567.6,799.1 569.1,801.7 570.6,804.1 572.1,806 573.6,807.7 575.1,809.9 576.5,811.8 578,813.6 579.5,814.4 581,816.3 582.5,817.6 584,820.2 585.5,822.3 586.9,823.3 588.4,825.4 589.9,827.2 591.4,829.4 592.9,831.2 594.4,832.2 595.9,834.1 597.4,835.8 598.8,837.7 600.3,838.4 601.8,839.5 603.3,840.4 604.8,842.1 606.3,843.7 607.8,843.9 609.2,845.1 610.7,845.8 612.2,847.6 613.7,849 615.2,850.7 616.7,850.7 618.2,850.7 619.6,851 621.1,851.3 622.6,853.6 624.1,854.7 625.6,855.3 627.1,856.1 628.6,856.5 630.1,857.3 631.5,858.4 633,858.4 634.5,858.7 636,859.5 637.5,859.8 639,860.8 640.5,861 641.9,861.4 643.4,861.8 644.9,862 646.4,862.9 647.9,863.6 649.4,863.8 650.9,863.4 652.4,864.1 653.8,864.6 655.3,863.6 656.8,864.3 658.3,864.9 659.8,865.5 661.3,864.8 662.8,865 664.2,865.4 665.7,865 667.2,866.1 668.7,866.4 670.2,865.9 671.7,865.7 673.2,866.1 674.6,865.7 676.1,865.9 677.6,865 679.1,866.1 680.6,865.9 682.1,865.5 683.6,865.3 685.1,865.8 686.5,866.1 688,866.3 689.5,865.8 691,866.1 692.5,866.1 694,865.6 695.5,865.8 696.9,865.8 698.4,866 699.9,866 701.4,866.4 702.9,866.4 704.4,866.3 705.9,866.4 707.4,866.4 708.8,866.2 710.3,865 711.8,865.9 713.3,866.4 714.8,866.4 716.3,866.3 717.8,866.2 719.2,866.4 720.7,866.4 722.2,865.7"/>
<path d="M448.7,834.6 450.2,832.8 451.7,830.5 453.2,828.4 454.6,826.9 456.1,824.3 457.6,822.1 459.1,819.3 460.6,816.8 462.1,813.2 463.6,811.5 465.1,808.2 466.5,805.6 468,800.9 469.5,798.3 471,795.3 472.5,791.9 474,788.6 475.5,784.5 476.9,781.6 478.4,778.5 479.9,775 481.4,771.6 482.9,769.6 484.4,766.6 485.9,764.6 487.3,761.4 488.8,758.2 490.3,756.4 491.8,754.3 493.3,751.6 494.8,749.8 496.3,747.9 497.8,746.8 499.2,745.6 500.7,744.5 502.2,742.6 503.7,742.8 505.2,742.2 506.7,740.7 508.2,740.7 509.6,741.2 511.1,740.9 512.6,741.2 514.1,741.6 515.6,741.8 517.1,742.1 518.6,743.9 520.1,744.4 521.5,744.7 523,746.8 524.5,747.9 526,749.7 527.5,750.5 529,752.5 530.5,754.1 531.9,755.8 533.4,757.1 534.9,759.6 536.4,761.9 537.9,763.3 539.4,764.4 540.9,766.9 542.3,768.8 543.8,770.9 545.3,773.1 546.8,775.3 548.3,777.8 549.8,780 551.3,781.5 552.8,783.7 554.2,785.5 555.7,788.4 557.2,790.6 558.7,793.1 560.2,795.8 561.7,797.1 563.2,799.4 564.6,801.3 566.1,804.1 567.6,805.9 569.1,807.8 570.6,809.8 572.1,811.1 573.6,812.9 575.1,814.9 576.5,816.8 578,818.9 579.5,821 581,822.7 582.5,824.7 584,826.1 585.5,827.5 586.9,828.4 588.4,830.3 589.9,830.6 591.4,832.9 592.9,834.4 594.4,835.9 595.9,837.6 597.4,838.8 598.8,840.8 600.3,841 601.8,842.5 603.3,843.5 604.8,845.4 606.3,845.7 607.8,847.3 609.2,847.2 610.7,848.8 612.2,849.9 613.7,850.2 615.2,850.5 616.7,852.6 618.2,853.8 619.6,853.2 621.1,853.9 622.6,855.5 624.1,856.1 625.6,856.1 627.1,857 628.6,856.8 630.1,858 631.5,858.5 633,858.5 634.5,858.6 636,859.4 637.5,859.9 639,860.8 640.5,861.4 641.9,862.1 643.4,862.1 644.9,862.1 646.4,863.2 647.9,864 649.4,863.9 650.9,863.1 652.4,863.7 653.8,864.2 655.3,864.6 656.8,865.8 658.3,866 659.8,865.2 661.3,866.4 662.8,865.5 664.2,866.4 665.7,865.2 667.2,864.3 668.7,864.4 670.2,865.3 671.7,865.4 673.2,866 674.6,866.2 676.1,866 677.6,866.4 679.1,866.4 680.6,866.4 682.1,866.4 683.6,866.4 685.1,865.9 686.5,866.3 688,866 689.5,866.4 691,866.3 692.5,866.4 694,866 695.5,866.4 696.9,865.9 698.4,866.4 699.9,866.4 701.4,865.7 702.9,866.2 704.4,866.1 705.9,866.4 707.4,866 708.8,865.6 710.3,865.3 711.8,865 713.3,864.9 714.8,865.8 716.3,865.8 717.8,865.7 719.2,865.7 720.7,866.4 722.2,865.3"/>
<path d="M448.7,835.4 450.2,834.2 451.7,834 453.2,830.7 454.6,828.9 456.1,825.7 457.6,824.5 459.1,821.9 460.6,819.1 462.1,817.5 463.6,814.7 465.1,811.3 466.5,808 468,804.9 469.5,803.2 471,800.7 472.5,796.6 474,792.4 475.5,790.2 476.9,786.8 478.4,783.3 479.9,781 481.4,778.8 482.9,775.5 484.4,772.8 485.9,770.1 487.3,767.6 488.8,765.2 490.3,762.8 491.8,761 493.3,759 494.8,757.4 496.3,756 497.8,754.1 499.2,753.2 500.7,751.5 502.2,750.6 503.7,749.3 505.2,748.6 506.7,749.4 508.2,748.8 509.6,748.2 511.1,748.2 512.6,748.5 514.1,748.3 515.6,748.8 517.1,750.4 518.6,750.9 520.1,751.2 521.5,752.3 523,754.2 524.5,754.7 526,755.8 527.5,756.8 529,758.5 530.5,760.2 531.9,761.6 533.4,764.1 534.9,764.8 536.4,766.8 537.9,768.8 539.4,770.5 540.9,772.3 542.3,775.7 543.8,776.8 545.3,779 546.8,781.4 548.3,782.8 549.8,784.5 551.3,786.7 552.8,789.3 554.2,791.3 555.7,793.8 557.2,794.4 558.7,797.3 560.2,799 561.7,800.4 563.2,803.4 564.6,805.7 566.1,808.6 567.6,810 569.1,812.2 570.6,813.5 572.1,815.2 573.6,816.9 575.1,818.5 576.5,820.5 578,822 579.5,823.6 581,825.6 582.5,827.1 584,828.8 585.5,830.7 586.9,831.7 588.4,833.9 589.9,834.4 591.4,835.7 592.9,836.8 594.4,837.5 595.9,838.6 597.4,840.4 598.8,841.5 600.3,842.1 601.8,843.6 603.3,844.6 604.8,845.6 606.3,847.3 607.8,848 609.2,849.1 610.7,850 612.2,850.5 613.7,851.1 615.2,852.5 616.7,853.3 618.2,854 619.6,855 621.1,855.3 622.6,856 624.1,856.9 625.6,856.8 627.1,857.6 628.6,858.7 630.1,859.1 631.5,859.5 633,859.7 634.5,859.1 636,859.9 637.5,860 639,861.1 640.5,861.5 641.9,861.9 643.4,862.5 644.9,862.8 646.4,863.5 647.9,863.4 649.4,864.3 650.9,863.6 652.4,866 653.8,866.3 655.3,865.9 656.8,865.6 658.3,865.6 659.8,866.4 661.3,866.2 662.8,866.4 664.2,866.2 665.7,866.3 667.2,866.3 668.7,866.4 670.2,866.4 671.7,866.4 673.2,866.4 674.6,866.3 676.1,866.4 677.6,866.3 679.1,865.9 680.6,866.3 682.1,866.4 683.6,866.4 685.1,865.9 686.5,865.2 688,864.6 689.5,865.3 691,865.3 692.5,865.6 694,865.8 695.5,866.4 696.9,866.4 698.4,865.6 699.9,865.2 701.4,865.9 702.9,866.4 704.4,865.4 705.9,865.7 707.4,865.6 708.8,865.9 710.3,866.4 711.8,866.3 713.3,866.4 714.8,866.4 716.3,866.4 717.8,866.4 719.2,865 720.7,864.8 722.2,866.4"/>
<path d="M448.7,838.9 450.2,837.1 451.7,835.4 453.2,832.9 454.6,830.3 456.1,829 457.6,826.7 459.1,824.7 460.6,823.3 462.1,819.9 463.6,816.5 465.1,814.7 466.5,811.7 468,809.3 469.5,806.5 471,803.8 472.5,801 474,798.1 475.5,795.6 476.9,792.6 478.4,790.5 479.9,787.2 481.4,785.1 482.9,783.4 484.4,780 485.9,777.8 487.3,775.8 488.8,773.1 490.3,771.3 491.8,768.5 493.3,767.1 494.8,766.6 496.3,765.3 497.8,764.1 499.2,762.8 500.7,760.8 502.2,759 503.7,758.2 505.2,758.3 506.7,758.2 508.2,758.2 509.6,759.5 511.1,758.4 512.6,757.7 514.1,758.9 515.6,759.5 517.1,760.5 518.6,761.1 520.1,762.2 521.5,763.4 523,763.4 524.5,765.5 526,765.8 527.5,767.6 529,768.8 530.5,771 531.9,771.6 533.4,773.5 534.9,773.6 536.4,776.1 537.9,777.7 539.4,779.1 540.9,781.5 542.3,783.6 543.8,785.7 545.3,786.8 546.8,788.5 548.3,789.9 549.8,792.8 551.3,794.9 552.8,796.5 554.2,798.4 555.7,800 557.2,801.3 558.7,803.3 560.2,805.8 561.7,807.5 563.2,809.6 564.6,811.5 566.1,812.1 567.6,813.9 569.1,815 570.6,817.5 572.1,819.4 573.6,821.8 575.1,823 576.5,824.2 578,825.6 579.5,827.9 581,829.2 582.5,830.1 584,832 585.5,833 586.9,834.7 588.4,836 589.9,837.5 591.4,839.3 592.9,840.5 594.4,841.2 595.9,842.3 597.4,843.2 598.8,844.5 600.3,844.9 601.8,846.2 603.3,847 604.8,848.2 606.3,848.4 607.8,849.6 609.2,850.4 610.7,850.3 612.2,851.5 613.7,853.4 615.2,854.3 616.7,854.6 618.2,855.9 619.6,856.9 621.1,857.1 622.6,858.1 624.1,857.7 625.6,858 627.1,858.8 628.6,858.7 630.1,859.8 631.5,860.8 633,860.5 634.5,861 636,861.6 637.5,861.4 639,862.1 640.5,862.3 641.9,862.7 643.4,862.6 644.9,863 646.4,863.9 647.9,863.5 649.4,864.3 650.9,863.9 652.4,865.2 653.8,865.4 655.3,866.4 656.8,866.1 658.3,865.5 659.8,865.9 661.3,865.7 662.8,866 664.2,865.3 665.7,865.5 667.2,865.6 668.7,865.3 670.2,866.4 671.7,865.9 673.2,865.9 674.6,865.3 676.1,865.6 677.6,865.5 679.1,865.8 680.6,866.4 682.1,866.4 683.6,866.3 685.1,866.4 686.5,866.4 688,866.4 689.5,865.4 691,865.8 692.5,865.8 694,865.9 695.5,865.6 696.9,866.4 698.4,866.4 699.9,865.8 701.4,866.3 702.9,866.4 704.4,865.7 705.9,865.7 707.4,866.2 708.8,865.7 710.3,866.1 711.8,864.8 713.3,864.8 714.8,864.3 716.3,864.2 717.8,863.5 719.2,864.9 720.7,865.4 722.2,864.7"/>
<path d="M448.7,840.7 450.2,838.8 451.7,836.7 453.2,835 454.6,832.8 456.1,830.4 457.6,829.3 459.1,827.4 460.6,824.3 462.1,821.2 463.6,820.7 465.1,817.5 466.5,814.3 468,812.2 469.5,809.9 471,807.6 472.5,804.6 474,802.2 475.5,798.9 476.9,796.6 478.4,793.6 479.9,791.9 481.4,788.7 482.9,786.1 484.4,783.5 485.9,781.5 487.3,778.5 488.8,776.8 490.3,775.5 491.8,773.2 493.3,772.3 494.8,770.9 496.3,768.9 497.8,768.3 499.2,767.4 500.7,766.4 502.2,765.6 503.7,765.1 505.2,764.1 506.7,762.9 508.2,763.5 509.6,764.4 511.1,764.4 512.6,765 514.1,765.5 515.6,765.9 517.1,765.4 518.6,766 520.1,766.4 521.5,767.6 523,768.1 524.5,769.6 526,770.1 527.5,771.2 529,772.8 530.5,775.1 531.9,776.8 533.4,777.8 534.9,779.7 536.4,781 537.9,782.5 539.4,783.3 540.9,785.6 542.3,787.2 543.8,789.2 545.3,791.2 546.8,792.5 548.3,793.9 549.8,796.6 551.3,797.4 552.8,798.4 554.2,800.8 555.7,802.7 557.2,805.3 558.7,807.2 560.2,808.7 561.7,810.5 563.2,811.5 564.6,814 566.1,815.7 567.6,817.1 569.1,818.8 570.6,820.6 572.1,822.2 573.6,823.5 575.1,826.1 576.5,825.9 578,827.4 579.5,829.8 581,831.6 582.5,833.2 584,834 585.5,836.1 586.9,835.7 588.4,837.6 589.9,839.5 591.4,839.3 592.9,840.8 594.4,841.9 595.9,843.2 597.4,844.5 598.8,844.5 600.3,846.9 601.8,847.5 603.3,848.7 604.8,849.6 606.3,850.3 607.8,851.9 609.2,851.9 610.7,852.4 612.2,852.9 613.7,854.1 615.2,854.3 616.7,855.3 618.2,855.6 619.6,855.7 621.1,856.4 622.6,858 624.1,858.4 625.6,859.3 627.1,858.6 628.6,859.3 630.1,860.7 631.5,861.6 633,860.9 634.5,861.9 636,861.9 637.5,862.5 639,862.8 640.5,863.3 641.9,863.5 643.4,863 644.9,864.1 646.4,864.1 647.9,864.2 649.4,865 650.9,865.7 652.4,866.1 653.8,865.6 655.3,865.7 656.8,865.5 658.3,865.6 659.8,865.7 661.3,865.9 662.8,865.8 664.2,865.9 665.7,865.6 667.2,866.2 668.7,865.6 670.2,865 671.7,865.5 673.2,865.5 674.6,866.3 676.1,866.1 677.6,866.4 679.1,865.9 680.6,865.9 682.1,865.4 683.6,865.2 685.1,865.9 686.5,865.6 688,865 689.5,864.4 691,865.3 692.5,865.4 694,866 695.5,865.7 696.9,865.5 698.4,865.1 699.9,865.6 701.4,865.8 702.9,865.6 704.4,865.9 705.9,865 707.4,866.4 708.8,866.4 710.3,866.4 711.8,866.1 713.3,866 714.8,865.8 716.3,866.4 717.8,866 719.2,865.7 720.7,865.1 722.2,865.1"/>
<path d="M448.7,841.5 450.2,840.2 451.7,839 453.2,837.2 454.6,835.2 456.1,832.6 457.6,830.2 459.1,828.7 460.6,826.6 462.1,824.8 463.6,823.2 465.1,820.3 466.5,818.2 468,816.3 469.5,813.7 471,810.1 472.5,808.3 474,804.9 475.5,803.4 476.9,800.8 478.4,798.1 479.9,796 481.4,794.1 482.9,791.7 484.4,788.6 485.9,786.6 487.3,784.9 488.8,783 490.3,781 491.8,779.1 493.3,778.3 494.8,777.5 496.3,776.6 497.8,775.2 499.2,774.2 500.7,773.1 502.2,772.6 503.7,770.6 505.2,771 506.7,770 508.2,770.6 509.6,770.9 511.1,771.4 512.6,771.7 514.1,772.3 515.6,772.5 517.1,772.6 518.6,772.6 520.1,774.2 521.5,774.4 523,775.2 524.5,776.1 526,778.2 527.5,778.5 529,779.2 530.5,780 531.9,781.8 533.4,782.7 534.9,784.4 536.4,786.5 537.9,787.7 539.4,788.8 540.9,790.5 542.3,792.3 543.8,794.2 545.3,795.5 546.8,798.2 548.3,799.3 549.8,801.5 551.3,803.1 552.8,804.4 554.2,805.4 555.7,807.3 557.2,809.6 558.7,809.8 560.2,811.9 561.7,815.2 563.2,816.4 564.6,818.1 566.1,819.7 567.6,820.4 569.1,821 570.6,823.1 572.1,825.5 573.6,826.4 575.1,827.9 576.5,829.6 578,830.8 579.5,832.8 581,833.7 582.5,834.8 584,835.5 585.5,836.1 586.9,838.2 588.4,839.4 589.9,841.1 591.4,842 592.9,842.5 594.4,843.5 595.9,844.9 597.4,845.1 598.8,846.1 600.3,846.9 601.8,848.3 603.3,848.8 604.8,850.1 606.3,850.7 607.8,851.8 609.2,852.7 610.7,854.3 612.2,854.1 613.7,854.6 615.2,855.7 616.7,856.3 618.2,856.6 619.6,857 621.1,858.8 622.6,858.2 624.1,859.4 625.6,858.8 627.1,859.1 628.6,859.9 630.1,860.5 631.5,861 633,861.7 634.5,861.4 636,862.4 637.5,863.1 639,863.4 640.5,864.4 641.9,863.7 643.4,864.6 644.9,863.9 646.4,864 647.9,863.6 649.4,864.8 650.9,865.4 652.4,865.8 653.8,865.6 655.3,866.3 656.8,866.3 658.3,866.4 659.8,866.4 661.3,866.2 662.8,865.1 664.2,866 665.7,865.5 667.2,865.5 668.7,865.3 670.2,866.2 671.7,866.4 673.2,866.4 674.6,866.1 676.1,866 677.6,865.3 679.1,864.6 680.6,865.6 682.1,866 683.6,865.3 685.1,866.4 686.5,866.4 688,866.4 689.5,866.1 691,865.3 692.5,865.3 694,865.7 695.5,866.1 696.9,866.4 698.4,866.2 699.9,866.4 701.4,866.4 702.9,866 704.4,866.4 705.9,866.4 707.4,866.4 708.8,865.3 710.3,865.7 711.8,865.3 713.3,866.1 714.8,866.4 716.3,866 717.8,866.2 719.2,866.4 720.7,865.8 722.2,865.7"/>
<path d="M448.7,843.5 450.2,841.8 451.7,839.2 453.2,838 454.6,837.3 456.1,835.8 457.6,833 459.1,830.6 460.6,828.8 462.1,828 463.6,825.3 465.1,823.6 466.5,821.5 468,819.3 469.5,816.2 471,813.9 472.5,811.5 474,809.7 475.5,807.8 476.9,805 478.4,803.3 479.9,801.3 481.4,798.9 482.9,797.1 484.4,794.7 485.9,792.9 487.3,791.1 488.8,788.6 490.3,788 491.8,785.7 493.3,785.6 494.8,784.8 496.3,784.7 497.8,783.3 499.2,782.2 500.7,780.6 502.2,779.3 503.7,777.9 505.2,778.4 506.7,777.8 508.2,778.1 509.6,779.1 511.1,780.9 512.6,780 514.1,780.5 515.6,779.6 517.1,780.4 518.6,780.3 520.1,781.3 521.5,781.6 523,783 524.5,783.4 526,783.5 527.5,784.8 529,786.9 530.5,788.3 531.9,789.2 533.4,789.9 534.9,792 536.4,793.6 537.9,795.4 539.4,795.4 540.9,796.9 542.3,798.3 543.8,800.2 545.3,800.7 546.8,802.5 548.3,804.4 549.8,805.5 551.3,807.2 552.8,809.2 554.2,811.1 555.7,812.6 557.2,813.4 558.7,816 560.2,818.2 561.7,818.8 563.2,819.7 564.6,820.7 566.1,822.3 567.6,824.9 569.1,825.8 570.6,827.2 572.1,829.2 573.6,831.1 575.1,832.7 576.5,833.3 578,835 579.5,835.6 581,836.7 582.5,837.5 584,838.3 585.5,840.2 586.9,841.4 588.4,841.9 589.9,843.4 591.4,843.8 592.9,844.7 594.4,845.5 595.9,847 597.4,847.6 598.8,848.8 600.3,849.6 601.8,850.1 603.3,851.4 604.8,852.2 606.3,854.1 607.8,854.5 609.2,854.4 610.7,855.5 612.2,856.9 613.7,857.6 615.2,857.6 616.7,857.4 618.2,857.7 619.6,859 621.1,859 622.6,860.1 624.1,859.7 625.6,860.1 627.1,861 628.6,861.6 630.1,861.8 631.5,862.4 633,862 634.5,862.4 636,863.2 637.5,863.2 639,864.3 640.5,864.3 641.9,864.6 643.4,865 644.9,865.1 646.4,865.1 647.9,866.1 649.4,865.8 650.9,864.4 652.4,864.9 653.8,865.8 655.3,865.7 656.8,865 658.3,866 659.8,865.2 661.3,865.8 662.8,864.9 664.2,865.9 665.7,865.4 667.2,866 668.7,865.3 670.2,865.2 671.7,865.4 673.2,866.1 674.6,865.5 676.1,865.6 677.6,866.3 679.1,865.9 680.6,866 682.1,866.1 683.6,866.4 685.1,866.2 686.5,865.6 688,866.2 689.5,865.7 691,866.4 692.5,866.3 694,866 695.5,866.4 696.9,866.2 698.4,866.4 699.9,865.5 701.4,865.5 702.9,865.2 704.4,866.1 705.9,866.4 707.4,866.4 708.8,865.7 710.3,865.9 711.8,865.4 713.3,865.5 714.8,865.6 716.3,865.3 717.8,865.9 719.2,866.2 720.7,865.5 722.2,865.5"/>
<path d="M448.7,844.4 450.2,843.6 451.7,841.2 453.2,841.6 454.6,838.9 456.1,837.3 457.6,836.2 459.1,833.9 460.6,831.8 462.1,828.8 463.6,827.3 465.1,826.9 466.5,824.8 468,821.8 469.5,819.9 471,817.6 472.5,815.5 474,812.6 475.5,810.7 476.9,808.9 478.4,807.3 479.9,804.7 481.4,803.3 482.9,801.2 484.4,799.2 485.9,797.3 487.3,795.5 488.8,794.1 490.3,791.9 491.8,790.8 493.3,790.3 494.8,789.7 496.3,788.8 497.8,786.9 499.2,786.7 500.7,785 502.2,784.5 503.7,784.6 505.2,784.6 506.7,784.2 508.2,783.5 509.6,783.6 511.1,783.3 512.6,783.6 514.1,783.3 515.6,784.3 517.1,784.9 518.6,786.1 520.1,786.5 521.5,787.5 523,788.7 524.5,789.1 526,789.4 527.5,791.5 529,792.6 530.5,793.8 531.9,794.1 533.4,794.8 534.9,795.9 536.4,797.4 537.9,799.1 539.4,800.1 540.9,801.9 542.3,803.2 543.8,804.2 545.3,805.8 546.8,806.6 548.3,809.4 549.8,811.2 551.3,811.6 552.8,813.3 554.2,814.8 555.7,816.4 557.2,817.6 558.7,819 560.2,820.2 561.7,821.2 563.2,821.9 564.6,824.9 566.1,826.1 567.6,827.8 569.1,828.8 570.6,830.5 572.1,831.5 573.6,832.5 575.1,833.7 576.5,834.9 578,835.8 579.5,837.6 581,838.7 582.5,839.2 584,840 585.5,841 586.9,842.8 588.4,844.1 589.9,844.5 591.4,845.6 592.9,846.5 594.4,847.6 595.9,848 597.4,849 598.8,850.5 600.3,850.9 601.8,851.9 603.3,852.7 604.8,853 606.3,853.7 607.8,854.8 609.2,855.9 610.7,856.4 612.2,856.8 613.7,857.8 615.2,858.3 616.7,857.3 618.2,858.5 619.6,859.1 621.1,860.2 622.6,860.5 624.1,860.6 625.6,860.9 627.1,862.2 628.6,862.1 630.1,862.8 631.5,862.3 633,862.8 634.5,862.4 636,862.9 637.5,864.1 639,863.8 640.5,864.5 641.9,864.8 643.4,864.9 644.9,865.8 646.4,865.1 647.9,865.4 649.4,866.3 650.9,866.4 652.4,866.2 653.8,865.5 655.3,865.6 656.8,865.6 658.3,866 659.8,865.5 661.3,865.5 662.8,866.1 664.2,866.4 665.7,866.4 667.2,866 668.7,864.6 670.2,865.4 671.7,865.5 673.2,865.3 674.6,865.8 676.1,864.8 677.6,865.9 679.1,866.4 680.6,865.4 682.1,865.2 683.6,865.3 685.1,865.7 686.5,865.9 688,865.9 689.5,865.7 691,866.2 692.5,865.6 694,864.9 695.5,865.7 696.9,866.3 698.4,866.1 699.9,864.8 701.4,865.9 702.9,865.2 704.4,865.9 705.9,866.4 707.4,865.7 708.8,865.9 710.3,866 711.8,865.6 713.3,865.3 714.8,865.5 716.3,865 717.8,865.9 719.2,866.2 720.7,865.7 722.2,865.6"/>
<path d="M448.7,846.6 450.2,845.1 451.7,843.2 453.2,842 454.6,839.7 456.1,839.4 457.6,837.6 459.1,836.4 460.6,835.3 462.1,833.1 463.6,831 465.1,829.1 466.5,827.3 468,824.6 469.5,823.2 471,821.3 472.5,819.8 474,816.7 475.5,815.6 476.9,812.5 478.4,811.3 479.9,809.3 481.4,806.7 482.9,805.8 484.4,803.4 485.9,802.7 487.3,801.2 488.8,799.3 490.3,797.8 491.8,796.5 493.3,795.3 494.8,793.6 496.3,793.8 497.8,793.1 499.2,791.6 500.7,791.7 502.2,791.2 503.7,789.2 505.2,788.6 506.7,788.6 508.2,788.8 509.6,789.1 511.1,789.6 512.6,790 514.1,790.5 515.6,791 517.1,790.9 518.6,791 520.1,792 521.5,792.4 523,793.7 524.5,793.9 526,794.9 527.5,795.7 529,796.5 530.5,796.9 531.9,798.2 533.4,799.8 534.9,800.9 536.4,801.9 537.9,803 539.4,803.9 540.9,806 542.3,807.8 543.8,808.5 545.3,810.4 546.8,811.3 548.3,811.3 549.8,812.7 551.3,815.4 552.8,817.2 554.2,818.1 555.7,819.6 557.2,820.6 558.7,821.9 560.2,823.2 561.7,824.4 563.2,826.7 564.6,827.2 566.1,829.3 567.6,830.8 569.1,832.8 570.6,833.3 572.1,833.9 573.6,835.2 575.1,836.8 576.5,838.7 578,838.9 579.5,840.3 581,841.1 582.5,841.8 584,842.7 585.5,843.5 586.9,843.7 588.4,844.8 589.9,846.6 591.4,847.4 592.9,848.4 594.4,849.6 595.9,849.8 597.4,850.8 598.8,851.4 600.3,851.9 601.8,851.8 603.3,853.3 604.8,853.8 606.3,853.6 607.8,854.2 609.2,855.3 610.7,856.7 612.2,857.2 613.7,858.1 615.2,858.7 616.7,859.9 618.2,860 619.6,861.1 621.1,860.5 622.6,860.6 624.1,861.3 625.6,861.6 627.1,861.9 628.6,862.4 630.1,862.6 631.5,863.1 633,863.1 634.5,863.9 636,864.1 637.5,863.5 639,864.5 640.5,865.2 641.9,864.7 643.4,865 644.9,865.3 646.4,865.5 647.9,866 649.4,866.3 650.9,865.9 652.4,865.9 653.8,865.6 655.3,865.6 656.8,864.6 658.3,865.3 659.8,864.9 661.3,865.4 662.8,864.5 664.2,864.8 665.7,865.8 667.2,865.1 668.7,865.8 670.2,865.4 671.7,866.1 673.2,865.9 674.6,865.8 676.1,865.2 677.6,866.4 679.1,866.4 680.6,866.1 682.1,865.7 683.6,866.1 685.1,866 686.5,866.4 688,866.4 689.5,866.4 691,865.9 692.5,865.8 694,866 695.5,865.4 696.9,866 698.4,865.6 699.9,865.9 701.4,865.7 702.9,866 704.4,865.3 705.9,865.8 707.4,864.9 708.8,865.1 710.3,865.9 711.8,866.2 713.3,865.4 714.8,865 716.3,866.1 717.8,866 719.2,865.6 720.7,864.7 722.2,865"/>
</g>
<g fill="none" stroke="#5a5a5a" stroke-width="1.45" stroke-linejoin="round">
<path d="M448.7,643.4H746V866H448.7Z"/>
<path d="M448.7,866h-5M448.7,838.2h-3M448.7,810.4h-5M448.7,782.5h-3M448.7,754.7h-5M448.7,726.9h-3M448.7,699h-5M448.7,671.2h-3M448.7,643.4h-5M448.7,866v4.5M485.9,866v2.5M523,866v4.5M560.2,866v2.5M597.4,866v4.5M634.5,866v2.5M671.7,866v4.5M708.8,866v2.5M746,866v4.5"/>
</g>
<g font-family="Liberation Serif" font-weight="bold" font-size="12" fill="#222">
<text x="435.8" y="869" text-anchor="end">0</text>
<text x="435.8" y="813.4" text-anchor="end" textLength="17.1" lengthAdjust="spacingAndGlyphs">200</text>
<text x="435.8" y="757.7" text-anchor="end" textLength="17.1" lengthAdjust="spacingAndGlyphs">400</text>
<text x="435.8" y="702" text-anchor="end" textLength="17.1" lengthAdjust="spacingAndGlyphs">600</text>
<text x="435.8" y="646.4" text-anchor="end" textLength="17.1" lengthAdjust="spacingAndGlyphs">800</text>
<text x="447.6" y="886.3" text-anchor="middle" textLength="17.1" lengthAdjust="spacingAndGlyphs">300</text>
<text x="521.9" y="886.3" text-anchor="middle" textLength="17.1" lengthAdjust="spacingAndGlyphs">350</text>
<text x="596.2" y="886.3" text-anchor="middle" textLength="17.1" lengthAdjust="spacingAndGlyphs">400</text>
<text x="670.6" y="886.3" text-anchor="middle" textLength="17.1" lengthAdjust="spacingAndGlyphs">450</text>
<text x="744.9" y="886.3" text-anchor="middle" textLength="17.1" lengthAdjust="spacingAndGlyphs">500</text>
<text x="597.2" y="910.8" text-anchor="middle" font-size="13" letter-spacing="0.52">Wavelength(nm)</text>
<text transform="translate(402.8,754) rotate(-90)" text-anchor="middle" font-size="13.6">Fluorescence Intensity</text>
</g>
<text x="459.5" y="661.4" font-family="Liberation Sans" font-size="18" fill="#000">c</text>
<g font-family="Liberation Serif" font-weight="bold" font-size="11.5" fill="#111" text-anchor="middle">
<text x="671.7" y="727.7">1</text>
<text x="671.7" y="782.3">13</text>
</g>
<path d="M671.7,729.7V768.1" stroke="#111" stroke-width="1.3"/>
<path d="M669.5,766.1h4.4l-2.2,6z" fill="#111"/>
<g fill="none" stroke="#383838" stroke-width="1.3" stroke-linejoin="round">
<path d="M451.4,1130.1 452.9,1126.9 454.4,1124.3 455.9,1121.8 457.4,1118.5 458.8,1115.1 460.3,1111.5 461.8,1107.6 463.3,1103.4 464.8,1099.5 466.3,1094.6 467.8,1090.6 469.3,1084.9 470.8,1079.3 472.3,1073.6 473.7,1068.5 475.2,1062.4 476.7,1055.8 478.2,1049.4 479.7,1042.9 481.2,1037.7 482.7,1031.4 484.2,1024.8 485.7,1019.7 487.1,1014.4 488.6,1008.7 490.1,1003.3 491.6,998.1 493.1,992.5 494.6,988 496.1,984.9 497.6,980.2 499.1,976.6 500.6,973 502,970.4 503.5,967.3 505,965.6 506.5,964.3 508,963.6 509.5,961.9 511,961.5 512.5,962.2 514,961.6 515.4,961.3 516.9,963.3 518.4,963.5 519.9,964.3 521.4,964.8 522.9,966.3 524.4,968.8 525.9,970.6 527.4,972.3 528.9,975.5 530.3,976.9 531.8,979.4 533.3,981.8 534.8,985.2 536.3,987.6 537.8,990.7 539.3,994 540.8,997 542.3,1000 543.7,1004.1 545.2,1007 546.7,1010.1 548.2,1014.3 549.7,1016.5 551.2,1018.8 552.7,1022.7 554.2,1026.7 555.7,1031 557.2,1034.9 558.6,1038.7 560.1,1041.2 561.6,1045.1 563.1,1048.2 564.6,1051.8 566.1,1054.5 567.6,1057.5 569.1,1060.7 570.6,1064.1 572,1067.1 573.5,1069.9 575,1074.1 576.5,1077.2 578,1080.6 579.5,1083.5 581,1086.5 582.5,1089.2 584,1091.6 585.5,1095.2 586.9,1098.9 588.4,1100.6 589.9,1102.3 591.4,1105.1 592.9,1106.7 594.4,1108.4 595.9,1111.3 597.4,1114 598.9,1116.1 600.3,1118 601.8,1121.1 603.3,1122.6 604.8,1125.6 606.3,1127.5 607.8,1128.6 609.3,1130 610.8,1132.3 612.3,1133.6 613.8,1134.4 615.2,1137 616.7,1137.9 618.2,1138.7 619.7,1141.1 621.2,1141.7 622.7,1142.9 624.2,1144.5 625.7,1145.7 627.2,1146.9 628.7,1148 630.1,1149.2 631.6,1150.5 633.1,1150.8 634.6,1151 636.1,1152.5 637.6,1152.9 639.1,1154.6 640.6,1156 642.1,1156.2 643.5,1156.8 645,1157.4 646.5,1158.7 648,1159.4 649.5,1159.3 651,1159.3 652.5,1160.2 654,1160.9 655.5,1163 657,1163.3 658.4,1162.6 659.9,1162.3 661.4,1163.7 662.9,1165.4 664.4,1164.9 665.9,1165.8 667.4,1166 668.9,1166.3 670.4,1166.5 671.8,1167.1 673.3,1166.7 674.8,1166.9 676.3,1167.8 677.8,1168.6 679.3,1167.2 680.8,1167.5 682.3,1167.9 683.8,1169.1 685.3,1167.9 686.7,1168.9 688.2,1168.7 689.7,1168.6 691.2,1169 692.7,1168.9 694.2,1169 695.7,1169.2 697.2,1169.2 698.7,1169.2 700.1,1169.2 701.6,1168.9 703.1,1168 704.6,1168.5 706.1,1167.5 707.6,1168.4 709.1,1168.5 710.6,1168.7 712.1,1169.2"/>
<path d="M451.4,1131.6 452.9,1129.1 454.4,1126.7 455.9,1123.3 457.4,1120.2 458.8,1117.2 460.3,1114.3 461.8,1110.3 463.3,1106.9 464.8,1103.1 466.3,1098.9 467.8,1093.6 469.3,1089.1 470.8,1084.2 472.3,1079.1 473.7,1073.1 475.2,1067.8 476.7,1061.7 478.2,1056.4 479.7,1050.4 481.2,1045.3 482.7,1040.2 484.2,1034.5 485.7,1029.3 487.1,1024.4 488.6,1018.6 490.1,1014.4 491.6,1010.2 493.1,1006 494.6,1001 496.1,998.1 497.6,993.9 499.1,990.7 500.6,988.2 502,985.9 503.5,983.9 505,982.8 506.5,981.2 508,980.2 509.5,979.5 511,978.6 512.5,977.7 514,978.2 515.4,978.5 516.9,979.3 518.4,979.9 519.9,980.6 521.4,981.1 522.9,982.5 524.4,984.2 525.9,985.5 527.4,987.4 528.9,989.7 530.3,991.8 531.8,994 533.3,997.3 534.8,1000.2 536.3,1002.4 537.8,1005.9 539.3,1008.3 540.8,1011.1 542.3,1013.6 543.7,1016.3 545.2,1018.8 546.7,1023.4 548.2,1026 549.7,1029 551.2,1031.4 552.7,1035.3 554.2,1038.3 555.7,1041.8 557.2,1045.5 558.6,1048.4 560.1,1051 561.6,1054.6 563.1,1057.7 564.6,1060.5 566.1,1063.9 567.6,1067.3 569.1,1070.1 570.6,1073 572,1075.9 573.5,1078.5 575,1081.5 576.5,1085.2 578,1088.7 579.5,1091 581,1092.5 582.5,1095.5 584,1098.4 585.5,1100.8 586.9,1103 588.4,1105 589.9,1108.4 591.4,1110.2 592.9,1112.4 594.4,1114.3 595.9,1116.1 597.4,1119.7 598.9,1120.8 600.3,1122.6 601.8,1125 603.3,1126.8 604.8,1127.9 606.3,1130.7 607.8,1131.6 609.3,1133 610.8,1133.8 612.3,1136.4 613.8,1138.2 615.2,1139 616.7,1140.7 618.2,1141.9 619.7,1144.5 621.2,1144 622.7,1146.4 624.2,1148 625.7,1148.2 627.2,1149 628.7,1150.4 630.1,1152.3 631.6,1152.3 633.1,1152.9 634.6,1154.2 636.1,1154.8 637.6,1155.7 639.1,1156.8 640.6,1156.8 642.1,1157.6 643.5,1158.2 645,1159.5 646.5,1160.2 648,1160.6 649.5,1161.2 651,1161.4 652.5,1161.8 654,1162.5 655.5,1162.9 657,1163.2 658.4,1163.1 659.9,1164.4 661.4,1164.2 662.9,1164.3 664.4,1164.6 665.9,1165.6 667.4,1165.8 668.9,1165.3 670.4,1166.8 671.8,1166.6 673.3,1167.2 674.8,1166.7 676.3,1167.3 677.8,1167.4 679.3,1168.2 680.8,1168.7 682.3,1167.9 683.8,1169.1 685.3,1169.1 686.7,1169.1 688.2,1169.2 689.7,1168.9 691.2,1169.2 692.7,1169.1 694.2,1169 695.7,1169.2 697.2,1169.2 698.7,1169.2 700.1,1169.2 701.6,1169.2 703.1,1169.2 704.6,1168.9 706.1,1168.7 707.6,1168.2 709.1,1167.6 710.6,1167.9 712.1,1168.4"/>
<path d="M451.4,1133.1 452.9,1130.3 454.4,1128.5 455.9,1126.1 457.4,1122.9 458.8,1118.8 460.3,1116.6 461.8,1112.9 463.3,1109.8 464.8,1105.5 466.3,1101.5 467.8,1097.4 469.3,1092.7 470.8,1088.4 472.3,1084.4 473.7,1077.9 475.2,1073.2 476.7,1068.1 478.2,1062.8 479.7,1058.3 481.2,1053.5 482.7,1048.7 484.2,1043.4 485.7,1038.4 487.1,1033.8 488.6,1030.1 490.1,1026 491.6,1022.2 493.1,1018.5 494.6,1014.7 496.1,1010.7 497.6,1007.1 499.1,1005.2 500.6,1001.9 502,999.4 503.5,996.7 505,995.1 506.5,994.9 508,993.5 509.5,992.7 511,992.2 512.5,992.6 514,992 515.4,992.5 516.9,993.6 518.4,995.1 519.9,995.8 521.4,997.2 522.9,998.8 524.4,998.7 525.9,1000.5 527.4,1001.7 528.9,1003.4 530.3,1005.4 531.8,1008.1 533.3,1011 534.8,1013.2 536.3,1015.4 537.8,1017.9 539.3,1020.6 540.8,1023.1 542.3,1026.5 543.7,1028.4 545.2,1031.9 546.7,1034.4 548.2,1037.6 549.7,1039.7 551.2,1043.1 552.7,1046.5 554.2,1049.4 555.7,1051.7 557.2,1055.4 558.6,1058.8 560.1,1061.5 561.6,1063.8 563.1,1068.2 564.6,1070 566.1,1071.5 567.6,1075 569.1,1077.5 570.6,1080.8 572,1084.6 573.5,1087.1 575,1089.1 576.5,1092.3 578,1094.8 579.5,1097.4 581,1099.4 582.5,1100.7 584,1103.5 585.5,1106.9 586.9,1108.1 588.4,1110.8 589.9,1113.3 591.4,1115.1 592.9,1116.9 594.4,1119.1 595.9,1121 597.4,1123 598.9,1125.5 600.3,1126.8 601.8,1128.1 603.3,1130.4 604.8,1132.9 606.3,1134.3 607.8,1135.3 609.3,1136 610.8,1137.6 612.3,1140.8 613.8,1141.7 615.2,1142.5 616.7,1143.4 618.2,1145.3 619.7,1146.2 621.2,1147.1 622.7,1147.6 624.2,1148.5 625.7,1148.8 627.2,1150.7 628.7,1152 630.1,1153.1 631.6,1153.5 633.1,1153.5 634.6,1154.6 636.1,1155.7 637.6,1157 639.1,1158.3 640.6,1157.6 642.1,1158.6 643.5,1158.6 645,1159.3 646.5,1160.5 648,1161 649.5,1162.1 651,1162.1 652.5,1162.7 654,1162.8 655.5,1162.8 657,1164 658.4,1164 659.9,1164.4 661.4,1165.3 662.9,1165.5 664.4,1165.2 665.9,1165.9 667.4,1165.8 668.9,1166.4 670.4,1166.2 671.8,1167.1 673.3,1167.7 674.8,1167.7 676.3,1169.2 677.8,1169.2 679.3,1168.2 680.8,1169 682.3,1167.9 683.8,1167.6 685.3,1168.4 686.7,1169 688.2,1168.7 689.7,1168.3 691.2,1167.6 692.7,1167.5 694.2,1168.5 695.7,1168.2 697.2,1168.7 698.7,1168.3 700.1,1168.3 701.6,1167.9 703.1,1168.3 704.6,1168.2 706.1,1169.1 707.6,1169.2 709.1,1168.8 710.6,1168.8 712.1,1168.3"/>
<path d="M451.4,1133.3 452.9,1131.9 454.4,1130.2 455.9,1128 457.4,1125.2 458.8,1121.4 460.3,1118.4 461.8,1115.5 463.3,1111.8 464.8,1108.5 466.3,1104.7 467.8,1100.8 469.3,1097.4 470.8,1092.2 472.3,1087.6 473.7,1081.8 475.2,1077.6 476.7,1073.5 478.2,1068.7 479.7,1064.4 481.2,1059.6 482.7,1055 484.2,1050.3 485.7,1046.3 487.1,1041.9 488.6,1037.8 490.1,1034.2 491.6,1030.1 493.1,1026 494.6,1022.4 496.1,1019.4 497.6,1016.7 499.1,1013.7 500.6,1011.7 502,1009.4 503.5,1008.7 505,1007.4 506.5,1006.1 508,1004.2 509.5,1003.7 511,1003.1 512.5,1003.7 514,1004.4 515.4,1002.7 516.9,1003 518.4,1003.4 519.9,1005.1 521.4,1006.9 522.9,1008 524.4,1009.5 525.9,1011.3 527.4,1014.1 528.9,1015 530.3,1017.7 531.8,1019.3 533.3,1021.7 534.8,1022.3 536.3,1025.4 537.8,1027.7 539.3,1029.7 540.8,1032.4 542.3,1034.7 543.7,1036.9 545.2,1040.1 546.7,1042.5 548.2,1045.4 549.7,1048.8 551.2,1051.1 552.7,1054.4 554.2,1056.3 555.7,1059.3 557.2,1062 558.6,1064.4 560.1,1067.9 561.6,1071 563.1,1072.8 564.6,1075.4 566.1,1078.2 567.6,1082.2 569.1,1084.4 570.6,1087.4 572,1089.9 573.5,1093 575,1095.8 576.5,1097.8 578,1099.5 579.5,1102 581,1104.2 582.5,1106.4 584,1107.8 585.5,1110.7 586.9,1112.7 588.4,1113.5 589.9,1116.3 591.4,1118.2 592.9,1121.1 594.4,1123.4 595.9,1125.1 597.4,1125.2 598.9,1127.8 600.3,1129 601.8,1131.3 603.3,1133.6 604.8,1135.8 606.3,1136.6 607.8,1137.2 609.3,1139.1 610.8,1140.6 612.3,1142.3 613.8,1143.5 615.2,1143.9 616.7,1145.4 618.2,1147 619.7,1147.4 621.2,1148.4 622.7,1149.5 624.2,1149.5 625.7,1150.8 627.2,1151.5 628.7,1153.4 630.1,1154.2 631.6,1154.3 633.1,1155 634.6,1155.6 636.1,1157.5 637.6,1158.1 639.1,1157.8 640.6,1158 642.1,1160.8 643.5,1161.8 645,1161 646.5,1161 648,1161.1 649.5,1163.5 651,1163.4 652.5,1163.2 654,1163.1 655.5,1164.4 657,1164.2 658.4,1164.4 659.9,1165.3 661.4,1164.9 662.9,1165 664.4,1165.4 665.9,1166.5 667.4,1166.7 668.9,1167.2 670.4,1166.6 671.8,1166.1 673.3,1167.6 674.8,1167.1 676.3,1167.7 677.8,1168.6 679.3,1169.1 680.8,1168.2 682.3,1168.3 683.8,1168.9 685.3,1168.9 686.7,1169 688.2,1168.7 689.7,1167.5 691.2,1167.8 692.7,1167.7 694.2,1169 695.7,1168.1 697.2,1167.7 698.7,1167.1 700.1,1168.3 701.6,1168.7 703.1,1169 704.6,1169.2 706.1,1169.1 707.6,1169.2 709.1,1169.2 710.6,1168.9 712.1,1168.4"/>
<path d="M451.4,1135.9 452.9,1132.5 454.4,1130.7 455.9,1128.4 457.4,1125.9 458.8,1123.5 460.3,1120.3 461.8,1117.5 463.3,1115.3 464.8,1111.9 466.3,1107.4 467.8,1104.8 469.3,1099.6 470.8,1095.7 472.3,1091.5 473.7,1086.5 475.2,1082.4 476.7,1078.5 478.2,1075.2 479.7,1070.6 481.2,1066.4 482.7,1061.2 484.2,1056.9 485.7,1053.3 487.1,1048.5 488.6,1044.4 490.1,1039.9 491.6,1037 493.1,1034.8 494.6,1031.6 496.1,1028.3 497.6,1025.4 499.1,1024 500.6,1021.4 502,1019.2 503.5,1017.5 505,1017.1 506.5,1015.9 508,1014.9 509.5,1014.2 511,1013.3 512.5,1013.6 514,1014.6 515.4,1015.6 516.9,1015.1 518.4,1015.9 519.9,1016.4 521.4,1016.7 522.9,1018.3 524.4,1019.5 525.9,1021.7 527.4,1023.5 528.9,1024.3 530.3,1025.4 531.8,1027.9 533.3,1029.9 534.8,1031.7 536.3,1034.1 537.8,1036.3 539.3,1038.7 540.8,1040.7 542.3,1043.4 543.7,1046.1 545.2,1049.1 546.7,1051.6 548.2,1054.5 549.7,1056.6 551.2,1058.3 552.7,1061.7 554.2,1064.5 555.7,1067.2 557.2,1069.2 558.6,1071.9 560.1,1074.6 561.6,1077.6 563.1,1080 564.6,1082.5 566.1,1085.3 567.6,1086.8 569.1,1089.2 570.6,1092 572,1094.3 573.5,1095.7 575,1098.3 576.5,1101.4 578,1103.8 579.5,1105.5 581,1107.8 582.5,1110.3 584,1112.5 585.5,1115.2 586.9,1117.1 588.4,1119 589.9,1120.8 591.4,1121.8 592.9,1123.9 594.4,1125.2 595.9,1127.3 597.4,1129.9 598.9,1130.6 600.3,1132.7 601.8,1134.2 603.3,1135.1 604.8,1136 606.3,1137.8 607.8,1138.8 609.3,1140.9 610.8,1141.9 612.3,1143.8 613.8,1144.4 615.2,1146 616.7,1146.7 618.2,1148.5 619.7,1148.6 621.2,1149 622.7,1150.6 624.2,1151.7 625.7,1153.2 627.2,1154 628.7,1155.4 630.1,1155.4 631.6,1156.2 633.1,1156.3 634.6,1157.2 636.1,1158.2 637.6,1159.3 639.1,1159.3 640.6,1160.1 642.1,1161.3 643.5,1162.3 645,1161.8 646.5,1162.3 648,1162.8 649.5,1163.5 651,1164 652.5,1164.3 654,1164.5 655.5,1165.5 657,1164.3 658.4,1164.6 659.9,1166.4 661.4,1166.5 662.9,1166.1 664.4,1167 665.9,1167.9 667.4,1167.5 668.9,1168 670.4,1168.1 671.8,1167.4 673.3,1168 674.8,1167.7 676.3,1168.8 677.8,1169.2 679.3,1169.2 680.8,1169.2 682.3,1168.7 683.8,1168.5 685.3,1169.2 686.7,1169.2 688.2,1169.2 689.7,1169.2 691.2,1169.2 692.7,1169.2 694.2,1169 695.7,1169.2 697.2,1169.2 698.7,1169.2 700.1,1168.6 701.6,1168.8 703.1,1169.2 704.6,1168.9 706.1,1168.4 707.6,1169.2 709.1,1169.2 710.6,1169 712.1,1168.9"/>
<path d="M451.4,1137.1 452.9,1134.3 454.4,1132.3 455.9,1130 457.4,1128.3 458.8,1125.1 460.3,1123.2 461.8,1120.3 463.3,1118.4 464.8,1115 466.3,1110.9 467.8,1108 469.3,1104.3 470.8,1101.3 472.3,1096.8 473.7,1093 475.2,1088.3 476.7,1084.2 478.2,1080.3 479.7,1076.1 481.2,1072.1 482.7,1067.9 484.2,1064.1 485.7,1059.7 487.1,1055.8 488.6,1054 490.1,1049.5 491.6,1046.5 493.1,1043.4 494.6,1041.1 496.1,1038 497.6,1035.4 499.1,1033.6 500.6,1032.2 502,1029.9 503.5,1028.1 505,1027.4 506.5,1027.3 508,1026.5 509.5,1025.2 511,1024 512.5,1024.7 514,1025 515.4,1025.7 516.9,1025.6 518.4,1026.5 519.9,1026.2 521.4,1027.1 522.9,1028.6 524.4,1030.1 525.9,1030.9 527.4,1032.8 528.9,1034.5 530.3,1036.1 531.8,1037.3 533.3,1038.6 534.8,1041.2 536.3,1044 537.8,1046.3 539.3,1048.2 540.8,1049.9 542.3,1053.5 543.7,1054.8 545.2,1056.8 546.7,1059.1 548.2,1062.3 549.7,1064.3 551.2,1066.9 552.7,1069.6 554.2,1071.4 555.7,1073.2 557.2,1075.9 558.6,1078.3 560.1,1080.5 561.6,1083.2 563.1,1086.1 564.6,1087.7 566.1,1090.8 567.6,1093.3 569.1,1095.4 570.6,1098 572,1100.6 573.5,1102 575,1104.4 576.5,1106.9 578,1109.2 579.5,1110.8 581,1112.4 582.5,1114.6 584,1116.1 585.5,1118.4 586.9,1119.6 588.4,1121.5 589.9,1124.3 591.4,1126.1 592.9,1127.5 594.4,1129.2 595.9,1131.4 597.4,1132.5 598.9,1134 600.3,1136.2 601.8,1137.9 603.3,1139 604.8,1139.5 606.3,1140.8 607.8,1142 609.3,1142.8 610.8,1144.4 612.3,1145.6 613.8,1146.8 615.2,1147.4 616.7,1149 618.2,1149.7 619.7,1151.1 621.2,1151.8 622.7,1152.1 624.2,1153.6 625.7,1154.1 627.2,1155 628.7,1155.7 630.1,1156.2 631.6,1157.1 633.1,1157.6 634.6,1157.5 636.1,1159.1 637.6,1160.3 639.1,1160.3 640.6,1160.7 642.1,1160.4 643.5,1161.8 645,1162 646.5,1163 648,1163.7 649.5,1164.3 651,1164.9 652.5,1165.5 654,1165.6 655.5,1165.8 657,1165.9 658.4,1165.8 659.9,1166.7 661.4,1166.9 662.9,1167.5 664.4,1167.2 665.9,1167.9 667.4,1168.2 668.9,1168.6 670.4,1168 671.8,1169 673.3,1169.2 674.8,1169.2 676.3,1169.2 677.8,1169.2 679.3,1168.6 680.8,1168.9 682.3,1169.2 683.8,1169.2 685.3,1169.2 686.7,1169.2 688.2,1169.2 689.7,1169.2 691.2,1169.2 692.7,1169.2 694.2,1168.7 695.7,1167.5 697.2,1168.5 698.7,1168.9 700.1,1168.3 701.6,1167.7 703.1,1167.8 704.6,1168.4 706.1,1167.6 707.6,1168.2 709.1,1167.9 710.6,1168.6 712.1,1169.2"/>
<path d="M451.4,1138.2 452.9,1137 454.4,1135.4 455.9,1132.9 457.4,1130.9 458.8,1127.9 460.3,1125.3 461.8,1122.7 463.3,1120.1 464.8,1116.2 466.3,1112.6 467.8,1109.2 469.3,1106.8 470.8,1102.2 472.3,1098.7 473.7,1094.2 475.2,1090.5 476.7,1087.4 478.2,1084.3 479.7,1080.4 481.2,1075.6 482.7,1072.2 484.2,1067.6 485.7,1065.1 487.1,1061.1 488.6,1058 490.1,1055.4 491.6,1051.9 493.1,1049.1 494.6,1046.4 496.1,1044.8 497.6,1042.4 499.1,1040.1 500.6,1037.9 502,1036.4 503.5,1033.6 505,1032.9 506.5,1031.9 508,1031.4 509.5,1030.3 511,1030 512.5,1029.7 514,1031 515.4,1031.1 516.9,1031.6 518.4,1031.8 519.9,1033 521.4,1033.8 522.9,1035.3 524.4,1036.4 525.9,1037.3 527.4,1038.9 528.9,1040.7 530.3,1042.1 531.8,1043.4 533.3,1045 534.8,1047.5 536.3,1049.4 537.8,1051.8 539.3,1054 540.8,1054.4 542.3,1056.4 543.7,1058.7 545.2,1061.5 546.7,1063.5 548.2,1065.3 549.7,1067.5 551.2,1070.1 552.7,1073.4 554.2,1074.5 555.7,1077.1 557.2,1079.5 558.6,1082.1 560.1,1084.6 561.6,1087.4 563.1,1090.6 564.6,1091.6 566.1,1092.8 567.6,1095.6 569.1,1098 570.6,1100.6 572,1102.6 573.5,1105.1 575,1107.4 576.5,1109.2 578,1112.3 579.5,1113.2 581,1115.6 582.5,1117.2 584,1118.9 585.5,1120.1 586.9,1121.6 588.4,1124.6 589.9,1126.9 591.4,1128.2 592.9,1130.6 594.4,1131.4 595.9,1132.9 597.4,1134.7 598.9,1135.5 600.3,1137.5 601.8,1139 603.3,1140.1 604.8,1140.8 606.3,1142.3 607.8,1143.7 609.3,1144.7 610.8,1146 612.3,1147.9 613.8,1148 615.2,1148.8 616.7,1149.3 618.2,1150.5 619.7,1151.4 621.2,1153.3 622.7,1154.6 624.2,1155.8 625.7,1155.3 627.2,1156.3 628.7,1156.2 630.1,1156.9 631.6,1158 633.1,1158.7 634.6,1159.7 636.1,1160.3 637.6,1160.5 639.1,1160.7 640.6,1161.7 642.1,1162.9 643.5,1162.4 645,1163.5 646.5,1163.4 648,1164.6 649.5,1165.1 651,1166.1 652.5,1165.5 654,1165.4 655.5,1164.2 657,1164.4 658.4,1165.5 659.9,1167.3 661.4,1167.4 662.9,1167.4 664.4,1167.4 665.9,1167.7 667.4,1168.5 668.9,1168.7 670.4,1167.8 671.8,1168.6 673.3,1168.9 674.8,1169.2 676.3,1169.2 677.8,1168.5 679.3,1168.5 680.8,1168.9 682.3,1169 683.8,1168.5 685.3,1169 686.7,1169.2 688.2,1169.2 689.7,1169.2 691.2,1169 692.7,1169.2 694.2,1168.7 695.7,1168.8 697.2,1168.3 698.7,1168.8 700.1,1167.6 701.6,1167.9 703.1,1168.5 704.6,1168.5 706.1,1169.2 707.6,1169.2 709.1,1169.2 710.6,1169.2 712.1,1168.2"/>
<path d="M451.4,1140.1 452.9,1139.1 454.4,1137.6 455.9,1134.8 457.4,1132.2 458.8,1130 460.3,1126.9 461.8,1124.5 463.3,1121.1 464.8,1118.4 466.3,1114.9 467.8,1113.9 469.3,1109.9 470.8,1106 472.3,1101.9 473.7,1098.4 475.2,1095 476.7,1091.4 478.2,1087.9 479.7,1084.2 481.2,1080 482.7,1077.8 484.2,1074.5 485.7,1071.7 487.1,1068.3 488.6,1064.6 490.1,1061.5 491.6,1058.4 493.1,1055.5 494.6,1052.9 496.1,1051 497.6,1049 499.1,1047.5 500.6,1045.7 502,1044 503.5,1042.3 505,1042 506.5,1040.2 508,1039.6 509.5,1040 511,1039.4 512.5,1038.9 514,1039 515.4,1039.5 516.9,1040.4 518.4,1040.6 519.9,1041.2 521.4,1041.8 522.9,1043.1 524.4,1043.5 525.9,1045.9 527.4,1046.9 528.9,1049 530.3,1051 531.8,1051.8 533.3,1052.7 534.8,1054.7 536.3,1056.2 537.8,1058.3 539.3,1059.6 540.8,1062.2 542.3,1064 543.7,1066 545.2,1069.1 546.7,1070.3 548.2,1072.9 549.7,1075.6 551.2,1077.8 552.7,1079.3 554.2,1081.7 555.7,1083.5 557.2,1086.3 558.6,1088.3 560.1,1091.3 561.6,1093.3 563.1,1094.5 564.6,1097.1 566.1,1099.1 567.6,1102.2 569.1,1103 570.6,1105.4 572,1107.2 573.5,1109.6 575,1112 576.5,1113.9 578,1115.7 579.5,1117.9 581,1119.5 582.5,1121.6 584,1123.2 585.5,1126.1 586.9,1127.4 588.4,1128.2 589.9,1129.4 591.4,1131 592.9,1132.3 594.4,1133 595.9,1134.7 597.4,1136.3 598.9,1137.9 600.3,1139.2 601.8,1140.2 603.3,1142.8 604.8,1142.5 606.3,1143.5 607.8,1144.8 609.3,1146.5 610.8,1147.6 612.3,1149 613.8,1149.1 615.2,1150.6 616.7,1152.3 618.2,1152.9 619.7,1153.9 621.2,1154.3 622.7,1154.9 624.2,1156 625.7,1157.3 627.2,1157.7 628.7,1158.7 630.1,1159 631.6,1159.2 633.1,1159.9 634.6,1160.3 636.1,1161 637.6,1160.6 639.1,1162.4 640.6,1163.1 642.1,1162.7 643.5,1163.8 645,1163.7 646.5,1164.2 648,1164.6 649.5,1165.6 651,1165.9 652.5,1166 654,1167.2 655.5,1166.9 657,1167.2 658.4,1168.3 659.9,1167.8 661.4,1167.9 662.9,1168.7 664.4,1167.9 665.9,1168.3 667.4,1169 668.9,1169.2 670.4,1169.1 671.8,1169.2 673.3,1168.7 674.8,1169.2 676.3,1169 677.8,1168.7 679.3,1168.5 680.8,1169.1 682.3,1169.2 683.8,1169.2 685.3,1169.2 686.7,1169.2 688.2,1167.8 689.7,1168.1 691.2,1167.2 692.7,1167.4 694.2,1166.7 695.7,1167.4 697.2,1167.3 698.7,1167.6 700.1,1168.1 701.6,1169.1 703.1,1168.8 704.6,1168.8 706.1,1168.9 707.6,1169 709.1,1168.6 710.6,1169.2 712.1,1169"/>
<path d="M451.4,1141 452.9,1140 454.4,1137.6 455.9,1136.2 457.4,1134.3 458.8,1132.2 460.3,1129.8 461.8,1127.7 463.3,1125.2 464.8,1122.3 466.3,1119.8 467.8,1116.4 469.3,1112.6 470.8,1109.8 472.3,1106.1 473.7,1103 475.2,1099.9 476.7,1096 478.2,1092.4 479.7,1088.3 481.2,1084.7 482.7,1081.5 484.2,1078.7 485.7,1074.7 487.1,1072.6 488.6,1069.8 490.1,1066.3 491.6,1063.4 493.1,1060.7 494.6,1058.6 496.1,1056.1 497.6,1053.6 499.1,1053.1 500.6,1050.8 502,1048.9 503.5,1048.4 505,1047.7 506.5,1046.3 508,1045.3 509.5,1045 511,1045.6 512.5,1045.1 514,1045.2 515.4,1045.5 516.9,1045.4 518.4,1047.1 519.9,1047.4 521.4,1048.3 522.9,1048.7 524.4,1049.9 525.9,1050.2 527.4,1051.7 528.9,1053.6 530.3,1055.8 531.8,1057.1 533.3,1058.5 534.8,1059.3 536.3,1061.1 537.8,1063.1 539.3,1065.5 540.8,1067.2 542.3,1069.6 543.7,1072.1 545.2,1073.4 546.7,1075.6 548.2,1078.1 549.7,1079.3 551.2,1080.8 552.7,1083.1 554.2,1086.3 555.7,1088.6 557.2,1090.8 558.6,1092.4 560.1,1092.7 561.6,1095.2 563.1,1097.9 564.6,1100.7 566.1,1103.3 567.6,1105.3 569.1,1106.9 570.6,1108.9 572,1110.4 573.5,1112.2 575,1114.7 576.5,1116 578,1117.9 579.5,1119 581,1121.2 582.5,1123.3 584,1125 585.5,1126.1 586.9,1127.7 588.4,1129 589.9,1130.4 591.4,1132.2 592.9,1132.8 594.4,1135 595.9,1136.9 597.4,1137.8 598.9,1140 600.3,1141 601.8,1141.7 603.3,1143.6 604.8,1145.6 606.3,1146.9 607.8,1146.8 609.3,1146.6 610.8,1148.6 612.3,1150.3 613.8,1151.6 615.2,1151.3 616.7,1152 618.2,1152.8 619.7,1154.2 621.2,1154.7 622.7,1155.9 624.2,1156.3 625.7,1157.4 627.2,1158.6 628.7,1159.1 630.1,1159.2 631.6,1159.6 633.1,1160.5 634.6,1160.5 636.1,1162 637.6,1163.2 639.1,1162.8 640.6,1163.1 642.1,1163.5 643.5,1164.1 645,1164.1 646.5,1164.4 648,1164.2 649.5,1165.4 651,1166.4 652.5,1166.4 654,1166.7 655.5,1167 657,1168.2 658.4,1167.6 659.9,1166.9 661.4,1167.3 662.9,1167.2 664.4,1167.5 665.9,1168 667.4,1168.2 668.9,1168.1 670.4,1168.3 671.8,1168.2 673.3,1168.6 674.8,1169.1 676.3,1168.8 677.8,1169 679.3,1168.6 680.8,1169.2 682.3,1168.5 683.8,1168 685.3,1167.7 686.7,1168.1 688.2,1169 689.7,1169.1 691.2,1169.2 692.7,1169 694.2,1168.9 695.7,1168.8 697.2,1169.2 698.7,1169.2 700.1,1169.2 701.6,1169 703.1,1168.7 704.6,1168.7 706.1,1169 707.6,1169.2 709.1,1169.2 710.6,1169.2 712.1,1169.2"/>
<path d="M451.4,1142.8 452.9,1142.4 454.4,1140.2 455.9,1137.8 457.4,1135.6 458.8,1134.5 460.3,1133.4 461.8,1129.6 463.3,1126.5 464.8,1124.3 466.3,1121.9 467.8,1118.8 469.3,1115.4 470.8,1112.5 472.3,1109.6 473.7,1106.2 475.2,1102.8 476.7,1098.6 478.2,1095.9 479.7,1093.4 481.2,1089.2 482.7,1085.7 484.2,1082.5 485.7,1080.6 487.1,1078.1 488.6,1075.8 490.1,1072.8 491.6,1069.4 493.1,1066.8 494.6,1064.8 496.1,1062.8 497.6,1060.8 499.1,1059.3 500.6,1058.4 502,1057.1 503.5,1054.8 505,1054.6 506.5,1054.2 508,1053 509.5,1052.8 511,1052.6 512.5,1052.4 514,1052.6 515.4,1053.6 516.9,1053.1 518.4,1053.6 519.9,1053.5 521.4,1054.3 522.9,1055.9 524.4,1057.2 525.9,1058.6 527.4,1060.6 528.9,1060.9 530.3,1062.5 531.8,1063.2 533.3,1064.7 534.8,1066.5 536.3,1067.4 537.8,1069.9 539.3,1070.8 540.8,1073.2 542.3,1074.1 543.7,1076 545.2,1078.8 546.7,1080 548.2,1082.2 549.7,1084.4 551.2,1086.9 552.7,1088.9 554.2,1091.1 555.7,1093.2 557.2,1094.7 558.6,1096.4 560.1,1098.1 561.6,1099.9 563.1,1102.4 564.6,1104.2 566.1,1106.6 567.6,1108.3 569.1,1110.1 570.6,1112 572,1114.5 573.5,1116.8 575,1117.4 576.5,1119.8 578,1121.7 579.5,1123 581,1124.9 582.5,1126.2 584,1127.2 585.5,1129.8 586.9,1131.1 588.4,1132.2 589.9,1134.4 591.4,1135.2 592.9,1135.9 594.4,1137.6 595.9,1138.8 597.4,1140.4 598.9,1141.2 600.3,1142.9 601.8,1144.1 603.3,1145.5 604.8,1146.8 606.3,1147 607.8,1148.2 609.3,1148.8 610.8,1150.8 612.3,1152 613.8,1152.9 615.2,1152.4 616.7,1152.9 618.2,1153 619.7,1154.8 621.2,1155.5 622.7,1156.3 624.2,1157.3 625.7,1157.8 627.2,1158.6 628.7,1159 630.1,1160.7 631.6,1161.4 633.1,1162 634.6,1161.2 636.1,1161.5 637.6,1162.7 639.1,1162.9 640.6,1163.7 642.1,1164.6 643.5,1165.1 645,1163.6 646.5,1164.5 648,1165.2 649.5,1165 651,1165.6 652.5,1166.7 654,1165.8 655.5,1165.5 657,1166.1 658.4,1167.4 659.9,1167.8 661.4,1168 662.9,1168.8 664.4,1167.5 665.9,1168.2 667.4,1168.8 668.9,1168.9 670.4,1169 671.8,1169.2 673.3,1169.2 674.8,1168.5 676.3,1168.6 677.8,1168.5 679.3,1168.7 680.8,1169.2 682.3,1168.9 683.8,1168.5 685.3,1169.2 686.7,1169.2 688.2,1169.2 689.7,1169.2 691.2,1169.2 692.7,1169.2 694.2,1169.2 695.7,1169.1 697.2,1168.4 698.7,1169 700.1,1169.2 701.6,1169.2 703.1,1168.7 704.6,1168 706.1,1168 707.6,1168.3 709.1,1168.5 710.6,1169.2 712.1,1168.8"/>
<path d="M451.4,1144.3 452.9,1143 454.4,1141.5 455.9,1139.6 457.4,1137.6 458.8,1135.5 460.3,1133.5 461.8,1132.3 463.3,1130 464.8,1128.1 466.3,1124.6 467.8,1120.6 469.3,1118.7 470.8,1115.9 472.3,1112.7 473.7,1110.1 475.2,1105.9 476.7,1103.1 478.2,1099.1 479.7,1095.6 481.2,1093.2 482.7,1091.1 484.2,1087.7 485.7,1085.3 487.1,1083.1 488.6,1080.4 490.1,1077.2 491.6,1075.4 493.1,1073.2 494.6,1070.5 496.1,1068.8 497.6,1066.6 499.1,1064.6 500.6,1063.8 502,1063.1 503.5,1062.4 505,1060.4 506.5,1059.5 508,1059.1 509.5,1059 511,1058.2 512.5,1058.7 514,1057.5 515.4,1058.3 516.9,1059.9 518.4,1059.7 519.9,1060.4 521.4,1061.3 522.9,1062.3 524.4,1062.6 525.9,1064.2 527.4,1064.6 528.9,1066.6 530.3,1067.5 531.8,1069.8 533.3,1070.5 534.8,1072.6 536.3,1074.1 537.8,1075.2 539.3,1077.4 540.8,1078.7 542.3,1080.5 543.7,1081.7 545.2,1083.4 546.7,1085.5 548.2,1087.7 549.7,1090.1 551.2,1091.1 552.7,1093.4 554.2,1095.9 555.7,1098 557.2,1100.5 558.6,1102.2 560.1,1103.7 561.6,1105.1 563.1,1106.4 564.6,1108 566.1,1111 567.6,1112.8 569.1,1114 570.6,1115.6 572,1117.4 573.5,1119.6 575,1120.8 576.5,1122.5 578,1124.3 579.5,1125.9 581,1127.5 582.5,1128.8 584,1129.8 585.5,1131.5 586.9,1133.5 588.4,1134.8 589.9,1136.2 591.4,1137.2 592.9,1138.2 594.4,1138.9 595.9,1140.2 597.4,1142.7 598.9,1144.1 600.3,1145.5 601.8,1146 603.3,1145.8 604.8,1147.1 606.3,1148.7 607.8,1149 609.3,1150 610.8,1151.6 612.3,1152.9 613.8,1152.8 615.2,1153.5 616.7,1155.6 618.2,1156.3 619.7,1156.4 621.2,1157.7 622.7,1158.1 624.2,1159 625.7,1160.1 627.2,1160.4 628.7,1160.8 630.1,1160.9 631.6,1162.2 633.1,1162.1 634.6,1162.6 636.1,1163.7 637.6,1163.1 639.1,1163.8 640.6,1163.9 642.1,1163.6 643.5,1164.2 645,1164.4 646.5,1165.1 648,1165.9 649.5,1166.2 651,1167.3 652.5,1167 654,1166.8 655.5,1167 657,1167.8 658.4,1168.6 659.9,1168.8 661.4,1168.9 662.9,1169.2 664.4,1168.3 665.9,1169 667.4,1168.9 668.9,1169.1 670.4,1168.9 671.8,1169.2 673.3,1169.2 674.8,1169.2 676.3,1169.1 677.8,1168.8 679.3,1169.1 680.8,1168.5 682.3,1168.6 683.8,1168.7 685.3,1168.8 686.7,1168.3 688.2,1168.6 689.7,1167.9 691.2,1168.3 692.7,1168.5 694.2,1168.6 695.7,1168.6 697.2,1168.5 698.7,1169 700.1,1168.5 701.6,1167.4 703.1,1167.9 704.6,1168.3 706.1,1168.9 707.6,1169.2 709.1,1169.2 710.6,1169 712.1,1169.2"/>
<path d="M451.4,1145.4 452.9,1144.5 454.4,1143.5 455.9,1142.1 457.4,1140.1 458.8,1138.2 460.3,1135.6 461.8,1134.1 463.3,1131.7 464.8,1128.9 466.3,1126.9 467.8,1125.3 469.3,1122.1 470.8,1118.6 472.3,1115.7 473.7,1112.9 475.2,1111 476.7,1106.8 478.2,1104.1 479.7,1101.8 481.2,1098.8 482.7,1095.6 484.2,1092.7 485.7,1090.4 487.1,1086.4 488.6,1083.7 490.1,1081.4 491.6,1079.3 493.1,1077.7 494.6,1076.4 496.1,1074.9 497.6,1072.2 499.1,1070.6 500.6,1068.5 502,1068.8 503.5,1066.7 505,1065.7 506.5,1065.5 508,1064.5 509.5,1064.6 511,1064.5 512.5,1064.2 514,1064.3 515.4,1064.5 516.9,1064.9 518.4,1065 519.9,1066.3 521.4,1068 522.9,1068.7 524.4,1070.3 525.9,1069.5 527.4,1071 528.9,1072 530.3,1073 531.8,1074.8 533.3,1076.2 534.8,1077.3 536.3,1078.8 537.8,1079.9 539.3,1081.8 540.8,1083.8 542.3,1086 543.7,1088.1 545.2,1089.1 546.7,1090.4 548.2,1092.4 549.7,1093.4 551.2,1096.8 552.7,1097.7 554.2,1100 555.7,1101.6 557.2,1103.3 558.6,1105.3 560.1,1107 561.6,1108.4 563.1,1109 564.6,1111.3 566.1,1113 567.6,1114.6 569.1,1117.1 570.6,1118.5 572,1120.5 573.5,1121.6 575,1123.7 576.5,1124.7 578,1126.9 579.5,1128.6 581,1129.5 582.5,1130.6 584,1131.9 585.5,1132.6 586.9,1134.2 588.4,1136.1 589.9,1137.2 591.4,1139.3 592.9,1140.1 594.4,1141.3 595.9,1142.7 597.4,1144.3 598.9,1144.7 600.3,1146.9 601.8,1147.6 603.3,1149.1 604.8,1149.8 606.3,1150.6 607.8,1151.6 609.3,1152.5 610.8,1152.9 612.3,1152.6 613.8,1153 615.2,1154.5 616.7,1155.8 618.2,1156.2 619.7,1157.5 621.2,1158.8 622.7,1158.5 624.2,1159.3 625.7,1159.1 627.2,1159.8 628.7,1161.3 630.1,1161.5 631.6,1161.7 633.1,1162.3 634.6,1163.5 636.1,1164.4 637.6,1163.3 639.1,1165.3 640.6,1165.6 642.1,1165.1 643.5,1164.5 645,1164.9 646.5,1165.6 648,1165.9 649.5,1165.9 651,1166.8 652.5,1166.5 654,1167 655.5,1167.4 657,1167.6 658.4,1167.8 659.9,1168.7 661.4,1168 662.9,1168.8 664.4,1168.9 665.9,1169.2 667.4,1169.2 668.9,1169.2 670.4,1169.1 671.8,1169 673.3,1169.1 674.8,1168.7 676.3,1169.1 677.8,1169.2 679.3,1169.2 680.8,1169.2 682.3,1169.2 683.8,1168.3 685.3,1168.3 686.7,1168.9 688.2,1169.2 689.7,1168.8 691.2,1168.6 692.7,1168.7 694.2,1168.5 695.7,1168.4 697.2,1168.3 698.7,1167.9 700.1,1169.1 701.6,1169.2 703.1,1169.2 704.6,1169.2 706.1,1168.2 707.6,1168.4 709.1,1168.4 710.6,1168.2 712.1,1168.6"/>
<path d="M451.4,1147.2 452.9,1146.2 454.4,1144.4 455.9,1142.8 457.4,1140.7 458.8,1140.2 460.3,1138.7 461.8,1136.8 463.3,1134.9 464.8,1132.2 466.3,1129.4 467.8,1127.3 469.3,1124.3 470.8,1121.5 472.3,1119.4 473.7,1116.3 475.2,1113 476.7,1110.9 478.2,1109.4 479.7,1105.9 481.2,1102.9 482.7,1100 484.2,1097.3 485.7,1095 487.1,1092.6 488.6,1090.7 490.1,1087.3 491.6,1084.8 493.1,1083.4 494.6,1082.2 496.1,1080.1 497.6,1077.8 499.1,1076.7 500.6,1076.1 502,1074.4 503.5,1073.4 505,1073.2 506.5,1072.5 508,1071.8 509.5,1072 511,1071.4 512.5,1070.7 514,1070.6 515.4,1070.6 516.9,1071.1 518.4,1072.1 519.9,1072.6 521.4,1072.9 522.9,1074.1 524.4,1074.9 525.9,1076.4 527.4,1077.3 528.9,1078.7 530.3,1080.2 531.8,1080.9 533.3,1081.1 534.8,1083.8 536.3,1085.2 537.8,1086.4 539.3,1088.2 540.8,1089.4 542.3,1090.5 543.7,1093.1 545.2,1094.4 546.7,1095.6 548.2,1097 549.7,1098 551.2,1100.1 552.7,1101.5 554.2,1103.9 555.7,1106.2 557.2,1107.9 558.6,1109.6 560.1,1110.7 561.6,1112.1 563.1,1114 564.6,1116.2 566.1,1117.6 567.6,1119.4 569.1,1121 570.6,1123.3 572,1123.6 573.5,1124.9 575,1125.2 576.5,1126.2 578,1128.7 579.5,1129.5 581,1132 582.5,1132.3 584,1134.5 585.5,1137.1 586.9,1138.1 588.4,1138.8 589.9,1139.3 591.4,1140.5 592.9,1141.3 594.4,1143 595.9,1145.2 597.4,1146 598.9,1147.4 600.3,1147.7 601.8,1149.8 603.3,1150.8 604.8,1151.8 606.3,1152.1 607.8,1152.2 609.3,1153.3 610.8,1154.7 612.3,1155.4 613.8,1155.9 615.2,1155.9 616.7,1156.7 618.2,1156.8 619.7,1159.3 621.2,1158.5 622.7,1158.2 624.2,1159.7 625.7,1159.1 627.2,1161.2 628.7,1161.2 630.1,1162.6 631.6,1163.1 633.1,1163.1 634.6,1163.4 636.1,1163.7 637.6,1164.3 639.1,1165.6 640.6,1166.4 642.1,1166.5 643.5,1166.8 645,1166.9 646.5,1167.7 648,1167.4 649.5,1167.1 651,1167.6 652.5,1167 654,1167.4 655.5,1167.4 657,1168.4 658.4,1168.5 659.9,1169.2 661.4,1169.2 662.9,1169.2 664.4,1169.2 665.9,1169.2 667.4,1167.9 668.9,1168.2 670.4,1168.7 671.8,1168.2 673.3,1168.5 674.8,1168.6 676.3,1168.7 677.8,1168.2 679.3,1167.7 680.8,1169 682.3,1168.8 683.8,1169.1 685.3,1168.9 686.7,1167.7 688.2,1168.4 689.7,1169.2 691.2,1168.9 692.7,1169.1 694.2,1169.2 695.7,1168 697.2,1167.4 698.7,1167.6 700.1,1168.1 701.6,1168.8 703.1,1168.1 704.6,1168.6 706.1,1168.6 707.6,1168.8 709.1,1168.7 710.6,1169.2 712.1,1169.2"/>
</g>
<g fill="none" stroke="#5a5a5a" stroke-width="1.45" stroke-linejoin="round">
<path d="M451.4,945.8H749.3V1168.8H451.4Z"/>
<path d="M451.4,1168.8h-5M451.4,1140.9h-3M451.4,1113h-5M451.4,1085.2h-3M451.4,1057.3h-5M451.4,1029.4h-3M451.4,1001.5h-5M451.4,973.7h-3M451.4,945.8h-5M451.4,1168.8v4.5M488.6,1168.8v2.5M525.9,1168.8v4.5M563.1,1168.8v2.5M600.3,1168.8v4.5M637.6,1168.8v2.5M674.8,1168.8v4.5M712.1,1168.8v2.5M749.3,1168.8v4.5"/>
</g>
<g font-family="Liberation Serif" font-weight="bold" font-size="12" fill="#222">
<text x="438.5" y="1171.8" text-anchor="end">0</text>
<text x="438.5" y="1116" text-anchor="end" textLength="17.1" lengthAdjust="spacingAndGlyphs">200</text>
<text x="438.5" y="1060.3" text-anchor="end" textLength="17.1" lengthAdjust="spacingAndGlyphs">400</text>
<text x="438.5" y="1004.5" text-anchor="end" textLength="17.1" lengthAdjust="spacingAndGlyphs">600</text>
<text x="438.5" y="948.8" text-anchor="end" textLength="17.1" lengthAdjust="spacingAndGlyphs">800</text>
<text x="450.3" y="1189.1" text-anchor="middle" textLength="17.1" lengthAdjust="spacingAndGlyphs">300</text>
<text x="524.8" y="1189.1" text-anchor="middle" textLength="17.1" lengthAdjust="spacingAndGlyphs">350</text>
<text x="599.2" y="1189.1" text-anchor="middle" textLength="17.1" lengthAdjust="spacingAndGlyphs">400</text>
<text x="673.7" y="1189.1" text-anchor="middle" textLength="17.1" lengthAdjust="spacingAndGlyphs">450</text>
<text x="748.2" y="1189.1" text-anchor="middle" textLength="17.1" lengthAdjust="spacingAndGlyphs">500</text>
<text x="599.8" y="1211.9" text-anchor="middle" font-size="13" letter-spacing="0.52">Wavelength(nm)</text>
<text transform="translate(402.8,1057.7) rotate(-90)" text-anchor="middle" font-size="13.6">Fluorescence Intensity</text>
</g>
<text x="459.5" y="967.7" font-family="Liberation Sans" font-size="18" fill="#000">d</text>
<g font-family="Liberation Serif" font-weight="bold" font-size="11.5" fill="#111" text-anchor="middle">
<text x="673" y="1030.1">1</text>
<text x="673" y="1085.3">13</text>
</g>
<path d="M673,1032.4V1070.8" stroke="#111" stroke-width="1.3"/>
<path d="M670.8,1068.8h4.4l-2.2,6z" fill="#111"/>
<text x="1.5" y="19.8" font-family="Liberation Sans" font-size="28" fill="#000">A</text>
<text x="389" y="19.8" font-family="Liberation Sans" font-size="27.5" fill="#000">B</text>
</svg>
</body></html>
